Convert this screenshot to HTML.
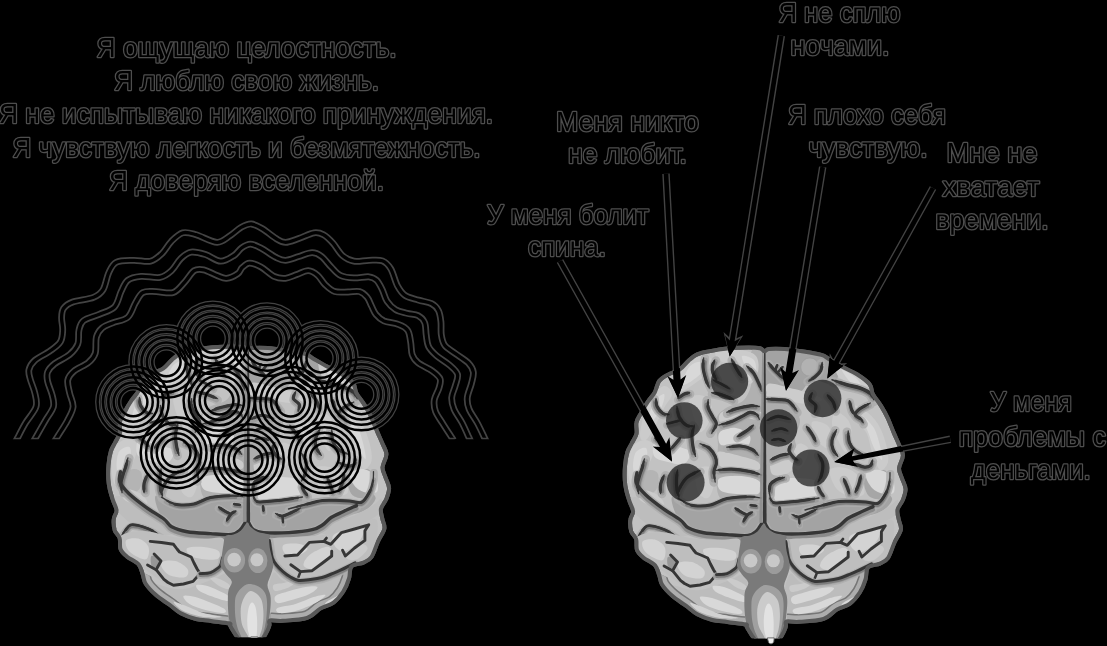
<!DOCTYPE html>
<html lang="ru">
<head>
<meta charset="utf-8">
<title>Мозг</title>
<style>
html,body{margin:0;padding:0;background:#000;}
body{width:1107px;height:646px;overflow:hidden;font-family:"Liberation Sans",sans-serif;}
svg{display:block;filter:grayscale(1);}
</style>
</head>
<body>
<svg width="1107" height="646" viewBox="0 0 1107 646">
<rect width="1107" height="646" fill="#000"/>
<defs>
<g id="brain">
<clipPath id="bclip"><path d="M764.8,351.3C766.3,351.4 765.6,349.5 768.9,349.1C772.2,348.8 779.3,348.8 784.6,349.1C789.8,349.5 794.4,350.2 800.6,351.1C806.7,352.1 816.6,353.6 821.3,354.9C826.0,356.2 825.1,356.9 828.7,358.9C832.4,361.0 838.4,364.8 843.1,367.3C847.8,369.9 852.5,371.5 856.9,374.3C861.3,377.1 866.9,380.9 869.6,384.2C872.2,387.5 871.0,390.4 872.9,394.1C874.8,397.7 878.6,402.0 881.0,405.9C883.5,409.9 885.4,413.3 887.6,417.8C889.7,422.3 892.0,428.7 893.9,433.1C895.8,437.6 897.4,440.8 898.9,444.5C900.4,448.2 902.9,451.5 902.9,455.4C902.9,459.4 899.2,464.5 899.0,468.3C898.9,472.1 900.8,474.7 901.9,478.2C903.0,481.6 905.4,485.4 905.6,489.1C905.7,492.7 904.2,496.5 902.9,499.9C901.5,503.4 898.1,506.5 897.4,509.8C896.8,513.1 898.3,516.4 898.8,519.7C899.4,523.0 901.6,525.8 900.9,529.6C900.2,533.4 896.6,537.8 894.5,542.5C892.3,547.2 890.5,554.3 888.1,557.8C885.7,561.3 883.4,562.0 880.0,563.6C876.7,565.2 870.4,564.8 868.0,567.4C865.6,570.1 866.9,575.3 865.5,579.5C864.2,583.7 862.4,588.4 859.8,592.5C857.2,596.5 853.8,600.8 850.0,603.6C846.2,606.5 841.5,606.8 837.1,609.4C832.8,611.9 829.9,616.8 823.6,618.9C817.3,621.0 805.3,621.4 799.1,621.8C792.9,622.3 788.8,620.8 786.6,621.5C784.4,622.2 786.4,624.3 786.0,626.0C785.6,627.7 784.8,629.8 784.0,631.5C783.2,633.2 782.1,634.9 781.2,636.5C780.3,638.1 779.2,638.8 778.6,641.0C778.0,643.2 781.2,648.5 777.5,650.0C773.8,651.5 760.2,651.5 756.5,650.0C752.8,648.5 756.0,643.5 755.2,641.0C754.4,638.5 752.8,636.9 751.6,635.0C750.4,633.1 749.1,631.0 748.2,629.5C747.3,628.0 746.9,626.9 746.4,626.0C745.9,625.1 748.6,625.0 745.4,624.3C742.2,623.6 732.9,622.7 727.4,621.9C721.9,621.2 717.4,621.2 712.4,620.0C707.4,618.7 701.7,616.7 697.3,614.3C692.9,611.9 690.0,608.7 685.9,605.7C681.8,602.7 676.4,599.6 672.5,596.1C668.5,592.6 664.4,588.3 662.2,584.8C660.0,581.4 660.4,578.6 659.2,575.3C658.0,572.1 657.7,568.4 655.1,565.4C652.5,562.5 646.6,560.2 643.6,557.7C640.6,555.2 638.3,553.4 637.1,550.3C635.8,547.2 637.1,542.2 636.1,539.0C635.1,535.9 632.2,534.5 631.2,531.3C630.3,528.1 629.9,523.0 630.3,519.7C630.6,516.4 633.2,514.5 633.1,511.5C633.0,508.5 630.8,505.5 629.7,501.9C628.5,498.3 627.0,493.7 626.2,490.0C625.4,486.4 625.0,484.2 624.8,480.1C624.6,476.1 624.6,470.6 625.0,466.0C625.4,461.3 626.2,456.1 627.4,452.2C628.5,448.4 630.4,446.1 631.9,443.0C633.5,440.0 635.7,437.3 636.5,433.8C637.2,430.4 635.7,425.8 636.5,422.4C637.2,418.9 639.1,416.6 641.0,413.2C642.9,409.7 645.6,405.1 647.9,401.7C650.1,398.2 652.8,395.9 654.7,392.5C656.6,389.0 656.9,384.0 659.2,381.0C661.5,378.0 664.9,376.3 668.3,374.5C671.7,372.6 676.2,372.0 679.6,369.7C683.0,367.4 685.6,363.2 688.7,360.6C691.7,358.0 694.2,355.7 697.8,354.1C701.3,352.5 704.8,352.1 710.0,351.1C715.3,350.2 722.8,349.0 729.3,348.3C735.8,347.7 743.8,347.4 748.9,347.4C754.0,347.4 757.4,347.7 760.0,348.3C762.7,349.0 763.3,351.2 764.8,351.3Z"/></clipPath>
<clipPath id="cutclip"><rect x="560" y="300" width="400" height="338.2"/></clipPath>
<g clip-path="url(#cutclip)">
<path d="M764.8,351.3C766.3,351.4 765.6,349.5 768.9,349.1C772.2,348.8 779.3,348.8 784.6,349.1C789.8,349.5 794.4,350.2 800.6,351.1C806.7,352.1 816.6,353.6 821.3,354.9C826.0,356.2 825.1,356.9 828.7,358.9C832.4,361.0 838.4,364.8 843.1,367.3C847.8,369.9 852.5,371.5 856.9,374.3C861.3,377.1 866.9,380.9 869.6,384.2C872.2,387.5 871.0,390.4 872.9,394.1C874.8,397.7 878.6,402.0 881.0,405.9C883.5,409.9 885.4,413.3 887.6,417.8C889.7,422.3 892.0,428.7 893.9,433.1C895.8,437.6 897.4,440.8 898.9,444.5C900.4,448.2 902.9,451.5 902.9,455.4C902.9,459.4 899.2,464.5 899.0,468.3C898.9,472.1 900.8,474.7 901.9,478.2C903.0,481.6 905.4,485.4 905.6,489.1C905.7,492.7 904.2,496.5 902.9,499.9C901.5,503.4 898.1,506.5 897.4,509.8C896.8,513.1 898.3,516.4 898.8,519.7C899.4,523.0 901.6,525.8 900.9,529.6C900.2,533.4 896.6,537.8 894.5,542.5C892.3,547.2 890.5,554.3 888.1,557.8C885.7,561.3 883.4,562.0 880.0,563.6C876.7,565.2 870.4,564.8 868.0,567.4C865.6,570.1 866.9,575.3 865.5,579.5C864.2,583.7 862.4,588.4 859.8,592.5C857.2,596.5 853.8,600.8 850.0,603.6C846.2,606.5 841.5,606.8 837.1,609.4C832.8,611.9 829.9,616.8 823.6,618.9C817.3,621.0 805.3,621.4 799.1,621.8C792.9,622.3 788.8,620.8 786.6,621.5C784.4,622.2 786.4,624.3 786.0,626.0C785.6,627.7 784.8,629.8 784.0,631.5C783.2,633.2 782.1,634.9 781.2,636.5C780.3,638.1 779.2,638.8 778.6,641.0C778.0,643.2 781.2,648.5 777.5,650.0C773.8,651.5 760.2,651.5 756.5,650.0C752.8,648.5 756.0,643.5 755.2,641.0C754.4,638.5 752.8,636.9 751.6,635.0C750.4,633.1 749.1,631.0 748.2,629.5C747.3,628.0 746.9,626.9 746.4,626.0C745.9,625.1 748.6,625.0 745.4,624.3C742.2,623.6 732.9,622.7 727.4,621.9C721.9,621.2 717.4,621.2 712.4,620.0C707.4,618.7 701.7,616.7 697.3,614.3C692.9,611.9 690.0,608.7 685.9,605.7C681.8,602.7 676.4,599.6 672.5,596.1C668.5,592.6 664.4,588.3 662.2,584.8C660.0,581.4 660.4,578.6 659.2,575.3C658.0,572.1 657.7,568.4 655.1,565.4C652.5,562.5 646.6,560.2 643.6,557.7C640.6,555.2 638.3,553.4 637.1,550.3C635.8,547.2 637.1,542.2 636.1,539.0C635.1,535.9 632.2,534.5 631.2,531.3C630.3,528.1 629.9,523.0 630.3,519.7C630.6,516.4 633.2,514.5 633.1,511.5C633.0,508.5 630.8,505.5 629.7,501.9C628.5,498.3 627.0,493.7 626.2,490.0C625.4,486.4 625.0,484.2 624.8,480.1C624.6,476.1 624.6,470.6 625.0,466.0C625.4,461.3 626.2,456.1 627.4,452.2C628.5,448.4 630.4,446.1 631.9,443.0C633.5,440.0 635.7,437.3 636.5,433.8C637.2,430.4 635.7,425.8 636.5,422.4C637.2,418.9 639.1,416.6 641.0,413.2C642.9,409.7 645.6,405.1 647.9,401.7C650.1,398.2 652.8,395.9 654.7,392.5C656.6,389.0 656.9,384.0 659.2,381.0C661.5,378.0 664.9,376.3 668.3,374.5C671.7,372.6 676.2,372.0 679.6,369.7C683.0,367.4 685.6,363.2 688.7,360.6C691.7,358.0 694.2,355.7 697.8,354.1C701.3,352.5 704.8,352.1 710.0,351.1C715.3,350.2 722.8,349.0 729.3,348.3C735.8,347.7 743.8,347.4 748.9,347.4C754.0,347.4 757.4,347.7 760.0,348.3C762.7,349.0 763.3,351.2 764.8,351.3Z" fill="#c2c2c2" stroke="#585858" stroke-width="4" stroke-linejoin="round"/>
<g clip-path="url(#bclip)">
<path d="M766.0,350.0C771.7,342.7 790.0,350.7 800.0,352.0C810.0,353.3 819.7,354.7 826.0,358.0C832.3,361.3 837.0,367.7 838.0,372.0C839.0,376.3 836.3,382.7 832.0,384.0C827.7,385.3 817.3,378.7 812.0,380.0C806.7,381.3 805.3,389.3 800.0,392.0C794.7,394.7 785.7,395.3 780.0,396.0C774.3,396.7 768.3,403.7 766.0,396.0C763.7,388.3 760.3,357.3 766.0,350.0Z" fill="#a3a3a3" />
<path d="M766.0,404.0C770.0,392.0 784.3,405.3 790.0,408.0C795.7,410.7 799.2,414.7 800.0,420.0C800.8,425.3 795.0,433.7 795.0,440.0C795.0,446.3 800.8,453.0 800.0,458.0C799.2,463.0 794.2,466.7 790.0,470.0C785.8,473.3 779.0,476.3 775.0,478.0C771.0,479.7 767.5,492.3 766.0,480.0C764.5,467.7 762.0,416.0 766.0,404.0Z" fill="#adadad" />
<path d="M762.0,352.0C759.7,328.7 749.7,355.3 748.0,360.0C746.3,364.7 752.7,373.3 752.0,380.0C751.3,386.7 748.3,395.3 744.0,400.0C739.7,404.7 730.7,404.7 726.0,408.0C721.3,411.3 717.3,413.8 716.0,420.0C714.7,426.2 718.0,436.7 718.0,445.0C718.0,453.3 715.7,461.2 716.0,470.0C716.3,478.8 716.0,493.0 720.0,498.0C724.0,503.0 733.0,499.7 740.0,500.0C747.0,500.3 758.3,524.7 762.0,500.0C765.7,475.3 764.3,375.3 762.0,352.0Z" fill="#b0b0b0" />
<path d="M672.0,497.0C673.7,495.2 682.2,502.0 686.0,503.5C689.8,505.0 691.0,505.7 695.0,506.0C699.0,506.3 704.7,506.7 710.0,505.5C715.3,504.3 720.5,500.4 727.0,499.0C733.5,497.6 743.2,497.1 749.0,497.0C754.8,496.9 759.8,494.3 762.0,498.5C764.2,502.7 763.2,516.4 762.0,522.0C760.8,527.6 760.3,530.0 755.0,532.0C749.7,534.0 738.3,534.0 730.0,534.0C721.7,534.0 712.0,533.3 705.0,532.0C698.0,530.7 692.8,529.0 688.0,526.0C683.2,523.0 678.7,518.8 676.0,514.0C673.3,509.2 670.3,498.8 672.0,497.0Z" fill="#a3a3a3" />
<path d="M767.0,500.0C772.3,496.2 790.2,503.0 800.0,503.0C809.8,503.0 817.7,500.8 826.0,500.0C834.3,499.2 841.7,497.5 850.0,498.0C858.3,498.5 870.0,503.7 876.0,503.0C882.0,502.3 883.3,494.5 886.0,494.0C888.7,493.5 893.0,497.0 892.0,500.0C891.0,503.0 887.0,508.7 880.0,512.0C873.0,515.3 857.3,517.0 850.0,520.0C842.7,523.0 843.5,527.7 836.0,530.0C828.5,532.3 814.3,533.5 805.0,534.0C795.7,534.5 786.2,534.3 780.0,533.0C773.8,531.7 770.2,531.5 768.0,526.0C765.8,520.5 761.7,503.8 767.0,500.0Z" fill="#a3a3a3" />
<path d="M865.0,479.0C866.8,476.0 872.5,473.3 876.0,472.0C879.5,470.7 883.9,469.0 886.0,471.0C888.1,473.0 889.2,479.5 888.5,484.0C887.8,488.5 884.9,495.8 882.0,498.0C879.1,500.2 873.8,498.8 871.0,497.5C868.2,496.2 866.5,493.1 865.5,490.0C864.5,486.9 863.2,482.0 865.0,479.0Z" fill="#a6a6a6" />
<path d="M641.0,476.0C642.2,472.7 647.2,470.3 650.0,470.0C652.8,469.7 656.8,471.0 658.0,474.0C659.2,477.0 658.3,484.7 657.0,488.0C655.7,491.3 652.4,493.7 650.0,494.0C647.6,494.3 644.0,493.0 642.5,490.0C641.0,487.0 639.8,479.3 641.0,476.0Z" fill="#b4b4b4" />
<path d="M628.0,500.0C629.0,497.7 634.7,496.0 640.0,498.0C645.3,500.0 653.3,507.3 660.0,512.0C666.7,516.7 675.0,522.3 680.0,526.0C685.0,529.7 690.7,532.3 690.0,534.0C689.3,535.7 682.7,537.3 676.0,536.0C669.3,534.7 657.0,530.0 650.0,526.0C643.0,522.0 637.7,516.3 634.0,512.0C630.3,507.7 627.0,502.3 628.0,500.0Z" fill="#bdbdbd" />
<path d="M898.0,500.0C897.0,498.7 894.3,503.3 890.0,506.0C885.7,508.7 878.7,513.0 872.0,516.0C865.3,519.0 855.7,521.0 850.0,524.0C844.3,527.0 837.0,532.3 838.0,534.0C839.0,535.7 849.0,535.7 856.0,534.0C863.0,532.3 873.3,527.3 880.0,524.0C886.7,520.7 893.0,518.0 896.0,514.0C899.0,510.0 899.0,501.3 898.0,500.0Z" fill="#bdbdbd" />
<circle cx="809.9" cy="367.1" r="9.2" fill="#b2b2b2" stroke="#9d9d9d" stroke-width="0.8"/>
<path d="M716.0,352.0C719.0,350.0 733.3,349.3 740.0,350.0C746.7,350.7 753.0,352.3 756.0,356.0C759.0,359.7 759.0,367.3 758.0,372.0C757.0,376.7 752.3,384.0 750.0,384.0C747.7,384.0 746.0,375.7 744.0,372.0C742.0,368.3 741.7,363.7 738.0,362.0C734.3,360.3 725.7,363.7 722.0,362.0C718.3,360.3 713.0,354.0 716.0,352.0Z" fill="#cbcbcb" />
<path d="M742.0,356.0C743.3,354.7 751.7,357.0 754.0,360.0C756.3,363.0 756.7,370.7 756.0,374.0C755.3,377.3 751.7,381.0 750.0,380.0C748.3,379.0 747.3,372.0 746.0,368.0C744.7,364.0 740.7,357.3 742.0,356.0Z" fill="#d8d8d8" />
<path d="M686.0,362.0C690.3,359.0 697.7,356.3 702.0,356.0C706.3,355.7 711.3,357.0 712.0,360.0C712.7,363.0 709.0,370.0 706.0,374.0C703.0,378.0 698.3,381.0 694.0,384.0C689.7,387.0 683.7,391.3 680.0,392.0C676.3,392.7 672.7,391.0 672.0,388.0C671.3,385.0 673.7,378.3 676.0,374.0C678.3,369.7 681.7,365.0 686.0,362.0Z" fill="#cbcbcb" />
<path d="M690.0,366.0C693.3,362.3 700.0,361.0 702.0,362.0C704.0,363.0 704.0,368.7 702.0,372.0C700.0,375.3 693.3,380.0 690.0,382.0C686.7,384.0 682.0,386.7 682.0,384.0C682.0,381.3 686.7,369.7 690.0,366.0Z" fill="#d8d8d8" />
<path d="M650.0,398.0C653.3,393.3 660.3,386.7 664.0,386.0C667.7,385.3 672.0,390.3 672.0,394.0C672.0,397.7 666.7,403.0 664.0,408.0C661.3,413.0 659.0,418.7 656.0,424.0C653.0,429.3 648.7,438.0 646.0,440.0C643.3,442.0 640.3,440.3 640.0,436.0C639.7,431.7 642.3,420.3 644.0,414.0C645.7,407.7 646.7,402.7 650.0,398.0Z" fill="#cbcbcb" />
<path d="M654.0,402.0C656.7,397.7 662.7,393.3 664.0,394.0C665.3,394.7 664.0,401.3 662.0,406.0C660.0,410.7 654.3,419.7 652.0,422.0C649.7,424.3 647.7,423.3 648.0,420.0C648.3,416.7 651.3,406.3 654.0,402.0Z" fill="#d8d8d8" />
<path d="M632.0,448.0C634.7,443.0 640.3,440.3 644.0,440.0C647.7,439.7 653.0,442.3 654.0,446.0C655.0,449.7 652.3,457.0 650.0,462.0C647.7,467.0 643.0,472.0 640.0,476.0C637.0,480.0 634.0,487.0 632.0,486.0C630.0,485.0 628.0,476.3 628.0,470.0C628.0,463.7 629.3,453.0 632.0,448.0Z" fill="#cbcbcb" />
<path d="M636.0,452.0C638.2,449.0 644.3,446.7 646.0,448.0C647.7,449.3 647.7,455.7 646.0,460.0C644.3,464.3 638.2,473.0 636.0,474.0C633.8,475.0 633.0,469.7 633.0,466.0C633.0,462.3 633.8,455.0 636.0,452.0Z" fill="#d8d8d8" />
<path d="M656.0,440.0C659.7,438.3 670.3,444.0 676.0,446.0C681.7,448.0 688.7,449.0 690.0,452.0C691.3,455.0 687.7,462.3 684.0,464.0C680.3,465.7 673.0,463.3 668.0,462.0C663.0,460.7 656.0,459.7 654.0,456.0C652.0,452.3 652.3,441.7 656.0,440.0Z" fill="#d8d8d8" />
<path d="M690.0,398.0C691.7,394.3 700.3,394.3 704.0,396.0C707.7,397.7 711.3,403.3 712.0,408.0C712.7,412.7 710.0,420.0 708.0,424.0C706.0,428.0 702.3,433.0 700.0,432.0C697.7,431.0 695.7,423.7 694.0,418.0C692.3,412.3 688.3,401.7 690.0,398.0Z" fill="#cbcbcb" />
<path d="M640.0,490.0C642.7,489.0 652.0,491.7 656.0,494.0C660.0,496.3 664.3,502.0 664.0,504.0C663.7,506.0 658.0,506.7 654.0,506.0C650.0,505.3 642.3,502.7 640.0,500.0C637.7,497.3 637.3,491.0 640.0,490.0Z" fill="#cbcbcb" />
<path d="M722.0,412.0C726.3,409.3 739.7,406.3 746.0,406.0C752.3,405.7 757.7,407.7 760.0,410.0C762.3,412.3 762.7,418.7 760.0,420.0C757.3,421.3 749.0,417.3 744.0,418.0C739.0,418.7 734.0,423.3 730.0,424.0C726.0,424.7 721.3,424.0 720.0,422.0C718.7,420.0 717.7,414.7 722.0,412.0Z" fill="#cbcbcb" />
<path d="M720.0,432.0C722.7,429.3 731.0,427.3 736.0,428.0C741.0,428.7 748.3,432.7 750.0,436.0C751.7,439.3 749.3,446.3 746.0,448.0C742.7,449.7 734.3,446.7 730.0,446.0C725.7,445.3 721.7,446.3 720.0,444.0C718.3,441.7 717.3,434.7 720.0,432.0Z" fill="#d8d8d8" />
<path d="M718.0,452.0C721.3,450.3 733.3,454.3 740.0,456.0C746.7,457.7 755.0,459.7 758.0,462.0C761.0,464.3 761.3,469.0 758.0,470.0C754.7,471.0 744.3,468.7 738.0,468.0C731.7,467.3 723.3,468.7 720.0,466.0C716.7,463.3 714.7,453.7 718.0,452.0Z" fill="#cbcbcb" />
<path d="M720.0,478.0C724.2,475.7 738.3,475.3 745.0,476.0C751.7,476.7 757.8,479.0 760.0,482.0C762.2,485.0 762.0,492.0 758.0,494.0C754.0,496.0 742.3,494.7 736.0,494.0C729.7,493.3 722.7,492.7 720.0,490.0C717.3,487.3 715.8,480.3 720.0,478.0Z" fill="#d8d8d8" />
<path d="M696.0,470.0C698.3,466.0 709.0,465.7 712.0,468.0C715.0,470.3 714.7,479.0 714.0,484.0C713.3,489.0 710.7,496.7 708.0,498.0C705.3,499.3 700.0,496.7 698.0,492.0C696.0,487.3 693.7,474.0 696.0,470.0Z" fill="#cbcbcb" />
<path d="M768.0,384.0C771.7,382.3 782.7,386.3 790.0,388.0C797.3,389.7 806.7,392.0 812.0,394.0C817.3,396.0 823.0,398.3 822.0,400.0C821.0,401.7 812.0,404.0 806.0,404.0C800.0,404.0 792.3,401.0 786.0,400.0C779.7,399.0 771.0,400.7 768.0,398.0C765.0,395.3 764.3,385.7 768.0,384.0Z" fill="#cccccc" />
<path d="M836.0,364.0C838.3,363.3 847.0,368.7 852.0,372.0C857.0,375.3 862.7,379.7 866.0,384.0C869.3,388.3 872.7,396.0 872.0,398.0C871.3,400.0 865.7,398.3 862.0,396.0C858.3,393.7 854.0,387.3 850.0,384.0C846.0,380.7 840.3,379.3 838.0,376.0C835.7,372.7 833.7,364.7 836.0,364.0Z" fill="#cbcbcb" />
<path d="M842.0,370.0C842.7,369.0 852.7,375.0 856.0,378.0C859.3,381.0 862.7,387.0 862.0,388.0C861.3,389.0 855.3,387.0 852.0,384.0C848.7,381.0 841.3,371.0 842.0,370.0Z" fill="#d8d8d8" />
<path d="M848.0,404.0C850.0,402.7 859.0,406.7 864.0,410.0C869.0,413.3 874.3,418.3 878.0,424.0C881.7,429.7 884.3,437.7 886.0,444.0C887.7,450.3 889.0,457.7 888.0,462.0C887.0,466.3 882.7,471.7 880.0,470.0C877.3,468.3 874.3,458.3 872.0,452.0C869.7,445.7 869.3,437.7 866.0,432.0C862.7,426.3 855.0,422.7 852.0,418.0C849.0,413.3 846.0,405.3 848.0,404.0Z" fill="#cbcbcb" />
<path d="M862.0,416.0C863.0,415.3 871.0,423.0 874.0,428.0C877.0,433.0 878.7,440.7 880.0,446.0C881.3,451.3 883.0,459.7 882.0,460.0C881.0,460.3 876.3,452.7 874.0,448.0C871.7,443.3 870.0,437.3 868.0,432.0C866.0,426.7 861.0,416.7 862.0,416.0Z" fill="#d8d8d8" />
<path d="M836.0,412.0C838.7,411.3 845.3,416.0 848.0,420.0C850.7,424.0 852.3,430.7 852.0,436.0C851.7,441.3 848.3,451.3 846.0,452.0C843.7,452.7 840.3,444.7 838.0,440.0C835.7,435.3 832.3,428.7 832.0,424.0C831.7,419.3 833.3,412.7 836.0,412.0Z" fill="#cbcbcb" />
<path d="M812.0,422.0C814.0,420.0 824.3,422.3 828.0,426.0C831.7,429.7 834.3,440.3 834.0,444.0C833.7,447.7 829.0,449.0 826.0,448.0C823.0,447.0 818.3,442.3 816.0,438.0C813.7,433.7 810.0,424.0 812.0,422.0Z" fill="#cbcbcb" />
<path d="M770.0,482.0C774.0,478.3 788.0,478.0 796.0,478.0C804.0,478.0 814.0,478.7 818.0,482.0C822.0,485.3 823.7,495.0 820.0,498.0C816.3,501.0 804.0,499.7 796.0,500.0C788.0,500.3 776.3,503.0 772.0,500.0C767.7,497.0 766.0,485.7 770.0,482.0Z" fill="#d8d8d8" />
<path d="M772.0,458.0C775.0,454.3 786.0,451.0 790.0,452.0C794.0,453.0 796.7,460.3 796.0,464.0C795.3,467.7 790.0,472.3 786.0,474.0C782.0,475.7 774.3,476.7 772.0,474.0C769.7,471.3 769.0,461.7 772.0,458.0Z" fill="#cbcbcb" />
<path d="M830.0,470.0C831.7,466.7 841.0,466.7 846.0,468.0C851.0,469.3 857.0,473.7 860.0,478.0C863.0,482.3 865.7,491.0 864.0,494.0C862.3,497.0 854.7,497.0 850.0,496.0C845.3,495.0 839.3,492.3 836.0,488.0C832.7,483.7 828.3,473.3 830.0,470.0Z" fill="#cbcbcb" />
<path d="M866.0,474.0C867.3,471.0 875.7,469.3 880.0,470.0C884.3,470.7 889.7,474.3 892.0,478.0C894.3,481.7 895.3,489.3 894.0,492.0C892.7,494.7 887.7,494.7 884.0,494.0C880.3,493.3 875.0,491.3 872.0,488.0C869.0,484.7 864.7,477.0 866.0,474.0Z" fill="#d8d8d8" />
<path d="M798.0,444.0C800.7,442.0 806.7,445.3 808.0,448.0C809.3,450.7 807.7,456.3 806.0,460.0C804.3,463.7 800.3,470.0 798.0,470.0C795.7,470.0 792.0,464.3 792.0,460.0C792.0,455.7 795.3,446.0 798.0,444.0Z" fill="#cbcbcb" />
<path d="M703.6,357.8C703.5,359.5 702.7,364.5 703.1,368.2C703.5,371.9 704.9,376.5 705.9,379.8C706.9,383.1 708.8,386.6 709.4,388.0" transform="translate(1.4,0.5)" fill="none" stroke-linecap="round" stroke-linejoin="round" stroke="#adadad" stroke-width="8.6" stroke-opacity="0.85"/>
<path d="M714.7,360.1C714.3,361.1 712.7,363.8 712.4,365.9C712.1,368.0 712.2,370.6 712.9,372.9C713.6,375.2 715.8,378.6 716.4,379.8" transform="translate(1.3,0.5)" fill="none" stroke-linecap="round" stroke-linejoin="round" stroke="#adadad" stroke-width="8.6" stroke-opacity="0.85"/>
<path d="M731.4,358.9C732.2,360.4 734.4,365.1 736.1,368.2C737.9,371.3 740.9,375.9 741.9,377.5" transform="translate(0.3,1.5)" fill="none" stroke-linecap="round" stroke-linejoin="round" stroke="#adadad" stroke-width="8.6" stroke-opacity="0.85"/>
<path d="M712.9,379.8C714.5,380.6 719.4,383.0 722.2,384.5C725.1,386.0 728.7,388.2 730.0,389.0" transform="translate(0.3,1.5)" fill="none" stroke-linecap="round" stroke-linejoin="round" stroke="#adadad" stroke-width="7.0" stroke-opacity="0.85"/>
<path d="M711.7,392.6C713.5,393.0 718.5,393.7 722.2,394.9C725.9,396.1 731.9,398.8 733.8,399.6" transform="translate(0.3,1.5)" fill="none" stroke-linecap="round" stroke-linejoin="round" stroke="#adadad" stroke-width="8.6" stroke-opacity="0.85"/>
<path d="M746.5,365.9C747.7,367.1 751.4,369.8 753.5,372.9C755.6,376.0 757.9,381.4 759.3,384.5C760.7,387.6 761.6,390.2 762.1,391.4" transform="translate(0.3,1.5)" fill="none" stroke-linecap="round" stroke-linejoin="round" stroke="#adadad" stroke-width="8.6" stroke-opacity="0.85"/>
<path d="M708.2,399.6C708.2,401.0 707.4,404.8 708.2,407.7C709.0,410.6 711.5,414.3 712.9,417.0C714.3,419.7 716.6,421.2 716.4,423.9C716.2,426.6 712.5,431.6 711.7,433.2" transform="translate(-1.4,0.6)" fill="none" stroke-linecap="round" stroke-linejoin="round" stroke="#adadad" stroke-width="8.6" stroke-opacity="0.85"/>
<path d="M726.8,412.3C728.3,411.7 732.2,409.9 736.1,408.8C740.0,407.7 746.1,406.2 750.0,405.8C753.9,405.4 757.8,406.4 759.3,406.5" transform="translate(0.3,1.5)" fill="none" stroke-linecap="round" stroke-linejoin="round" stroke="#adadad" stroke-width="8.6" stroke-opacity="0.85"/>
<path d="M718.7,425.1C720.8,424.5 727.3,423.2 731.4,421.6C735.5,420.1 740.0,417.4 743.1,415.8C746.2,414.2 747.7,412.5 750.0,412.3C752.3,412.1 755.5,413.5 757.0,414.7C758.5,415.9 758.9,418.5 759.3,419.3" transform="translate(0.3,1.5)" fill="none" stroke-linecap="round" stroke-linejoin="round" stroke="#adadad" stroke-width="8.6" stroke-opacity="0.85"/>
<path d="M737.2,436.7C738.8,435.7 743.8,432.8 746.5,430.9C749.2,429.0 752.3,426.1 753.5,425.1" transform="translate(0.3,1.5)" fill="none" stroke-linecap="round" stroke-linejoin="round" stroke="#adadad" stroke-width="8.6" stroke-opacity="0.85"/>
<path d="M726.8,447.2C729.1,447.0 736.5,445.6 740.7,446.0C745.0,446.4 749.4,447.9 752.3,449.5C755.2,451.1 757.2,454.3 758.2,455.3" transform="translate(0.3,1.5)" fill="none" stroke-linecap="round" stroke-linejoin="round" stroke="#adadad" stroke-width="8.6" stroke-opacity="0.85"/>
<path d="M700.1,443.7C701.6,444.5 706.9,446.2 709.4,448.3C711.9,450.4 714.0,453.9 715.2,456.4C716.4,458.9 716.6,460.9 716.4,463.4C716.2,465.9 714.2,468.4 714.0,471.5C713.8,474.6 715.0,480.2 715.2,482.0" transform="translate(-1.4,0.5)" fill="none" stroke-linecap="round" stroke-linejoin="round" stroke="#adadad" stroke-width="8.6" stroke-opacity="0.85"/>
<path d="M715.2,470.4C717.9,470.2 725.6,469.0 731.4,469.2C737.2,469.4 745.0,470.5 750.0,471.5C755.0,472.5 759.7,474.4 761.6,475.0" transform="translate(0.3,1.5)" fill="none" stroke-linecap="round" stroke-linejoin="round" stroke="#adadad" stroke-width="8.6" stroke-opacity="0.85"/>
<path d="M656.0,398.4C656.2,399.8 655.9,404.0 657.1,406.5C658.3,409.0 661.0,412.2 663.0,413.5C665.0,414.8 668.0,414.3 669.0,414.5" transform="translate(-1.3,0.8)" fill="none" stroke-linecap="round" stroke-linejoin="round" stroke="#adadad" stroke-width="8.6" stroke-opacity="0.85"/>
<path d="M678.0,398.4C679.0,397.7 681.8,395.2 683.8,394.2C685.8,393.2 688.7,392.9 689.7,392.6" transform="translate(0.3,1.5)" fill="none" stroke-linecap="round" stroke-linejoin="round" stroke="#adadad" stroke-width="8.6" stroke-opacity="0.85"/>
<path d="M676.9,406.5C677.3,408.2 677.7,413.9 679.2,417.0C680.8,420.1 683.7,423.6 686.2,425.1C688.7,426.7 692.9,426.1 694.3,426.3" transform="translate(0.3,1.5)" fill="none" stroke-linecap="round" stroke-linejoin="round" stroke="#adadad" stroke-width="8.6" stroke-opacity="0.85"/>
<path d="M666.4,423.9C668.0,423.5 673.3,422.2 675.7,421.6C678.1,421.0 680.1,420.3 681.0,420.0" transform="translate(0.3,1.5)" fill="none" stroke-linecap="round" stroke-linejoin="round" stroke="#adadad" stroke-width="7.0" stroke-opacity="0.85"/>
<path d="M694.3,425.1C693.9,426.9 692.2,431.9 692.0,435.6C691.8,439.3 692.5,443.7 693.1,447.2C693.7,450.7 695.1,454.9 695.5,456.4" transform="translate(-1.4,0.5)" fill="none" stroke-linecap="round" stroke-linejoin="round" stroke="#adadad" stroke-width="8.6" stroke-opacity="0.85"/>
<path d="M654.8,437.9C655.8,438.7 658.9,440.9 660.6,442.5C662.4,444.1 664.5,446.4 665.3,447.2" transform="translate(0.3,1.5)" fill="none" stroke-linecap="round" stroke-linejoin="round" stroke="#adadad" stroke-width="8.6" stroke-opacity="0.85"/>
<path d="M680.4,437.9C679.4,439.0 676.2,442.9 674.6,444.8C673.0,446.7 671.6,448.3 671.0,449.0" transform="translate(0.3,1.5)" fill="none" stroke-linecap="round" stroke-linejoin="round" stroke="#adadad" stroke-width="8.6" stroke-opacity="0.85"/>
<path d="M644.4,458.8C644.0,460.4 642.9,465.4 642.1,468.1C641.3,470.8 640.5,472.3 639.7,475.0C638.9,477.7 637.6,481.2 637.4,484.3C637.2,487.4 638.4,492.1 638.6,493.6" transform="translate(1.4,0.3)" fill="none" stroke-linecap="round" stroke-linejoin="round" stroke="#adadad" stroke-width="8.6" stroke-opacity="0.85"/>
<path d="M664.1,475.0C663.5,476.6 661.2,481.2 660.6,484.3C660.0,487.4 660.6,492.1 660.6,493.6" transform="translate(1.4,0.3)" fill="none" stroke-linecap="round" stroke-linejoin="round" stroke="#adadad" stroke-width="8.6" stroke-opacity="0.85"/>
<path d="M700.1,470.4C698.0,471.5 690.6,474.6 687.3,477.3C684.0,480.0 681.9,483.9 680.4,486.6C678.9,489.3 678.4,492.4 678.0,493.6" transform="translate(0.3,1.5)" fill="none" stroke-linecap="round" stroke-linejoin="round" stroke="#adadad" stroke-width="8.6" stroke-opacity="0.85"/>
<path d="M768.1,362.4C768.9,363.4 771.2,366.4 772.8,368.2C774.3,369.9 775.7,371.1 777.4,372.9C779.1,374.6 782.2,377.7 783.2,378.7" transform="translate(0.3,1.5)" fill="none" stroke-linecap="round" stroke-linejoin="round" stroke="#adadad" stroke-width="8.6" stroke-opacity="0.85"/>
<path d="M777.4,364.7C777.0,365.7 775.5,369.5 775.1,370.5" transform="translate(0.3,1.5)" fill="none" stroke-linecap="round" stroke-linejoin="round" stroke="#adadad" stroke-width="7.0" stroke-opacity="0.85"/>
<path d="M783.0,366.5C782.5,367.1 780.9,368.9 780.0,370.0C779.1,371.1 777.8,372.4 777.4,372.9" transform="translate(0.3,1.5)" fill="none" stroke-linecap="round" stroke-linejoin="round" stroke="#adadad" stroke-width="7.0" stroke-opacity="0.85"/>
<path d="M822.2,362.4C822.0,363.8 821.9,368.2 820.8,370.5C819.7,372.8 817.7,374.6 815.7,376.3C813.7,378.1 809.9,380.2 808.8,381.0" transform="translate(-1.3,0.8)" fill="none" stroke-linecap="round" stroke-linejoin="round" stroke="#adadad" stroke-width="8.6" stroke-opacity="0.85"/>
<path d="M832.0,379.8C834.3,380.6 841.3,383.1 845.9,384.5C850.5,385.9 855.9,386.6 859.8,388.0C863.7,389.4 866.8,390.7 869.1,392.6C871.4,394.5 873.0,398.4 873.8,399.6" transform="translate(0.3,1.5)" fill="none" stroke-linecap="round" stroke-linejoin="round" stroke="#adadad" stroke-width="9.7" stroke-opacity="0.85"/>
<path d="M870.3,403.0C868.5,404.0 862.3,406.9 859.8,408.8C857.3,410.8 855.0,412.9 855.2,414.7C855.4,416.4 859.6,417.9 861.0,419.3C862.4,420.7 862.9,422.2 863.3,422.8" transform="translate(0.3,1.5)" fill="none" stroke-linecap="round" stroke-linejoin="round" stroke="#adadad" stroke-width="8.6" stroke-opacity="0.85"/>
<path d="M849.4,400.7C849.8,402.2 850.7,407.7 851.7,410.0C852.7,412.3 854.6,413.9 855.2,414.7" transform="translate(0.3,1.5)" fill="none" stroke-linecap="round" stroke-linejoin="round" stroke="#adadad" stroke-width="8.6" stroke-opacity="0.85"/>
<path d="M812.2,392.6C811.8,393.8 809.3,397.5 809.9,399.6C810.5,401.7 814.9,403.3 815.7,405.4C816.5,407.5 814.8,411.1 814.6,412.3" transform="translate(0.3,1.5)" fill="none" stroke-linecap="round" stroke-linejoin="round" stroke="#adadad" stroke-width="8.6" stroke-opacity="0.85"/>
<path d="M827.3,394.9C828.3,396.1 831.7,399.4 833.1,401.9C834.5,404.4 835.1,408.6 835.5,410.0" transform="translate(0.3,1.5)" fill="none" stroke-linecap="round" stroke-linejoin="round" stroke="#adadad" stroke-width="8.6" stroke-opacity="0.85"/>
<path d="M764.6,398.9C766.9,399.0 774.7,399.3 778.6,399.6C782.5,399.9 785.4,399.6 787.9,400.7C790.4,401.8 792.2,404.8 793.7,406.5C795.2,408.2 796.5,410.4 797.1,411.2" transform="translate(0.3,1.5)" fill="none" stroke-linecap="round" stroke-linejoin="round" stroke="#adadad" stroke-width="8.6" stroke-opacity="0.85"/>
<path d="M806.4,426.3C807.4,427.6 810.7,431.9 812.2,434.4C813.8,436.9 815.1,440.2 815.7,441.4" transform="translate(0.3,1.5)" fill="none" stroke-linecap="round" stroke-linejoin="round" stroke="#adadad" stroke-width="8.6" stroke-opacity="0.85"/>
<path d="M836.6,429.7C835.8,431.4 832.6,436.9 832.0,440.2C831.4,443.5 832.1,446.8 833.1,449.5C834.1,452.2 837.0,455.2 837.8,456.4" transform="translate(-1.3,0.6)" fill="none" stroke-linecap="round" stroke-linejoin="round" stroke="#adadad" stroke-width="8.6" stroke-opacity="0.85"/>
<path d="M848.2,430.9C848.4,432.8 848.2,439.2 849.4,442.5C850.6,445.8 852.7,448.5 855.2,450.6C857.7,452.7 863.0,454.5 864.5,455.3" transform="translate(-1.3,0.8)" fill="none" stroke-linecap="round" stroke-linejoin="round" stroke="#adadad" stroke-width="8.6" stroke-opacity="0.85"/>
<path d="M791.3,443.7C790.9,444.9 788.6,448.3 789.0,450.6C789.4,452.9 792.2,456.0 793.7,457.6C795.2,459.2 797.3,459.6 798.0,460.0" transform="translate(0.3,1.5)" fill="none" stroke-linecap="round" stroke-linejoin="round" stroke="#adadad" stroke-width="8.6" stroke-opacity="0.85"/>
<path d="M770.4,459.9C772.1,459.1 777.8,456.3 780.9,455.3C784.0,454.3 787.6,454.3 789.0,454.1" transform="translate(0.3,1.5)" fill="none" stroke-linecap="round" stroke-linejoin="round" stroke="#adadad" stroke-width="8.6" stroke-opacity="0.85"/>
<path d="M767.0,420.5C768.8,419.8 774.1,416.5 778.0,416.3C781.9,416.1 788.2,418.8 790.2,419.3" transform="translate(0.3,1.5)" fill="none" stroke-linecap="round" stroke-linejoin="round" stroke="#adadad" stroke-width="8.6" stroke-opacity="0.85"/>
<path d="M771.5,431.0C773.1,430.6 778.2,428.6 781.0,428.6C783.8,428.6 786.8,430.6 788.0,431.0" transform="translate(0.3,1.5)" fill="none" stroke-linecap="round" stroke-linejoin="round" stroke="#adadad" stroke-width="7.6" stroke-opacity="0.85"/>
<path d="M771.5,440.2C772.7,440.0 776.3,438.8 778.6,439.0C780.9,439.2 784.4,441.0 785.5,441.4" transform="translate(0.3,1.5)" fill="none" stroke-linecap="round" stroke-linejoin="round" stroke="#adadad" stroke-width="7.0" stroke-opacity="0.85"/>
<path d="M818.0,454.1C818.8,455.7 822.1,459.9 822.7,463.4C823.3,466.9 822.3,471.9 821.5,475.0C820.7,478.1 818.6,480.8 818.0,482.0" transform="translate(0.3,1.5)" fill="none" stroke-linecap="round" stroke-linejoin="round" stroke="#adadad" stroke-width="8.6" stroke-opacity="0.85"/>
<path d="M855.2,463.4C856.6,464.0 860.8,466.5 863.3,466.9C865.8,467.3 868.8,466.9 870.3,465.7C871.8,464.5 872.2,460.9 872.6,459.9" transform="translate(0.3,1.5)" fill="none" stroke-linecap="round" stroke-linejoin="round" stroke="#adadad" stroke-width="8.6" stroke-opacity="0.85"/>
<path d="M843.6,478.5C844.2,479.9 846.1,484.1 847.1,486.6C848.1,489.1 849.0,492.4 849.4,493.6" transform="translate(0.3,1.5)" fill="none" stroke-linecap="round" stroke-linejoin="round" stroke="#adadad" stroke-width="8.6" stroke-opacity="0.85"/>
<path d="M861.0,475.0C860.6,476.6 859.7,481.4 858.7,484.3C857.7,487.2 855.8,491.0 855.2,492.4" transform="translate(0.3,1.5)" fill="none" stroke-linecap="round" stroke-linejoin="round" stroke="#adadad" stroke-width="8.6" stroke-opacity="0.85"/>
<path d="M784.4,477.3C783.0,477.7 778.6,478.5 776.3,479.7C774.0,480.9 771.6,482.0 770.4,484.3C769.2,486.6 769.5,492.1 769.3,493.6" transform="translate(1.3,1.0)" fill="none" stroke-linecap="round" stroke-linejoin="round" stroke="#adadad" stroke-width="8.6" stroke-opacity="0.85"/>
<path d="M818.0,486.6C818.4,487.5 819.5,490.4 820.5,492.0C821.5,493.6 823.4,495.8 824.0,496.5" transform="translate(0.3,1.5)" fill="none" stroke-linecap="round" stroke-linejoin="round" stroke="#adadad" stroke-width="8.6" stroke-opacity="0.85"/>
<path d="M678.0,498.1C679.4,499.0 683.7,501.9 686.5,503.2C689.3,504.5 691.0,505.5 695.0,505.8C699.0,506.1 705.1,506.2 710.4,505.0C715.7,503.8 720.6,499.9 727.0,498.5C733.4,497.1 743.3,496.7 749.0,496.6C754.7,496.5 759.0,497.8 761.0,498.0" transform="translate(0.3,1.5)" fill="none" stroke-linecap="round" stroke-linejoin="round" stroke="#adadad" stroke-width="8.1" stroke-opacity="0.85"/>
<path d="M677.5,470.0C677.3,471.7 676.6,476.7 676.5,480.0C676.4,483.3 676.6,487.2 677.0,490.0C677.4,492.8 678.7,495.8 679.0,497.0" transform="translate(-1.3,0.5)" fill="none" stroke-linecap="round" stroke-linejoin="round" stroke="#adadad" stroke-width="8.6" stroke-opacity="0.85"/>
<path d="M769.6,494.0C769.8,495.0 769.9,498.5 771.0,500.0C772.1,501.5 772.0,502.8 776.0,503.0C780.0,503.2 787.8,502.3 795.0,501.5C802.2,500.7 815.0,498.6 819.0,498.0" transform="translate(0.3,1.5)" fill="none" stroke-linecap="round" stroke-linejoin="round" stroke="#adadad" stroke-width="8.1" stroke-opacity="0.85"/>
<path d="M735.0,508.0C736.2,508.8 739.9,511.3 742.0,512.5C744.1,513.7 746.6,514.6 747.5,515.0" transform="translate(0.3,1.5)" fill="none" stroke-linecap="round" stroke-linejoin="round" stroke="#adadad" stroke-width="8.1" stroke-opacity="0.85"/>
<path d="M752.5,512.0C751.7,512.5 749.1,513.3 747.5,515.0C745.9,516.7 743.8,520.8 743.0,522.0" transform="translate(0.3,1.5)" fill="none" stroke-linecap="round" stroke-linejoin="round" stroke="#adadad" stroke-width="8.1" stroke-opacity="0.85"/>
<path d="M750.0,505.0C751.2,505.2 755.8,505.8 757.0,506.0" transform="translate(0.3,1.5)" fill="none" stroke-linecap="round" stroke-linejoin="round" stroke="#adadad" stroke-width="7.0" stroke-opacity="0.85"/>
<path d="M792.0,514.5C793.2,514.9 796.3,517.2 799.0,517.0C801.7,516.8 805.0,514.8 808.0,513.5C811.0,512.2 815.5,509.8 817.0,509.0" transform="translate(0.3,1.5)" fill="none" stroke-linecap="round" stroke-linejoin="round" stroke="#adadad" stroke-width="8.1" stroke-opacity="0.85"/>
<path d="M799.0,517.0C799.1,518.2 799.4,522.8 799.5,524.0" transform="translate(0.3,1.5)" fill="none" stroke-linecap="round" stroke-linejoin="round" stroke="#adadad" stroke-width="6.5" stroke-opacity="0.85"/>
<path d="M779.5,507.0C779.6,507.8 779.9,511.2 780.0,512.0" transform="translate(0.3,1.5)" fill="none" stroke-linecap="round" stroke-linejoin="round" stroke="#adadad" stroke-width="7.0" stroke-opacity="0.85"/>
<path d="M637.0,472.6C636.9,474.3 634.9,479.1 636.3,482.8C637.7,486.5 641.2,490.4 645.6,494.7C650.0,498.9 656.9,504.1 662.7,508.3C668.5,512.5 676.1,516.8 680.4,520.0C684.6,523.2 684.3,525.7 688.2,527.8C692.1,529.9 697.3,531.6 703.8,532.7C710.3,533.8 719.6,534.1 727.0,534.6C734.4,535.1 743.1,536.1 748.0,535.5C752.9,534.9 754.2,532.9 756.5,531.0C758.8,529.1 760.7,525.2 761.5,524.0" transform="translate(0.2,2.2)" fill="none" stroke-linecap="round" stroke-linejoin="round" stroke="#adadad" stroke-width="9.2" stroke-opacity="0.85"/>
<path d="M637.5,537.5C638.2,536.4 640.4,532.9 642.0,531.0C643.6,529.1 644.8,526.8 647.0,526.0C649.2,525.2 652.0,525.9 655.0,526.5C658.0,527.1 662.1,528.6 664.8,529.7C667.5,530.8 669.0,531.9 671.0,533.0C673.0,534.1 675.6,536.0 676.5,536.6" transform="translate(0.3,1.5)" fill="none" stroke-linecap="round" stroke-linejoin="round" stroke="#adadad" stroke-width="7.6" stroke-opacity="0.85"/>
<path d="M890.0,472.6C889.9,474.2 890.2,478.6 889.5,482.0C888.8,485.4 887.9,489.5 886.0,493.0C884.1,496.5 881.5,501.7 878.2,503.2C874.9,504.7 869.7,502.3 866.0,502.0C862.3,501.7 860.5,501.6 856.0,501.5C851.5,501.4 845.0,500.8 839.0,501.5C833.0,502.2 825.7,504.6 820.0,506.0C814.3,507.4 807.5,509.3 805.0,510.0" transform="translate(0.3,1.5)" fill="none" stroke-linecap="round" stroke-linejoin="round" stroke="#adadad" stroke-width="8.1" stroke-opacity="0.85"/>
<path d="M873.0,506.6C870.8,507.6 864.2,510.5 860.0,512.5C855.8,514.5 851.1,516.2 847.6,518.5C844.1,520.8 842.1,524.0 839.0,526.0C835.9,528.0 834.3,529.4 828.7,530.7C823.1,532.0 813.4,533.1 805.3,533.6C797.2,534.1 785.9,534.1 780.0,533.6C774.1,533.1 772.5,532.3 770.0,530.7C767.5,529.1 766.1,525.1 765.3,524.0" transform="translate(-0.2,2.2)" fill="none" stroke-linecap="round" stroke-linejoin="round" stroke="#adadad" stroke-width="9.2" stroke-opacity="0.85"/>
<path d="M703.6,357.8C703.5,359.5 702.7,364.5 703.1,368.2C703.5,371.9 704.9,376.5 705.9,379.8C706.9,383.1 708.8,386.6 709.4,388.0" transform="translate(1.6,0.5)" fill="none" stroke-linecap="round" stroke-linejoin="round" stroke="#989898" stroke-width="5.3" stroke-opacity="0.8" pathLength="100" stroke-dasharray="88 100" stroke-dashoffset="-6"/>
<path d="M714.7,360.1C714.3,361.1 712.7,363.8 712.4,365.9C712.1,368.0 712.2,370.6 712.9,372.9C713.6,375.2 715.8,378.6 716.4,379.8" transform="translate(1.4,0.5)" fill="none" stroke-linecap="round" stroke-linejoin="round" stroke="#989898" stroke-width="5.3" stroke-opacity="0.8" pathLength="100" stroke-dasharray="88 100" stroke-dashoffset="-6"/>
<path d="M731.4,358.9C732.2,360.4 734.4,365.1 736.1,368.2C737.9,371.3 740.9,375.9 741.9,377.5" transform="translate(0.4,1.7)" fill="none" stroke-linecap="round" stroke-linejoin="round" stroke="#989898" stroke-width="5.3" stroke-opacity="0.8" pathLength="100" stroke-dasharray="88 100" stroke-dashoffset="-6"/>
<path d="M712.9,379.8C714.5,380.6 719.4,383.0 722.2,384.5C725.1,386.0 728.7,388.2 730.0,389.0" transform="translate(0.4,1.7)" fill="none" stroke-linecap="round" stroke-linejoin="round" stroke="#989898" stroke-width="4.3" stroke-opacity="0.8" pathLength="100" stroke-dasharray="88 100" stroke-dashoffset="-6"/>
<path d="M711.7,392.6C713.5,393.0 718.5,393.7 722.2,394.9C725.9,396.1 731.9,398.8 733.8,399.6" transform="translate(0.4,1.7)" fill="none" stroke-linecap="round" stroke-linejoin="round" stroke="#989898" stroke-width="5.3" stroke-opacity="0.8" pathLength="100" stroke-dasharray="88 100" stroke-dashoffset="-6"/>
<path d="M746.5,365.9C747.7,367.1 751.4,369.8 753.5,372.9C755.6,376.0 757.9,381.4 759.3,384.5C760.7,387.6 761.6,390.2 762.1,391.4" transform="translate(0.4,1.7)" fill="none" stroke-linecap="round" stroke-linejoin="round" stroke="#989898" stroke-width="5.3" stroke-opacity="0.8" pathLength="100" stroke-dasharray="88 100" stroke-dashoffset="-6"/>
<path d="M708.2,399.6C708.2,401.0 707.4,404.8 708.2,407.7C709.0,410.6 711.5,414.3 712.9,417.0C714.3,419.7 716.6,421.2 716.4,423.9C716.2,426.6 712.5,431.6 711.7,433.2" transform="translate(-1.6,0.7)" fill="none" stroke-linecap="round" stroke-linejoin="round" stroke="#989898" stroke-width="5.3" stroke-opacity="0.8" pathLength="100" stroke-dasharray="88 100" stroke-dashoffset="-6"/>
<path d="M726.8,412.3C728.3,411.7 732.2,409.9 736.1,408.8C740.0,407.7 746.1,406.2 750.0,405.8C753.9,405.4 757.8,406.4 759.3,406.5" transform="translate(0.4,1.7)" fill="none" stroke-linecap="round" stroke-linejoin="round" stroke="#989898" stroke-width="5.3" stroke-opacity="0.8" pathLength="100" stroke-dasharray="88 100" stroke-dashoffset="-6"/>
<path d="M718.7,425.1C720.8,424.5 727.3,423.2 731.4,421.6C735.5,420.1 740.0,417.4 743.1,415.8C746.2,414.2 747.7,412.5 750.0,412.3C752.3,412.1 755.5,413.5 757.0,414.7C758.5,415.9 758.9,418.5 759.3,419.3" transform="translate(0.4,1.7)" fill="none" stroke-linecap="round" stroke-linejoin="round" stroke="#989898" stroke-width="5.3" stroke-opacity="0.8" pathLength="100" stroke-dasharray="88 100" stroke-dashoffset="-6"/>
<path d="M737.2,436.7C738.8,435.7 743.8,432.8 746.5,430.9C749.2,429.0 752.3,426.1 753.5,425.1" transform="translate(0.4,1.7)" fill="none" stroke-linecap="round" stroke-linejoin="round" stroke="#989898" stroke-width="5.3" stroke-opacity="0.8" pathLength="100" stroke-dasharray="88 100" stroke-dashoffset="-6"/>
<path d="M726.8,447.2C729.1,447.0 736.5,445.6 740.7,446.0C745.0,446.4 749.4,447.9 752.3,449.5C755.2,451.1 757.2,454.3 758.2,455.3" transform="translate(0.4,1.7)" fill="none" stroke-linecap="round" stroke-linejoin="round" stroke="#989898" stroke-width="5.3" stroke-opacity="0.8" pathLength="100" stroke-dasharray="88 100" stroke-dashoffset="-6"/>
<path d="M700.1,443.7C701.6,444.5 706.9,446.2 709.4,448.3C711.9,450.4 714.0,453.9 715.2,456.4C716.4,458.9 716.6,460.9 716.4,463.4C716.2,465.9 714.2,468.4 714.0,471.5C713.8,474.6 715.0,480.2 715.2,482.0" transform="translate(-1.6,0.5)" fill="none" stroke-linecap="round" stroke-linejoin="round" stroke="#989898" stroke-width="5.3" stroke-opacity="0.8" pathLength="100" stroke-dasharray="88 100" stroke-dashoffset="-6"/>
<path d="M715.2,470.4C717.9,470.2 725.6,469.0 731.4,469.2C737.2,469.4 745.0,470.5 750.0,471.5C755.0,472.5 759.7,474.4 761.6,475.0" transform="translate(0.4,1.7)" fill="none" stroke-linecap="round" stroke-linejoin="round" stroke="#989898" stroke-width="5.3" stroke-opacity="0.8" pathLength="100" stroke-dasharray="88 100" stroke-dashoffset="-6"/>
<path d="M656.0,398.4C656.2,399.8 655.9,404.0 657.1,406.5C658.3,409.0 661.0,412.2 663.0,413.5C665.0,414.8 668.0,414.3 669.0,414.5" transform="translate(-1.4,0.9)" fill="none" stroke-linecap="round" stroke-linejoin="round" stroke="#989898" stroke-width="5.3" stroke-opacity="0.8" pathLength="100" stroke-dasharray="88 100" stroke-dashoffset="-6"/>
<path d="M678.0,398.4C679.0,397.7 681.8,395.2 683.8,394.2C685.8,393.2 688.7,392.9 689.7,392.6" transform="translate(0.4,1.7)" fill="none" stroke-linecap="round" stroke-linejoin="round" stroke="#989898" stroke-width="5.3" stroke-opacity="0.8" pathLength="100" stroke-dasharray="88 100" stroke-dashoffset="-6"/>
<path d="M676.9,406.5C677.3,408.2 677.7,413.9 679.2,417.0C680.8,420.1 683.7,423.6 686.2,425.1C688.7,426.7 692.9,426.1 694.3,426.3" transform="translate(0.4,1.7)" fill="none" stroke-linecap="round" stroke-linejoin="round" stroke="#989898" stroke-width="5.3" stroke-opacity="0.8" pathLength="100" stroke-dasharray="88 100" stroke-dashoffset="-6"/>
<path d="M666.4,423.9C668.0,423.5 673.3,422.2 675.7,421.6C678.1,421.0 680.1,420.3 681.0,420.0" transform="translate(0.4,1.7)" fill="none" stroke-linecap="round" stroke-linejoin="round" stroke="#989898" stroke-width="4.3" stroke-opacity="0.8" pathLength="100" stroke-dasharray="88 100" stroke-dashoffset="-6"/>
<path d="M694.3,425.1C693.9,426.9 692.2,431.9 692.0,435.6C691.8,439.3 692.5,443.7 693.1,447.2C693.7,450.7 695.1,454.9 695.5,456.4" transform="translate(-1.6,0.5)" fill="none" stroke-linecap="round" stroke-linejoin="round" stroke="#989898" stroke-width="5.3" stroke-opacity="0.8" pathLength="100" stroke-dasharray="88 100" stroke-dashoffset="-6"/>
<path d="M654.8,437.9C655.8,438.7 658.9,440.9 660.6,442.5C662.4,444.1 664.5,446.4 665.3,447.2" transform="translate(0.4,1.7)" fill="none" stroke-linecap="round" stroke-linejoin="round" stroke="#989898" stroke-width="5.3" stroke-opacity="0.8" pathLength="100" stroke-dasharray="88 100" stroke-dashoffset="-6"/>
<path d="M680.4,437.9C679.4,439.0 676.2,442.9 674.6,444.8C673.0,446.7 671.6,448.3 671.0,449.0" transform="translate(0.4,1.7)" fill="none" stroke-linecap="round" stroke-linejoin="round" stroke="#989898" stroke-width="5.3" stroke-opacity="0.8" pathLength="100" stroke-dasharray="88 100" stroke-dashoffset="-6"/>
<path d="M644.4,458.8C644.0,460.4 642.9,465.4 642.1,468.1C641.3,470.8 640.5,472.3 639.7,475.0C638.9,477.7 637.6,481.2 637.4,484.3C637.2,487.4 638.4,492.1 638.6,493.6" transform="translate(1.6,0.4)" fill="none" stroke-linecap="round" stroke-linejoin="round" stroke="#989898" stroke-width="5.3" stroke-opacity="0.8" pathLength="100" stroke-dasharray="88 100" stroke-dashoffset="-6"/>
<path d="M664.1,475.0C663.5,476.6 661.2,481.2 660.6,484.3C660.0,487.4 660.6,492.1 660.6,493.6" transform="translate(1.6,0.4)" fill="none" stroke-linecap="round" stroke-linejoin="round" stroke="#989898" stroke-width="5.3" stroke-opacity="0.8" pathLength="100" stroke-dasharray="88 100" stroke-dashoffset="-6"/>
<path d="M700.1,470.4C698.0,471.5 690.6,474.6 687.3,477.3C684.0,480.0 681.9,483.9 680.4,486.6C678.9,489.3 678.4,492.4 678.0,493.6" transform="translate(0.4,1.7)" fill="none" stroke-linecap="round" stroke-linejoin="round" stroke="#989898" stroke-width="5.3" stroke-opacity="0.8" pathLength="100" stroke-dasharray="88 100" stroke-dashoffset="-6"/>
<path d="M768.1,362.4C768.9,363.4 771.2,366.4 772.8,368.2C774.3,369.9 775.7,371.1 777.4,372.9C779.1,374.6 782.2,377.7 783.2,378.7" transform="translate(0.4,1.7)" fill="none" stroke-linecap="round" stroke-linejoin="round" stroke="#989898" stroke-width="5.3" stroke-opacity="0.8" pathLength="100" stroke-dasharray="88 100" stroke-dashoffset="-6"/>
<path d="M777.4,364.7C777.0,365.7 775.5,369.5 775.1,370.5" transform="translate(0.4,1.7)" fill="none" stroke-linecap="round" stroke-linejoin="round" stroke="#989898" stroke-width="4.3" stroke-opacity="0.8" pathLength="100" stroke-dasharray="88 100" stroke-dashoffset="-6"/>
<path d="M783.0,366.5C782.5,367.1 780.9,368.9 780.0,370.0C779.1,371.1 777.8,372.4 777.4,372.9" transform="translate(0.4,1.7)" fill="none" stroke-linecap="round" stroke-linejoin="round" stroke="#989898" stroke-width="4.3" stroke-opacity="0.8" pathLength="100" stroke-dasharray="88 100" stroke-dashoffset="-6"/>
<path d="M822.2,362.4C822.0,363.8 821.9,368.2 820.8,370.5C819.7,372.8 817.7,374.6 815.7,376.3C813.7,378.1 809.9,380.2 808.8,381.0" transform="translate(-1.4,0.9)" fill="none" stroke-linecap="round" stroke-linejoin="round" stroke="#989898" stroke-width="5.3" stroke-opacity="0.8" pathLength="100" stroke-dasharray="88 100" stroke-dashoffset="-6"/>
<path d="M832.0,379.8C834.3,380.6 841.3,383.1 845.9,384.5C850.5,385.9 855.9,386.6 859.8,388.0C863.7,389.4 866.8,390.7 869.1,392.6C871.4,394.5 873.0,398.4 873.8,399.6" transform="translate(0.4,1.7)" fill="none" stroke-linecap="round" stroke-linejoin="round" stroke="#989898" stroke-width="5.9" stroke-opacity="0.8" pathLength="100" stroke-dasharray="88 100" stroke-dashoffset="-6"/>
<path d="M870.3,403.0C868.5,404.0 862.3,406.9 859.8,408.8C857.3,410.8 855.0,412.9 855.2,414.7C855.4,416.4 859.6,417.9 861.0,419.3C862.4,420.7 862.9,422.2 863.3,422.8" transform="translate(0.4,1.7)" fill="none" stroke-linecap="round" stroke-linejoin="round" stroke="#989898" stroke-width="5.3" stroke-opacity="0.8" pathLength="100" stroke-dasharray="88 100" stroke-dashoffset="-6"/>
<path d="M849.4,400.7C849.8,402.2 850.7,407.7 851.7,410.0C852.7,412.3 854.6,413.9 855.2,414.7" transform="translate(0.4,1.7)" fill="none" stroke-linecap="round" stroke-linejoin="round" stroke="#989898" stroke-width="5.3" stroke-opacity="0.8" pathLength="100" stroke-dasharray="88 100" stroke-dashoffset="-6"/>
<path d="M812.2,392.6C811.8,393.8 809.3,397.5 809.9,399.6C810.5,401.7 814.9,403.3 815.7,405.4C816.5,407.5 814.8,411.1 814.6,412.3" transform="translate(0.4,1.7)" fill="none" stroke-linecap="round" stroke-linejoin="round" stroke="#989898" stroke-width="5.3" stroke-opacity="0.8" pathLength="100" stroke-dasharray="88 100" stroke-dashoffset="-6"/>
<path d="M827.3,394.9C828.3,396.1 831.7,399.4 833.1,401.9C834.5,404.4 835.1,408.6 835.5,410.0" transform="translate(0.4,1.7)" fill="none" stroke-linecap="round" stroke-linejoin="round" stroke="#989898" stroke-width="5.3" stroke-opacity="0.8" pathLength="100" stroke-dasharray="88 100" stroke-dashoffset="-6"/>
<path d="M764.6,398.9C766.9,399.0 774.7,399.3 778.6,399.6C782.5,399.9 785.4,399.6 787.9,400.7C790.4,401.8 792.2,404.8 793.7,406.5C795.2,408.2 796.5,410.4 797.1,411.2" transform="translate(0.4,1.7)" fill="none" stroke-linecap="round" stroke-linejoin="round" stroke="#989898" stroke-width="5.3" stroke-opacity="0.8" pathLength="100" stroke-dasharray="88 100" stroke-dashoffset="-6"/>
<path d="M806.4,426.3C807.4,427.6 810.7,431.9 812.2,434.4C813.8,436.9 815.1,440.2 815.7,441.4" transform="translate(0.4,1.7)" fill="none" stroke-linecap="round" stroke-linejoin="round" stroke="#989898" stroke-width="5.3" stroke-opacity="0.8" pathLength="100" stroke-dasharray="88 100" stroke-dashoffset="-6"/>
<path d="M836.6,429.7C835.8,431.4 832.6,436.9 832.0,440.2C831.4,443.5 832.1,446.8 833.1,449.5C834.1,452.2 837.0,455.2 837.8,456.4" transform="translate(-1.4,0.7)" fill="none" stroke-linecap="round" stroke-linejoin="round" stroke="#989898" stroke-width="5.3" stroke-opacity="0.8" pathLength="100" stroke-dasharray="88 100" stroke-dashoffset="-6"/>
<path d="M848.2,430.9C848.4,432.8 848.2,439.2 849.4,442.5C850.6,445.8 852.7,448.5 855.2,450.6C857.7,452.7 863.0,454.5 864.5,455.3" transform="translate(-1.4,0.9)" fill="none" stroke-linecap="round" stroke-linejoin="round" stroke="#989898" stroke-width="5.3" stroke-opacity="0.8" pathLength="100" stroke-dasharray="88 100" stroke-dashoffset="-6"/>
<path d="M791.3,443.7C790.9,444.9 788.6,448.3 789.0,450.6C789.4,452.9 792.2,456.0 793.7,457.6C795.2,459.2 797.3,459.6 798.0,460.0" transform="translate(0.4,1.7)" fill="none" stroke-linecap="round" stroke-linejoin="round" stroke="#989898" stroke-width="5.3" stroke-opacity="0.8" pathLength="100" stroke-dasharray="88 100" stroke-dashoffset="-6"/>
<path d="M770.4,459.9C772.1,459.1 777.8,456.3 780.9,455.3C784.0,454.3 787.6,454.3 789.0,454.1" transform="translate(0.4,1.7)" fill="none" stroke-linecap="round" stroke-linejoin="round" stroke="#989898" stroke-width="5.3" stroke-opacity="0.8" pathLength="100" stroke-dasharray="88 100" stroke-dashoffset="-6"/>
<path d="M767.0,420.5C768.8,419.8 774.1,416.5 778.0,416.3C781.9,416.1 788.2,418.8 790.2,419.3" transform="translate(0.4,1.7)" fill="none" stroke-linecap="round" stroke-linejoin="round" stroke="#989898" stroke-width="5.3" stroke-opacity="0.8" pathLength="100" stroke-dasharray="88 100" stroke-dashoffset="-6"/>
<path d="M771.5,431.0C773.1,430.6 778.2,428.6 781.0,428.6C783.8,428.6 786.8,430.6 788.0,431.0" transform="translate(0.4,1.7)" fill="none" stroke-linecap="round" stroke-linejoin="round" stroke="#989898" stroke-width="4.6" stroke-opacity="0.8" pathLength="100" stroke-dasharray="88 100" stroke-dashoffset="-6"/>
<path d="M771.5,440.2C772.7,440.0 776.3,438.8 778.6,439.0C780.9,439.2 784.4,441.0 785.5,441.4" transform="translate(0.4,1.7)" fill="none" stroke-linecap="round" stroke-linejoin="round" stroke="#989898" stroke-width="4.3" stroke-opacity="0.8" pathLength="100" stroke-dasharray="88 100" stroke-dashoffset="-6"/>
<path d="M818.0,454.1C818.8,455.7 822.1,459.9 822.7,463.4C823.3,466.9 822.3,471.9 821.5,475.0C820.7,478.1 818.6,480.8 818.0,482.0" transform="translate(0.4,1.7)" fill="none" stroke-linecap="round" stroke-linejoin="round" stroke="#989898" stroke-width="5.3" stroke-opacity="0.8" pathLength="100" stroke-dasharray="88 100" stroke-dashoffset="-6"/>
<path d="M855.2,463.4C856.6,464.0 860.8,466.5 863.3,466.9C865.8,467.3 868.8,466.9 870.3,465.7C871.8,464.5 872.2,460.9 872.6,459.9" transform="translate(0.4,1.7)" fill="none" stroke-linecap="round" stroke-linejoin="round" stroke="#989898" stroke-width="5.3" stroke-opacity="0.8" pathLength="100" stroke-dasharray="88 100" stroke-dashoffset="-6"/>
<path d="M843.6,478.5C844.2,479.9 846.1,484.1 847.1,486.6C848.1,489.1 849.0,492.4 849.4,493.6" transform="translate(0.4,1.7)" fill="none" stroke-linecap="round" stroke-linejoin="round" stroke="#989898" stroke-width="5.3" stroke-opacity="0.8" pathLength="100" stroke-dasharray="88 100" stroke-dashoffset="-6"/>
<path d="M861.0,475.0C860.6,476.6 859.7,481.4 858.7,484.3C857.7,487.2 855.8,491.0 855.2,492.4" transform="translate(0.4,1.7)" fill="none" stroke-linecap="round" stroke-linejoin="round" stroke="#989898" stroke-width="5.3" stroke-opacity="0.8" pathLength="100" stroke-dasharray="88 100" stroke-dashoffset="-6"/>
<path d="M784.4,477.3C783.0,477.7 778.6,478.5 776.3,479.7C774.0,480.9 771.6,482.0 770.4,484.3C769.2,486.6 769.5,492.1 769.3,493.6" transform="translate(1.4,1.1)" fill="none" stroke-linecap="round" stroke-linejoin="round" stroke="#989898" stroke-width="5.3" stroke-opacity="0.8" pathLength="100" stroke-dasharray="88 100" stroke-dashoffset="-6"/>
<path d="M818.0,486.6C818.4,487.5 819.5,490.4 820.5,492.0C821.5,493.6 823.4,495.8 824.0,496.5" transform="translate(0.4,1.7)" fill="none" stroke-linecap="round" stroke-linejoin="round" stroke="#989898" stroke-width="5.3" stroke-opacity="0.8" pathLength="100" stroke-dasharray="88 100" stroke-dashoffset="-6"/>
<path d="M678.0,498.1C679.4,499.0 683.7,501.9 686.5,503.2C689.3,504.5 691.0,505.5 695.0,505.8C699.0,506.1 705.1,506.2 710.4,505.0C715.7,503.8 720.6,499.9 727.0,498.5C733.4,497.1 743.3,496.7 749.0,496.6C754.7,496.5 759.0,497.8 761.0,498.0" transform="translate(0.4,1.7)" fill="none" stroke-linecap="round" stroke-linejoin="round" stroke="#989898" stroke-width="4.9" stroke-opacity="0.8" pathLength="100" stroke-dasharray="88 100" stroke-dashoffset="-6"/>
<path d="M677.5,470.0C677.3,471.7 676.6,476.7 676.5,480.0C676.4,483.3 676.6,487.2 677.0,490.0C677.4,492.8 678.7,495.8 679.0,497.0" transform="translate(-1.4,0.5)" fill="none" stroke-linecap="round" stroke-linejoin="round" stroke="#989898" stroke-width="5.3" stroke-opacity="0.8" pathLength="100" stroke-dasharray="88 100" stroke-dashoffset="-6"/>
<path d="M769.6,494.0C769.8,495.0 769.9,498.5 771.0,500.0C772.1,501.5 772.0,502.8 776.0,503.0C780.0,503.2 787.8,502.3 795.0,501.5C802.2,500.7 815.0,498.6 819.0,498.0" transform="translate(0.4,1.7)" fill="none" stroke-linecap="round" stroke-linejoin="round" stroke="#989898" stroke-width="4.9" stroke-opacity="0.8" pathLength="100" stroke-dasharray="88 100" stroke-dashoffset="-6"/>
<path d="M735.0,508.0C736.2,508.8 739.9,511.3 742.0,512.5C744.1,513.7 746.6,514.6 747.5,515.0" transform="translate(0.4,1.7)" fill="none" stroke-linecap="round" stroke-linejoin="round" stroke="#989898" stroke-width="4.9" stroke-opacity="0.8" pathLength="100" stroke-dasharray="88 100" stroke-dashoffset="-6"/>
<path d="M752.5,512.0C751.7,512.5 749.1,513.3 747.5,515.0C745.9,516.7 743.8,520.8 743.0,522.0" transform="translate(0.4,1.7)" fill="none" stroke-linecap="round" stroke-linejoin="round" stroke="#989898" stroke-width="4.9" stroke-opacity="0.8" pathLength="100" stroke-dasharray="88 100" stroke-dashoffset="-6"/>
<path d="M750.0,505.0C751.2,505.2 755.8,505.8 757.0,506.0" transform="translate(0.4,1.7)" fill="none" stroke-linecap="round" stroke-linejoin="round" stroke="#989898" stroke-width="4.3" stroke-opacity="0.8" pathLength="100" stroke-dasharray="88 100" stroke-dashoffset="-6"/>
<path d="M792.0,514.5C793.2,514.9 796.3,517.2 799.0,517.0C801.7,516.8 805.0,514.8 808.0,513.5C811.0,512.2 815.5,509.8 817.0,509.0" transform="translate(0.4,1.7)" fill="none" stroke-linecap="round" stroke-linejoin="round" stroke="#989898" stroke-width="4.9" stroke-opacity="0.8" pathLength="100" stroke-dasharray="88 100" stroke-dashoffset="-6"/>
<path d="M799.0,517.0C799.1,518.2 799.4,522.8 799.5,524.0" transform="translate(0.4,1.7)" fill="none" stroke-linecap="round" stroke-linejoin="round" stroke="#989898" stroke-width="4.0" stroke-opacity="0.8" pathLength="100" stroke-dasharray="88 100" stroke-dashoffset="-6"/>
<path d="M779.5,507.0C779.6,507.8 779.9,511.2 780.0,512.0" transform="translate(0.4,1.7)" fill="none" stroke-linecap="round" stroke-linejoin="round" stroke="#989898" stroke-width="4.3" stroke-opacity="0.8" pathLength="100" stroke-dasharray="88 100" stroke-dashoffset="-6"/>
<path d="M637.0,472.6C636.9,474.3 634.9,479.1 636.3,482.8C637.7,486.5 641.2,490.4 645.6,494.7C650.0,498.9 656.9,504.1 662.7,508.3C668.5,512.5 676.1,516.8 680.4,520.0C684.6,523.2 684.3,525.7 688.2,527.8C692.1,529.9 697.3,531.6 703.8,532.7C710.3,533.8 719.6,534.1 727.0,534.6C734.4,535.1 743.1,536.1 748.0,535.5C752.9,534.9 754.2,532.9 756.5,531.0C758.8,529.1 760.7,525.2 761.5,524.0" transform="translate(0.2,2.5)" fill="none" stroke-linecap="round" stroke-linejoin="round" stroke="#989898" stroke-width="5.6" stroke-opacity="0.8" pathLength="100" stroke-dasharray="88 100" stroke-dashoffset="-6"/>
<path d="M637.5,537.5C638.2,536.4 640.4,532.9 642.0,531.0C643.6,529.1 644.8,526.8 647.0,526.0C649.2,525.2 652.0,525.9 655.0,526.5C658.0,527.1 662.1,528.6 664.8,529.7C667.5,530.8 669.0,531.9 671.0,533.0C673.0,534.1 675.6,536.0 676.5,536.6" transform="translate(0.4,1.7)" fill="none" stroke-linecap="round" stroke-linejoin="round" stroke="#989898" stroke-width="4.6" stroke-opacity="0.8" pathLength="100" stroke-dasharray="88 100" stroke-dashoffset="-6"/>
<path d="M890.0,472.6C889.9,474.2 890.2,478.6 889.5,482.0C888.8,485.4 887.9,489.5 886.0,493.0C884.1,496.5 881.5,501.7 878.2,503.2C874.9,504.7 869.7,502.3 866.0,502.0C862.3,501.7 860.5,501.6 856.0,501.5C851.5,501.4 845.0,500.8 839.0,501.5C833.0,502.2 825.7,504.6 820.0,506.0C814.3,507.4 807.5,509.3 805.0,510.0" transform="translate(0.4,1.7)" fill="none" stroke-linecap="round" stroke-linejoin="round" stroke="#989898" stroke-width="4.9" stroke-opacity="0.8" pathLength="100" stroke-dasharray="88 100" stroke-dashoffset="-6"/>
<path d="M873.0,506.6C870.8,507.6 864.2,510.5 860.0,512.5C855.8,514.5 851.1,516.2 847.6,518.5C844.1,520.8 842.1,524.0 839.0,526.0C835.9,528.0 834.3,529.4 828.7,530.7C823.1,532.0 813.4,533.1 805.3,533.6C797.2,534.1 785.9,534.1 780.0,533.6C774.1,533.1 772.5,532.3 770.0,530.7C767.5,529.1 766.1,525.1 765.3,524.0" transform="translate(-0.2,2.5)" fill="none" stroke-linecap="round" stroke-linejoin="round" stroke="#989898" stroke-width="5.6" stroke-opacity="0.8" pathLength="100" stroke-dasharray="88 100" stroke-dashoffset="-6"/>
<path d="M703.6,357.8C703.5,359.5 702.7,364.5 703.1,368.2C703.5,371.9 704.9,376.5 705.9,379.8C706.9,383.1 708.8,386.6 709.4,388.0" transform="translate(1.8,0.6)" fill="none" stroke-linecap="round" stroke-linejoin="round" stroke="#7d7d7d" stroke-width="3.2" pathLength="100" stroke-dasharray="78 100" stroke-dashoffset="-11"/>
<path d="M714.7,360.1C714.3,361.1 712.7,363.8 712.4,365.9C712.1,368.0 712.2,370.6 712.9,372.9C713.6,375.2 715.8,378.6 716.4,379.8" transform="translate(1.6,0.6)" fill="none" stroke-linecap="round" stroke-linejoin="round" stroke="#7d7d7d" stroke-width="3.2" pathLength="100" stroke-dasharray="78 100" stroke-dashoffset="-11"/>
<path d="M746.5,365.9C747.7,367.1 751.4,369.8 753.5,372.9C755.6,376.0 757.9,381.4 759.3,384.5C760.7,387.6 761.6,390.2 762.1,391.4" transform="translate(0.4,1.9)" fill="none" stroke-linecap="round" stroke-linejoin="round" stroke="#7d7d7d" stroke-width="3.2" pathLength="100" stroke-dasharray="78 100" stroke-dashoffset="-11"/>
<path d="M708.2,399.6C708.2,401.0 707.4,404.8 708.2,407.7C709.0,410.6 711.5,414.3 712.9,417.0C714.3,419.7 716.6,421.2 716.4,423.9C716.2,426.6 712.5,431.6 711.7,433.2" transform="translate(-1.8,0.8)" fill="none" stroke-linecap="round" stroke-linejoin="round" stroke="#7d7d7d" stroke-width="3.2" pathLength="100" stroke-dasharray="78 100" stroke-dashoffset="-11"/>
<path d="M726.8,412.3C728.3,411.7 732.2,409.9 736.1,408.8C740.0,407.7 746.1,406.2 750.0,405.8C753.9,405.4 757.8,406.4 759.3,406.5" transform="translate(0.4,1.9)" fill="none" stroke-linecap="round" stroke-linejoin="round" stroke="#7d7d7d" stroke-width="3.2" pathLength="100" stroke-dasharray="78 100" stroke-dashoffset="-11"/>
<path d="M718.7,425.1C720.8,424.5 727.3,423.2 731.4,421.6C735.5,420.1 740.0,417.4 743.1,415.8C746.2,414.2 747.7,412.5 750.0,412.3C752.3,412.1 755.5,413.5 757.0,414.7C758.5,415.9 758.9,418.5 759.3,419.3" transform="translate(0.4,1.9)" fill="none" stroke-linecap="round" stroke-linejoin="round" stroke="#7d7d7d" stroke-width="3.2" pathLength="100" stroke-dasharray="78 100" stroke-dashoffset="-11"/>
<path d="M737.2,436.7C738.8,435.7 743.8,432.8 746.5,430.9C749.2,429.0 752.3,426.1 753.5,425.1" transform="translate(0.4,1.9)" fill="none" stroke-linecap="round" stroke-linejoin="round" stroke="#7d7d7d" stroke-width="3.2" pathLength="100" stroke-dasharray="78 100" stroke-dashoffset="-11"/>
<path d="M726.8,447.2C729.1,447.0 736.5,445.6 740.7,446.0C745.0,446.4 749.4,447.9 752.3,449.5C755.2,451.1 757.2,454.3 758.2,455.3" transform="translate(0.4,1.9)" fill="none" stroke-linecap="round" stroke-linejoin="round" stroke="#7d7d7d" stroke-width="3.2" pathLength="100" stroke-dasharray="78 100" stroke-dashoffset="-11"/>
<path d="M700.1,443.7C701.6,444.5 706.9,446.2 709.4,448.3C711.9,450.4 714.0,453.9 715.2,456.4C716.4,458.9 716.6,460.9 716.4,463.4C716.2,465.9 714.2,468.4 714.0,471.5C713.8,474.6 715.0,480.2 715.2,482.0" transform="translate(-1.8,0.6)" fill="none" stroke-linecap="round" stroke-linejoin="round" stroke="#7d7d7d" stroke-width="3.2" pathLength="100" stroke-dasharray="78 100" stroke-dashoffset="-11"/>
<path d="M715.2,470.4C717.9,470.2 725.6,469.0 731.4,469.2C737.2,469.4 745.0,470.5 750.0,471.5C755.0,472.5 759.7,474.4 761.6,475.0" transform="translate(0.4,1.9)" fill="none" stroke-linecap="round" stroke-linejoin="round" stroke="#7d7d7d" stroke-width="3.2" pathLength="100" stroke-dasharray="78 100" stroke-dashoffset="-11"/>
<path d="M656.0,398.4C656.2,399.8 655.9,404.0 657.1,406.5C658.3,409.0 661.0,412.2 663.0,413.5C665.0,414.8 668.0,414.3 669.0,414.5" transform="translate(-1.6,1.0)" fill="none" stroke-linecap="round" stroke-linejoin="round" stroke="#7d7d7d" stroke-width="3.2" pathLength="100" stroke-dasharray="78 100" stroke-dashoffset="-11"/>
<path d="M678.0,398.4C679.0,397.7 681.8,395.2 683.8,394.2C685.8,393.2 688.7,392.9 689.7,392.6" transform="translate(0.4,1.9)" fill="none" stroke-linecap="round" stroke-linejoin="round" stroke="#7d7d7d" stroke-width="3.2" pathLength="100" stroke-dasharray="78 100" stroke-dashoffset="-11"/>
<path d="M694.3,425.1C693.9,426.9 692.2,431.9 692.0,435.6C691.8,439.3 692.5,443.7 693.1,447.2C693.7,450.7 695.1,454.9 695.5,456.4" transform="translate(-1.8,0.6)" fill="none" stroke-linecap="round" stroke-linejoin="round" stroke="#7d7d7d" stroke-width="3.2" pathLength="100" stroke-dasharray="78 100" stroke-dashoffset="-11"/>
<path d="M654.8,437.9C655.8,438.7 658.9,440.9 660.6,442.5C662.4,444.1 664.5,446.4 665.3,447.2" transform="translate(0.4,1.9)" fill="none" stroke-linecap="round" stroke-linejoin="round" stroke="#7d7d7d" stroke-width="3.2" pathLength="100" stroke-dasharray="78 100" stroke-dashoffset="-11"/>
<path d="M680.4,437.9C679.4,439.0 676.2,442.9 674.6,444.8C673.0,446.7 671.6,448.3 671.0,449.0" transform="translate(0.4,1.9)" fill="none" stroke-linecap="round" stroke-linejoin="round" stroke="#7d7d7d" stroke-width="3.2" pathLength="100" stroke-dasharray="78 100" stroke-dashoffset="-11"/>
<path d="M644.4,458.8C644.0,460.4 642.9,465.4 642.1,468.1C641.3,470.8 640.5,472.3 639.7,475.0C638.9,477.7 637.6,481.2 637.4,484.3C637.2,487.4 638.4,492.1 638.6,493.6" transform="translate(1.8,0.4)" fill="none" stroke-linecap="round" stroke-linejoin="round" stroke="#7d7d7d" stroke-width="3.2" pathLength="100" stroke-dasharray="78 100" stroke-dashoffset="-11"/>
<path d="M664.1,475.0C663.5,476.6 661.2,481.2 660.6,484.3C660.0,487.4 660.6,492.1 660.6,493.6" transform="translate(1.8,0.4)" fill="none" stroke-linecap="round" stroke-linejoin="round" stroke="#7d7d7d" stroke-width="3.2" pathLength="100" stroke-dasharray="78 100" stroke-dashoffset="-11"/>
<path d="M768.1,362.4C768.9,363.4 771.2,366.4 772.8,368.2C774.3,369.9 775.7,371.1 777.4,372.9C779.1,374.6 782.2,377.7 783.2,378.7" transform="translate(0.4,1.9)" fill="none" stroke-linecap="round" stroke-linejoin="round" stroke="#7d7d7d" stroke-width="3.2" pathLength="100" stroke-dasharray="78 100" stroke-dashoffset="-11"/>
<path d="M822.2,362.4C822.0,363.8 821.9,368.2 820.8,370.5C819.7,372.8 817.7,374.6 815.7,376.3C813.7,378.1 809.9,380.2 808.8,381.0" transform="translate(-1.6,1.0)" fill="none" stroke-linecap="round" stroke-linejoin="round" stroke="#7d7d7d" stroke-width="3.2" pathLength="100" stroke-dasharray="78 100" stroke-dashoffset="-11"/>
<path d="M832.0,379.8C834.3,380.6 841.3,383.1 845.9,384.5C850.5,385.9 855.9,386.6 859.8,388.0C863.7,389.4 866.8,390.7 869.1,392.6C871.4,394.5 873.0,398.4 873.8,399.6" transform="translate(0.4,1.9)" fill="none" stroke-linecap="round" stroke-linejoin="round" stroke="#7d7d7d" stroke-width="3.6" pathLength="100" stroke-dasharray="78 100" stroke-dashoffset="-11"/>
<path d="M870.3,403.0C868.5,404.0 862.3,406.9 859.8,408.8C857.3,410.8 855.0,412.9 855.2,414.7C855.4,416.4 859.6,417.9 861.0,419.3C862.4,420.7 862.9,422.2 863.3,422.8" transform="translate(0.4,1.9)" fill="none" stroke-linecap="round" stroke-linejoin="round" stroke="#7d7d7d" stroke-width="3.2" pathLength="100" stroke-dasharray="78 100" stroke-dashoffset="-11"/>
<path d="M764.6,398.9C766.9,399.0 774.7,399.3 778.6,399.6C782.5,399.9 785.4,399.6 787.9,400.7C790.4,401.8 792.2,404.8 793.7,406.5C795.2,408.2 796.5,410.4 797.1,411.2" transform="translate(0.4,1.9)" fill="none" stroke-linecap="round" stroke-linejoin="round" stroke="#7d7d7d" stroke-width="3.2" pathLength="100" stroke-dasharray="78 100" stroke-dashoffset="-11"/>
<path d="M806.4,426.3C807.4,427.6 810.7,431.9 812.2,434.4C813.8,436.9 815.1,440.2 815.7,441.4" transform="translate(0.4,1.9)" fill="none" stroke-linecap="round" stroke-linejoin="round" stroke="#7d7d7d" stroke-width="3.2" pathLength="100" stroke-dasharray="78 100" stroke-dashoffset="-11"/>
<path d="M836.6,429.7C835.8,431.4 832.6,436.9 832.0,440.2C831.4,443.5 832.1,446.8 833.1,449.5C834.1,452.2 837.0,455.2 837.8,456.4" transform="translate(-1.6,0.8)" fill="none" stroke-linecap="round" stroke-linejoin="round" stroke="#7d7d7d" stroke-width="3.2" pathLength="100" stroke-dasharray="78 100" stroke-dashoffset="-11"/>
<path d="M848.2,430.9C848.4,432.8 848.2,439.2 849.4,442.5C850.6,445.8 852.7,448.5 855.2,450.6C857.7,452.7 863.0,454.5 864.5,455.3" transform="translate(-1.6,1.0)" fill="none" stroke-linecap="round" stroke-linejoin="round" stroke="#7d7d7d" stroke-width="3.2" pathLength="100" stroke-dasharray="78 100" stroke-dashoffset="-11"/>
<path d="M791.3,443.7C790.9,444.9 788.6,448.3 789.0,450.6C789.4,452.9 792.2,456.0 793.7,457.6C795.2,459.2 797.3,459.6 798.0,460.0" transform="translate(0.4,1.9)" fill="none" stroke-linecap="round" stroke-linejoin="round" stroke="#7d7d7d" stroke-width="3.2" pathLength="100" stroke-dasharray="78 100" stroke-dashoffset="-11"/>
<path d="M770.4,459.9C772.1,459.1 777.8,456.3 780.9,455.3C784.0,454.3 787.6,454.3 789.0,454.1" transform="translate(0.4,1.9)" fill="none" stroke-linecap="round" stroke-linejoin="round" stroke="#7d7d7d" stroke-width="3.2" pathLength="100" stroke-dasharray="78 100" stroke-dashoffset="-11"/>
<path d="M855.2,463.4C856.6,464.0 860.8,466.5 863.3,466.9C865.8,467.3 868.8,466.9 870.3,465.7C871.8,464.5 872.2,460.9 872.6,459.9" transform="translate(0.4,1.9)" fill="none" stroke-linecap="round" stroke-linejoin="round" stroke="#7d7d7d" stroke-width="3.2" pathLength="100" stroke-dasharray="78 100" stroke-dashoffset="-11"/>
<path d="M843.6,478.5C844.2,479.9 846.1,484.1 847.1,486.6C848.1,489.1 849.0,492.4 849.4,493.6" transform="translate(0.4,1.9)" fill="none" stroke-linecap="round" stroke-linejoin="round" stroke="#7d7d7d" stroke-width="3.2" pathLength="100" stroke-dasharray="78 100" stroke-dashoffset="-11"/>
<path d="M861.0,475.0C860.6,476.6 859.7,481.4 858.7,484.3C857.7,487.2 855.8,491.0 855.2,492.4" transform="translate(0.4,1.9)" fill="none" stroke-linecap="round" stroke-linejoin="round" stroke="#7d7d7d" stroke-width="3.2" pathLength="100" stroke-dasharray="78 100" stroke-dashoffset="-11"/>
<path d="M784.4,477.3C783.0,477.7 778.6,478.5 776.3,479.7C774.0,480.9 771.6,482.0 770.4,484.3C769.2,486.6 769.5,492.1 769.3,493.6" transform="translate(1.6,1.2)" fill="none" stroke-linecap="round" stroke-linejoin="round" stroke="#7d7d7d" stroke-width="3.2" pathLength="100" stroke-dasharray="78 100" stroke-dashoffset="-11"/>
<path d="M818.0,486.6C818.4,487.5 819.5,490.4 820.5,492.0C821.5,493.6 823.4,495.8 824.0,496.5" transform="translate(0.4,1.9)" fill="none" stroke-linecap="round" stroke-linejoin="round" stroke="#7d7d7d" stroke-width="3.2" pathLength="100" stroke-dasharray="78 100" stroke-dashoffset="-11"/>
<path d="M678.0,498.1C679.4,499.0 683.7,501.9 686.5,503.2C689.3,504.5 691.0,505.5 695.0,505.8C699.0,506.1 705.1,506.2 710.4,505.0C715.7,503.8 720.6,499.9 727.0,498.5C733.4,497.1 743.3,496.7 749.0,496.6C754.7,496.5 759.0,497.8 761.0,498.0" transform="translate(0.4,1.9)" fill="none" stroke-linecap="round" stroke-linejoin="round" stroke="#7d7d7d" stroke-width="3.0" pathLength="100" stroke-dasharray="78 100" stroke-dashoffset="-11"/>
<path d="M677.5,470.0C677.3,471.7 676.6,476.7 676.5,480.0C676.4,483.3 676.6,487.2 677.0,490.0C677.4,492.8 678.7,495.8 679.0,497.0" transform="translate(-1.6,0.6)" fill="none" stroke-linecap="round" stroke-linejoin="round" stroke="#7d7d7d" stroke-width="3.2" pathLength="100" stroke-dasharray="78 100" stroke-dashoffset="-11"/>
<path d="M769.6,494.0C769.8,495.0 769.9,498.5 771.0,500.0C772.1,501.5 772.0,502.8 776.0,503.0C780.0,503.2 787.8,502.3 795.0,501.5C802.2,500.7 815.0,498.6 819.0,498.0" transform="translate(0.4,1.9)" fill="none" stroke-linecap="round" stroke-linejoin="round" stroke="#7d7d7d" stroke-width="3.0" pathLength="100" stroke-dasharray="78 100" stroke-dashoffset="-11"/>
<path d="M735.0,508.0C736.2,508.8 739.9,511.3 742.0,512.5C744.1,513.7 746.6,514.6 747.5,515.0" transform="translate(0.4,1.9)" fill="none" stroke-linecap="round" stroke-linejoin="round" stroke="#7d7d7d" stroke-width="3.0" pathLength="100" stroke-dasharray="78 100" stroke-dashoffset="-11"/>
<path d="M752.5,512.0C751.7,512.5 749.1,513.3 747.5,515.0C745.9,516.7 743.8,520.8 743.0,522.0" transform="translate(0.4,1.9)" fill="none" stroke-linecap="round" stroke-linejoin="round" stroke="#7d7d7d" stroke-width="3.0" pathLength="100" stroke-dasharray="78 100" stroke-dashoffset="-11"/>
<path d="M750.0,505.0C751.2,505.2 755.8,505.8 757.0,506.0" transform="translate(0.4,1.9)" fill="none" stroke-linecap="round" stroke-linejoin="round" stroke="#7d7d7d" stroke-width="2.6" pathLength="100" stroke-dasharray="78 100" stroke-dashoffset="-11"/>
<path d="M792.0,514.5C793.2,514.9 796.3,517.2 799.0,517.0C801.7,516.8 805.0,514.8 808.0,513.5C811.0,512.2 815.5,509.8 817.0,509.0" transform="translate(0.4,1.9)" fill="none" stroke-linecap="round" stroke-linejoin="round" stroke="#7d7d7d" stroke-width="3.0" pathLength="100" stroke-dasharray="78 100" stroke-dashoffset="-11"/>
<path d="M779.5,507.0C779.6,507.8 779.9,511.2 780.0,512.0" transform="translate(0.4,1.9)" fill="none" stroke-linecap="round" stroke-linejoin="round" stroke="#7d7d7d" stroke-width="2.6" pathLength="100" stroke-dasharray="78 100" stroke-dashoffset="-11"/>
<path d="M637.0,472.6C636.9,474.3 634.9,479.1 636.3,482.8C637.7,486.5 641.2,490.4 645.6,494.7C650.0,498.9 656.9,504.1 662.7,508.3C668.5,512.5 676.1,516.8 680.4,520.0C684.6,523.2 684.3,525.7 688.2,527.8C692.1,529.9 697.3,531.6 703.8,532.7C710.3,533.8 719.6,534.1 727.0,534.6C734.4,535.1 743.1,536.1 748.0,535.5C752.9,534.9 754.2,532.9 756.5,531.0C758.8,529.1 760.7,525.2 761.5,524.0" transform="translate(0.2,2.8)" fill="none" stroke-linecap="round" stroke-linejoin="round" stroke="#8a8a8a" stroke-width="4.4"/>
<path d="M637.5,537.5C638.2,536.4 640.4,532.9 642.0,531.0C643.6,529.1 644.8,526.8 647.0,526.0C649.2,525.2 652.0,525.9 655.0,526.5C658.0,527.1 662.1,528.6 664.8,529.7C667.5,530.8 669.0,531.9 671.0,533.0C673.0,534.1 675.6,536.0 676.5,536.6" transform="translate(0.4,1.9)" fill="none" stroke-linecap="round" stroke-linejoin="round" stroke="#7d7d7d" stroke-width="2.8" pathLength="100" stroke-dasharray="78 100" stroke-dashoffset="-11"/>
<path d="M890.0,472.6C889.9,474.2 890.2,478.6 889.5,482.0C888.8,485.4 887.9,489.5 886.0,493.0C884.1,496.5 881.5,501.7 878.2,503.2C874.9,504.7 869.7,502.3 866.0,502.0C862.3,501.7 860.5,501.6 856.0,501.5C851.5,501.4 845.0,500.8 839.0,501.5C833.0,502.2 825.7,504.6 820.0,506.0C814.3,507.4 807.5,509.3 805.0,510.0" transform="translate(0.4,1.9)" fill="none" stroke-linecap="round" stroke-linejoin="round" stroke="#7d7d7d" stroke-width="3.0" pathLength="100" stroke-dasharray="78 100" stroke-dashoffset="-11"/>
<path d="M873.0,506.6C870.8,507.6 864.2,510.5 860.0,512.5C855.8,514.5 851.1,516.2 847.6,518.5C844.1,520.8 842.1,524.0 839.0,526.0C835.9,528.0 834.3,529.4 828.7,530.7C823.1,532.0 813.4,533.1 805.3,533.6C797.2,534.1 785.9,534.1 780.0,533.6C774.1,533.1 772.5,532.3 770.0,530.7C767.5,529.1 766.1,525.1 765.3,524.0" transform="translate(-0.2,2.8)" fill="none" stroke-linecap="round" stroke-linejoin="round" stroke="#8a8a8a" stroke-width="4.4"/>
<path d="M703.6,357.8C703.5,359.5 702.7,364.5 703.1,368.2C703.5,371.9 704.9,376.5 705.9,379.8C706.9,383.1 708.8,386.6 709.4,388.0" fill="none" stroke-linecap="round" stroke-linejoin="round" stroke="#363636" stroke-width="1.3"/>
<path d="M703.6,357.8C703.5,359.5 702.7,364.5 703.1,368.2C703.5,371.9 704.9,376.5 705.9,379.8C706.9,383.1 708.8,386.6 709.4,388.0" fill="none" stroke-linecap="round" stroke-linejoin="round" stroke="#363636" stroke-width="2.3" pathLength="100" stroke-dasharray="84 100" stroke-dashoffset="-8"/>
<path d="M703.6,357.8C703.5,359.5 702.7,364.5 703.1,368.2C703.5,371.9 704.9,376.5 705.9,379.8C706.9,383.1 708.8,386.6 709.4,388.0" fill="none" stroke-linecap="round" stroke-linejoin="round" stroke="#363636" stroke-width="3.2" pathLength="100" stroke-dasharray="64 100" stroke-dashoffset="-18"/>
<path d="M714.7,360.1C714.3,361.1 712.7,363.8 712.4,365.9C712.1,368.0 712.2,370.6 712.9,372.9C713.6,375.2 715.8,378.6 716.4,379.8" fill="none" stroke-linecap="round" stroke-linejoin="round" stroke="#363636" stroke-width="1.3"/>
<path d="M714.7,360.1C714.3,361.1 712.7,363.8 712.4,365.9C712.1,368.0 712.2,370.6 712.9,372.9C713.6,375.2 715.8,378.6 716.4,379.8" fill="none" stroke-linecap="round" stroke-linejoin="round" stroke="#363636" stroke-width="2.3" pathLength="100" stroke-dasharray="84 100" stroke-dashoffset="-8"/>
<path d="M714.7,360.1C714.3,361.1 712.7,363.8 712.4,365.9C712.1,368.0 712.2,370.6 712.9,372.9C713.6,375.2 715.8,378.6 716.4,379.8" fill="none" stroke-linecap="round" stroke-linejoin="round" stroke="#363636" stroke-width="3.2" pathLength="100" stroke-dasharray="64 100" stroke-dashoffset="-18"/>
<path d="M731.4,358.9C732.2,360.4 734.4,365.1 736.1,368.2C737.9,371.3 740.9,375.9 741.9,377.5" fill="none" stroke-linecap="round" stroke-linejoin="round" stroke="#363636" stroke-width="1.3"/>
<path d="M731.4,358.9C732.2,360.4 734.4,365.1 736.1,368.2C737.9,371.3 740.9,375.9 741.9,377.5" fill="none" stroke-linecap="round" stroke-linejoin="round" stroke="#363636" stroke-width="2.3" pathLength="100" stroke-dasharray="84 100" stroke-dashoffset="-8"/>
<path d="M731.4,358.9C732.2,360.4 734.4,365.1 736.1,368.2C737.9,371.3 740.9,375.9 741.9,377.5" fill="none" stroke-linecap="round" stroke-linejoin="round" stroke="#363636" stroke-width="3.2" pathLength="100" stroke-dasharray="64 100" stroke-dashoffset="-18"/>
<path d="M712.9,379.8C714.5,380.6 719.4,383.0 722.2,384.5C725.1,386.0 728.7,388.2 730.0,389.0" fill="none" stroke-linecap="round" stroke-linejoin="round" stroke="#363636" stroke-width="1.1"/>
<path d="M712.9,379.8C714.5,380.6 719.4,383.0 722.2,384.5C725.1,386.0 728.7,388.2 730.0,389.0" fill="none" stroke-linecap="round" stroke-linejoin="round" stroke="#363636" stroke-width="1.9" pathLength="100" stroke-dasharray="84 100" stroke-dashoffset="-8"/>
<path d="M712.9,379.8C714.5,380.6 719.4,383.0 722.2,384.5C725.1,386.0 728.7,388.2 730.0,389.0" fill="none" stroke-linecap="round" stroke-linejoin="round" stroke="#363636" stroke-width="2.6" pathLength="100" stroke-dasharray="64 100" stroke-dashoffset="-18"/>
<path d="M711.7,392.6C713.5,393.0 718.5,393.7 722.2,394.9C725.9,396.1 731.9,398.8 733.8,399.6" fill="none" stroke-linecap="round" stroke-linejoin="round" stroke="#363636" stroke-width="1.3"/>
<path d="M711.7,392.6C713.5,393.0 718.5,393.7 722.2,394.9C725.9,396.1 731.9,398.8 733.8,399.6" fill="none" stroke-linecap="round" stroke-linejoin="round" stroke="#363636" stroke-width="2.3" pathLength="100" stroke-dasharray="84 100" stroke-dashoffset="-8"/>
<path d="M711.7,392.6C713.5,393.0 718.5,393.7 722.2,394.9C725.9,396.1 731.9,398.8 733.8,399.6" fill="none" stroke-linecap="round" stroke-linejoin="round" stroke="#363636" stroke-width="3.2" pathLength="100" stroke-dasharray="64 100" stroke-dashoffset="-18"/>
<path d="M746.5,365.9C747.7,367.1 751.4,369.8 753.5,372.9C755.6,376.0 757.9,381.4 759.3,384.5C760.7,387.6 761.6,390.2 762.1,391.4" fill="none" stroke-linecap="round" stroke-linejoin="round" stroke="#363636" stroke-width="1.3"/>
<path d="M746.5,365.9C747.7,367.1 751.4,369.8 753.5,372.9C755.6,376.0 757.9,381.4 759.3,384.5C760.7,387.6 761.6,390.2 762.1,391.4" fill="none" stroke-linecap="round" stroke-linejoin="round" stroke="#363636" stroke-width="2.3" pathLength="100" stroke-dasharray="84 100" stroke-dashoffset="-8"/>
<path d="M746.5,365.9C747.7,367.1 751.4,369.8 753.5,372.9C755.6,376.0 757.9,381.4 759.3,384.5C760.7,387.6 761.6,390.2 762.1,391.4" fill="none" stroke-linecap="round" stroke-linejoin="round" stroke="#363636" stroke-width="3.2" pathLength="100" stroke-dasharray="64 100" stroke-dashoffset="-18"/>
<path d="M708.2,399.6C708.2,401.0 707.4,404.8 708.2,407.7C709.0,410.6 711.5,414.3 712.9,417.0C714.3,419.7 716.6,421.2 716.4,423.9C716.2,426.6 712.5,431.6 711.7,433.2" fill="none" stroke-linecap="round" stroke-linejoin="round" stroke="#363636" stroke-width="1.3"/>
<path d="M708.2,399.6C708.2,401.0 707.4,404.8 708.2,407.7C709.0,410.6 711.5,414.3 712.9,417.0C714.3,419.7 716.6,421.2 716.4,423.9C716.2,426.6 712.5,431.6 711.7,433.2" fill="none" stroke-linecap="round" stroke-linejoin="round" stroke="#363636" stroke-width="2.3" pathLength="100" stroke-dasharray="84 100" stroke-dashoffset="-8"/>
<path d="M708.2,399.6C708.2,401.0 707.4,404.8 708.2,407.7C709.0,410.6 711.5,414.3 712.9,417.0C714.3,419.7 716.6,421.2 716.4,423.9C716.2,426.6 712.5,431.6 711.7,433.2" fill="none" stroke-linecap="round" stroke-linejoin="round" stroke="#363636" stroke-width="3.2" pathLength="100" stroke-dasharray="64 100" stroke-dashoffset="-18"/>
<path d="M726.8,412.3C728.3,411.7 732.2,409.9 736.1,408.8C740.0,407.7 746.1,406.2 750.0,405.8C753.9,405.4 757.8,406.4 759.3,406.5" fill="none" stroke-linecap="round" stroke-linejoin="round" stroke="#363636" stroke-width="1.3"/>
<path d="M726.8,412.3C728.3,411.7 732.2,409.9 736.1,408.8C740.0,407.7 746.1,406.2 750.0,405.8C753.9,405.4 757.8,406.4 759.3,406.5" fill="none" stroke-linecap="round" stroke-linejoin="round" stroke="#363636" stroke-width="2.3" pathLength="100" stroke-dasharray="84 100" stroke-dashoffset="-8"/>
<path d="M726.8,412.3C728.3,411.7 732.2,409.9 736.1,408.8C740.0,407.7 746.1,406.2 750.0,405.8C753.9,405.4 757.8,406.4 759.3,406.5" fill="none" stroke-linecap="round" stroke-linejoin="round" stroke="#363636" stroke-width="3.2" pathLength="100" stroke-dasharray="64 100" stroke-dashoffset="-18"/>
<path d="M718.7,425.1C720.8,424.5 727.3,423.2 731.4,421.6C735.5,420.1 740.0,417.4 743.1,415.8C746.2,414.2 747.7,412.5 750.0,412.3C752.3,412.1 755.5,413.5 757.0,414.7C758.5,415.9 758.9,418.5 759.3,419.3" fill="none" stroke-linecap="round" stroke-linejoin="round" stroke="#363636" stroke-width="1.3"/>
<path d="M718.7,425.1C720.8,424.5 727.3,423.2 731.4,421.6C735.5,420.1 740.0,417.4 743.1,415.8C746.2,414.2 747.7,412.5 750.0,412.3C752.3,412.1 755.5,413.5 757.0,414.7C758.5,415.9 758.9,418.5 759.3,419.3" fill="none" stroke-linecap="round" stroke-linejoin="round" stroke="#363636" stroke-width="2.3" pathLength="100" stroke-dasharray="84 100" stroke-dashoffset="-8"/>
<path d="M718.7,425.1C720.8,424.5 727.3,423.2 731.4,421.6C735.5,420.1 740.0,417.4 743.1,415.8C746.2,414.2 747.7,412.5 750.0,412.3C752.3,412.1 755.5,413.5 757.0,414.7C758.5,415.9 758.9,418.5 759.3,419.3" fill="none" stroke-linecap="round" stroke-linejoin="round" stroke="#363636" stroke-width="3.2" pathLength="100" stroke-dasharray="64 100" stroke-dashoffset="-18"/>
<path d="M737.2,436.7C738.8,435.7 743.8,432.8 746.5,430.9C749.2,429.0 752.3,426.1 753.5,425.1" fill="none" stroke-linecap="round" stroke-linejoin="round" stroke="#363636" stroke-width="1.3"/>
<path d="M737.2,436.7C738.8,435.7 743.8,432.8 746.5,430.9C749.2,429.0 752.3,426.1 753.5,425.1" fill="none" stroke-linecap="round" stroke-linejoin="round" stroke="#363636" stroke-width="2.3" pathLength="100" stroke-dasharray="84 100" stroke-dashoffset="-8"/>
<path d="M737.2,436.7C738.8,435.7 743.8,432.8 746.5,430.9C749.2,429.0 752.3,426.1 753.5,425.1" fill="none" stroke-linecap="round" stroke-linejoin="round" stroke="#363636" stroke-width="3.2" pathLength="100" stroke-dasharray="64 100" stroke-dashoffset="-18"/>
<path d="M726.8,447.2C729.1,447.0 736.5,445.6 740.7,446.0C745.0,446.4 749.4,447.9 752.3,449.5C755.2,451.1 757.2,454.3 758.2,455.3" fill="none" stroke-linecap="round" stroke-linejoin="round" stroke="#363636" stroke-width="1.3"/>
<path d="M726.8,447.2C729.1,447.0 736.5,445.6 740.7,446.0C745.0,446.4 749.4,447.9 752.3,449.5C755.2,451.1 757.2,454.3 758.2,455.3" fill="none" stroke-linecap="round" stroke-linejoin="round" stroke="#363636" stroke-width="2.3" pathLength="100" stroke-dasharray="84 100" stroke-dashoffset="-8"/>
<path d="M726.8,447.2C729.1,447.0 736.5,445.6 740.7,446.0C745.0,446.4 749.4,447.9 752.3,449.5C755.2,451.1 757.2,454.3 758.2,455.3" fill="none" stroke-linecap="round" stroke-linejoin="round" stroke="#363636" stroke-width="3.2" pathLength="100" stroke-dasharray="64 100" stroke-dashoffset="-18"/>
<path d="M700.1,443.7C701.6,444.5 706.9,446.2 709.4,448.3C711.9,450.4 714.0,453.9 715.2,456.4C716.4,458.9 716.6,460.9 716.4,463.4C716.2,465.9 714.2,468.4 714.0,471.5C713.8,474.6 715.0,480.2 715.2,482.0" fill="none" stroke-linecap="round" stroke-linejoin="round" stroke="#363636" stroke-width="1.3"/>
<path d="M700.1,443.7C701.6,444.5 706.9,446.2 709.4,448.3C711.9,450.4 714.0,453.9 715.2,456.4C716.4,458.9 716.6,460.9 716.4,463.4C716.2,465.9 714.2,468.4 714.0,471.5C713.8,474.6 715.0,480.2 715.2,482.0" fill="none" stroke-linecap="round" stroke-linejoin="round" stroke="#363636" stroke-width="2.3" pathLength="100" stroke-dasharray="84 100" stroke-dashoffset="-8"/>
<path d="M700.1,443.7C701.6,444.5 706.9,446.2 709.4,448.3C711.9,450.4 714.0,453.9 715.2,456.4C716.4,458.9 716.6,460.9 716.4,463.4C716.2,465.9 714.2,468.4 714.0,471.5C713.8,474.6 715.0,480.2 715.2,482.0" fill="none" stroke-linecap="round" stroke-linejoin="round" stroke="#363636" stroke-width="3.2" pathLength="100" stroke-dasharray="64 100" stroke-dashoffset="-18"/>
<path d="M715.2,470.4C717.9,470.2 725.6,469.0 731.4,469.2C737.2,469.4 745.0,470.5 750.0,471.5C755.0,472.5 759.7,474.4 761.6,475.0" fill="none" stroke-linecap="round" stroke-linejoin="round" stroke="#363636" stroke-width="1.3"/>
<path d="M715.2,470.4C717.9,470.2 725.6,469.0 731.4,469.2C737.2,469.4 745.0,470.5 750.0,471.5C755.0,472.5 759.7,474.4 761.6,475.0" fill="none" stroke-linecap="round" stroke-linejoin="round" stroke="#363636" stroke-width="2.3" pathLength="100" stroke-dasharray="84 100" stroke-dashoffset="-8"/>
<path d="M715.2,470.4C717.9,470.2 725.6,469.0 731.4,469.2C737.2,469.4 745.0,470.5 750.0,471.5C755.0,472.5 759.7,474.4 761.6,475.0" fill="none" stroke-linecap="round" stroke-linejoin="round" stroke="#363636" stroke-width="3.2" pathLength="100" stroke-dasharray="64 100" stroke-dashoffset="-18"/>
<path d="M656.0,398.4C656.2,399.8 655.9,404.0 657.1,406.5C658.3,409.0 661.0,412.2 663.0,413.5C665.0,414.8 668.0,414.3 669.0,414.5" fill="none" stroke-linecap="round" stroke-linejoin="round" stroke="#363636" stroke-width="1.3"/>
<path d="M656.0,398.4C656.2,399.8 655.9,404.0 657.1,406.5C658.3,409.0 661.0,412.2 663.0,413.5C665.0,414.8 668.0,414.3 669.0,414.5" fill="none" stroke-linecap="round" stroke-linejoin="round" stroke="#363636" stroke-width="2.3" pathLength="100" stroke-dasharray="84 100" stroke-dashoffset="-8"/>
<path d="M656.0,398.4C656.2,399.8 655.9,404.0 657.1,406.5C658.3,409.0 661.0,412.2 663.0,413.5C665.0,414.8 668.0,414.3 669.0,414.5" fill="none" stroke-linecap="round" stroke-linejoin="round" stroke="#363636" stroke-width="3.2" pathLength="100" stroke-dasharray="64 100" stroke-dashoffset="-18"/>
<path d="M678.0,398.4C679.0,397.7 681.8,395.2 683.8,394.2C685.8,393.2 688.7,392.9 689.7,392.6" fill="none" stroke-linecap="round" stroke-linejoin="round" stroke="#363636" stroke-width="1.3"/>
<path d="M678.0,398.4C679.0,397.7 681.8,395.2 683.8,394.2C685.8,393.2 688.7,392.9 689.7,392.6" fill="none" stroke-linecap="round" stroke-linejoin="round" stroke="#363636" stroke-width="2.3" pathLength="100" stroke-dasharray="84 100" stroke-dashoffset="-8"/>
<path d="M678.0,398.4C679.0,397.7 681.8,395.2 683.8,394.2C685.8,393.2 688.7,392.9 689.7,392.6" fill="none" stroke-linecap="round" stroke-linejoin="round" stroke="#363636" stroke-width="3.2" pathLength="100" stroke-dasharray="64 100" stroke-dashoffset="-18"/>
<path d="M676.9,406.5C677.3,408.2 677.7,413.9 679.2,417.0C680.8,420.1 683.7,423.6 686.2,425.1C688.7,426.7 692.9,426.1 694.3,426.3" fill="none" stroke-linecap="round" stroke-linejoin="round" stroke="#363636" stroke-width="1.3"/>
<path d="M676.9,406.5C677.3,408.2 677.7,413.9 679.2,417.0C680.8,420.1 683.7,423.6 686.2,425.1C688.7,426.7 692.9,426.1 694.3,426.3" fill="none" stroke-linecap="round" stroke-linejoin="round" stroke="#363636" stroke-width="2.3" pathLength="100" stroke-dasharray="84 100" stroke-dashoffset="-8"/>
<path d="M676.9,406.5C677.3,408.2 677.7,413.9 679.2,417.0C680.8,420.1 683.7,423.6 686.2,425.1C688.7,426.7 692.9,426.1 694.3,426.3" fill="none" stroke-linecap="round" stroke-linejoin="round" stroke="#363636" stroke-width="3.2" pathLength="100" stroke-dasharray="64 100" stroke-dashoffset="-18"/>
<path d="M666.4,423.9C668.0,423.5 673.3,422.2 675.7,421.6C678.1,421.0 680.1,420.3 681.0,420.0" fill="none" stroke-linecap="round" stroke-linejoin="round" stroke="#363636" stroke-width="1.1"/>
<path d="M666.4,423.9C668.0,423.5 673.3,422.2 675.7,421.6C678.1,421.0 680.1,420.3 681.0,420.0" fill="none" stroke-linecap="round" stroke-linejoin="round" stroke="#363636" stroke-width="1.9" pathLength="100" stroke-dasharray="84 100" stroke-dashoffset="-8"/>
<path d="M666.4,423.9C668.0,423.5 673.3,422.2 675.7,421.6C678.1,421.0 680.1,420.3 681.0,420.0" fill="none" stroke-linecap="round" stroke-linejoin="round" stroke="#363636" stroke-width="2.6" pathLength="100" stroke-dasharray="64 100" stroke-dashoffset="-18"/>
<path d="M694.3,425.1C693.9,426.9 692.2,431.9 692.0,435.6C691.8,439.3 692.5,443.7 693.1,447.2C693.7,450.7 695.1,454.9 695.5,456.4" fill="none" stroke-linecap="round" stroke-linejoin="round" stroke="#363636" stroke-width="1.3"/>
<path d="M694.3,425.1C693.9,426.9 692.2,431.9 692.0,435.6C691.8,439.3 692.5,443.7 693.1,447.2C693.7,450.7 695.1,454.9 695.5,456.4" fill="none" stroke-linecap="round" stroke-linejoin="round" stroke="#363636" stroke-width="2.3" pathLength="100" stroke-dasharray="84 100" stroke-dashoffset="-8"/>
<path d="M694.3,425.1C693.9,426.9 692.2,431.9 692.0,435.6C691.8,439.3 692.5,443.7 693.1,447.2C693.7,450.7 695.1,454.9 695.5,456.4" fill="none" stroke-linecap="round" stroke-linejoin="round" stroke="#363636" stroke-width="3.2" pathLength="100" stroke-dasharray="64 100" stroke-dashoffset="-18"/>
<path d="M654.8,437.9C655.8,438.7 658.9,440.9 660.6,442.5C662.4,444.1 664.5,446.4 665.3,447.2" fill="none" stroke-linecap="round" stroke-linejoin="round" stroke="#363636" stroke-width="1.3"/>
<path d="M654.8,437.9C655.8,438.7 658.9,440.9 660.6,442.5C662.4,444.1 664.5,446.4 665.3,447.2" fill="none" stroke-linecap="round" stroke-linejoin="round" stroke="#363636" stroke-width="2.3" pathLength="100" stroke-dasharray="84 100" stroke-dashoffset="-8"/>
<path d="M654.8,437.9C655.8,438.7 658.9,440.9 660.6,442.5C662.4,444.1 664.5,446.4 665.3,447.2" fill="none" stroke-linecap="round" stroke-linejoin="round" stroke="#363636" stroke-width="3.2" pathLength="100" stroke-dasharray="64 100" stroke-dashoffset="-18"/>
<path d="M680.4,437.9C679.4,439.0 676.2,442.9 674.6,444.8C673.0,446.7 671.6,448.3 671.0,449.0" fill="none" stroke-linecap="round" stroke-linejoin="round" stroke="#363636" stroke-width="1.3"/>
<path d="M680.4,437.9C679.4,439.0 676.2,442.9 674.6,444.8C673.0,446.7 671.6,448.3 671.0,449.0" fill="none" stroke-linecap="round" stroke-linejoin="round" stroke="#363636" stroke-width="2.3" pathLength="100" stroke-dasharray="84 100" stroke-dashoffset="-8"/>
<path d="M680.4,437.9C679.4,439.0 676.2,442.9 674.6,444.8C673.0,446.7 671.6,448.3 671.0,449.0" fill="none" stroke-linecap="round" stroke-linejoin="round" stroke="#363636" stroke-width="3.2" pathLength="100" stroke-dasharray="64 100" stroke-dashoffset="-18"/>
<path d="M644.4,458.8C644.0,460.4 642.9,465.4 642.1,468.1C641.3,470.8 640.5,472.3 639.7,475.0C638.9,477.7 637.6,481.2 637.4,484.3C637.2,487.4 638.4,492.1 638.6,493.6" fill="none" stroke-linecap="round" stroke-linejoin="round" stroke="#363636" stroke-width="1.3"/>
<path d="M644.4,458.8C644.0,460.4 642.9,465.4 642.1,468.1C641.3,470.8 640.5,472.3 639.7,475.0C638.9,477.7 637.6,481.2 637.4,484.3C637.2,487.4 638.4,492.1 638.6,493.6" fill="none" stroke-linecap="round" stroke-linejoin="round" stroke="#363636" stroke-width="2.3" pathLength="100" stroke-dasharray="84 100" stroke-dashoffset="-8"/>
<path d="M644.4,458.8C644.0,460.4 642.9,465.4 642.1,468.1C641.3,470.8 640.5,472.3 639.7,475.0C638.9,477.7 637.6,481.2 637.4,484.3C637.2,487.4 638.4,492.1 638.6,493.6" fill="none" stroke-linecap="round" stroke-linejoin="round" stroke="#363636" stroke-width="3.2" pathLength="100" stroke-dasharray="64 100" stroke-dashoffset="-18"/>
<path d="M664.1,475.0C663.5,476.6 661.2,481.2 660.6,484.3C660.0,487.4 660.6,492.1 660.6,493.6" fill="none" stroke-linecap="round" stroke-linejoin="round" stroke="#363636" stroke-width="1.3"/>
<path d="M664.1,475.0C663.5,476.6 661.2,481.2 660.6,484.3C660.0,487.4 660.6,492.1 660.6,493.6" fill="none" stroke-linecap="round" stroke-linejoin="round" stroke="#363636" stroke-width="2.3" pathLength="100" stroke-dasharray="84 100" stroke-dashoffset="-8"/>
<path d="M664.1,475.0C663.5,476.6 661.2,481.2 660.6,484.3C660.0,487.4 660.6,492.1 660.6,493.6" fill="none" stroke-linecap="round" stroke-linejoin="round" stroke="#363636" stroke-width="3.2" pathLength="100" stroke-dasharray="64 100" stroke-dashoffset="-18"/>
<path d="M700.1,470.4C698.0,471.5 690.6,474.6 687.3,477.3C684.0,480.0 681.9,483.9 680.4,486.6C678.9,489.3 678.4,492.4 678.0,493.6" fill="none" stroke-linecap="round" stroke-linejoin="round" stroke="#363636" stroke-width="1.3"/>
<path d="M700.1,470.4C698.0,471.5 690.6,474.6 687.3,477.3C684.0,480.0 681.9,483.9 680.4,486.6C678.9,489.3 678.4,492.4 678.0,493.6" fill="none" stroke-linecap="round" stroke-linejoin="round" stroke="#363636" stroke-width="2.3" pathLength="100" stroke-dasharray="84 100" stroke-dashoffset="-8"/>
<path d="M700.1,470.4C698.0,471.5 690.6,474.6 687.3,477.3C684.0,480.0 681.9,483.9 680.4,486.6C678.9,489.3 678.4,492.4 678.0,493.6" fill="none" stroke-linecap="round" stroke-linejoin="round" stroke="#363636" stroke-width="3.2" pathLength="100" stroke-dasharray="64 100" stroke-dashoffset="-18"/>
<path d="M768.1,362.4C768.9,363.4 771.2,366.4 772.8,368.2C774.3,369.9 775.7,371.1 777.4,372.9C779.1,374.6 782.2,377.7 783.2,378.7" fill="none" stroke-linecap="round" stroke-linejoin="round" stroke="#363636" stroke-width="1.3"/>
<path d="M768.1,362.4C768.9,363.4 771.2,366.4 772.8,368.2C774.3,369.9 775.7,371.1 777.4,372.9C779.1,374.6 782.2,377.7 783.2,378.7" fill="none" stroke-linecap="round" stroke-linejoin="round" stroke="#363636" stroke-width="2.3" pathLength="100" stroke-dasharray="84 100" stroke-dashoffset="-8"/>
<path d="M768.1,362.4C768.9,363.4 771.2,366.4 772.8,368.2C774.3,369.9 775.7,371.1 777.4,372.9C779.1,374.6 782.2,377.7 783.2,378.7" fill="none" stroke-linecap="round" stroke-linejoin="round" stroke="#363636" stroke-width="3.2" pathLength="100" stroke-dasharray="64 100" stroke-dashoffset="-18"/>
<path d="M777.4,364.7C777.0,365.7 775.5,369.5 775.1,370.5" fill="none" stroke-linecap="round" stroke-linejoin="round" stroke="#363636" stroke-width="1.1"/>
<path d="M777.4,364.7C777.0,365.7 775.5,369.5 775.1,370.5" fill="none" stroke-linecap="round" stroke-linejoin="round" stroke="#363636" stroke-width="1.9" pathLength="100" stroke-dasharray="84 100" stroke-dashoffset="-8"/>
<path d="M777.4,364.7C777.0,365.7 775.5,369.5 775.1,370.5" fill="none" stroke-linecap="round" stroke-linejoin="round" stroke="#363636" stroke-width="2.6" pathLength="100" stroke-dasharray="64 100" stroke-dashoffset="-18"/>
<path d="M783.0,366.5C782.5,367.1 780.9,368.9 780.0,370.0C779.1,371.1 777.8,372.4 777.4,372.9" fill="none" stroke-linecap="round" stroke-linejoin="round" stroke="#363636" stroke-width="1.1"/>
<path d="M783.0,366.5C782.5,367.1 780.9,368.9 780.0,370.0C779.1,371.1 777.8,372.4 777.4,372.9" fill="none" stroke-linecap="round" stroke-linejoin="round" stroke="#363636" stroke-width="1.9" pathLength="100" stroke-dasharray="84 100" stroke-dashoffset="-8"/>
<path d="M783.0,366.5C782.5,367.1 780.9,368.9 780.0,370.0C779.1,371.1 777.8,372.4 777.4,372.9" fill="none" stroke-linecap="round" stroke-linejoin="round" stroke="#363636" stroke-width="2.6" pathLength="100" stroke-dasharray="64 100" stroke-dashoffset="-18"/>
<path d="M822.2,362.4C822.0,363.8 821.9,368.2 820.8,370.5C819.7,372.8 817.7,374.6 815.7,376.3C813.7,378.1 809.9,380.2 808.8,381.0" fill="none" stroke-linecap="round" stroke-linejoin="round" stroke="#363636" stroke-width="1.3"/>
<path d="M822.2,362.4C822.0,363.8 821.9,368.2 820.8,370.5C819.7,372.8 817.7,374.6 815.7,376.3C813.7,378.1 809.9,380.2 808.8,381.0" fill="none" stroke-linecap="round" stroke-linejoin="round" stroke="#363636" stroke-width="2.3" pathLength="100" stroke-dasharray="84 100" stroke-dashoffset="-8"/>
<path d="M822.2,362.4C822.0,363.8 821.9,368.2 820.8,370.5C819.7,372.8 817.7,374.6 815.7,376.3C813.7,378.1 809.9,380.2 808.8,381.0" fill="none" stroke-linecap="round" stroke-linejoin="round" stroke="#363636" stroke-width="3.2" pathLength="100" stroke-dasharray="64 100" stroke-dashoffset="-18"/>
<path d="M832.0,379.8C834.3,380.6 841.3,383.1 845.9,384.5C850.5,385.9 855.9,386.6 859.8,388.0C863.7,389.4 866.8,390.7 869.1,392.6C871.4,394.5 873.0,398.4 873.8,399.6" fill="none" stroke-linecap="round" stroke-linejoin="round" stroke="#363636" stroke-width="1.5"/>
<path d="M832.0,379.8C834.3,380.6 841.3,383.1 845.9,384.5C850.5,385.9 855.9,386.6 859.8,388.0C863.7,389.4 866.8,390.7 869.1,392.6C871.4,394.5 873.0,398.4 873.8,399.6" fill="none" stroke-linecap="round" stroke-linejoin="round" stroke="#363636" stroke-width="2.6" pathLength="100" stroke-dasharray="84 100" stroke-dashoffset="-8"/>
<path d="M832.0,379.8C834.3,380.6 841.3,383.1 845.9,384.5C850.5,385.9 855.9,386.6 859.8,388.0C863.7,389.4 866.8,390.7 869.1,392.6C871.4,394.5 873.0,398.4 873.8,399.6" fill="none" stroke-linecap="round" stroke-linejoin="round" stroke="#363636" stroke-width="3.6" pathLength="100" stroke-dasharray="64 100" stroke-dashoffset="-18"/>
<path d="M870.3,403.0C868.5,404.0 862.3,406.9 859.8,408.8C857.3,410.8 855.0,412.9 855.2,414.7C855.4,416.4 859.6,417.9 861.0,419.3C862.4,420.7 862.9,422.2 863.3,422.8" fill="none" stroke-linecap="round" stroke-linejoin="round" stroke="#363636" stroke-width="1.3"/>
<path d="M870.3,403.0C868.5,404.0 862.3,406.9 859.8,408.8C857.3,410.8 855.0,412.9 855.2,414.7C855.4,416.4 859.6,417.9 861.0,419.3C862.4,420.7 862.9,422.2 863.3,422.8" fill="none" stroke-linecap="round" stroke-linejoin="round" stroke="#363636" stroke-width="2.3" pathLength="100" stroke-dasharray="84 100" stroke-dashoffset="-8"/>
<path d="M870.3,403.0C868.5,404.0 862.3,406.9 859.8,408.8C857.3,410.8 855.0,412.9 855.2,414.7C855.4,416.4 859.6,417.9 861.0,419.3C862.4,420.7 862.9,422.2 863.3,422.8" fill="none" stroke-linecap="round" stroke-linejoin="round" stroke="#363636" stroke-width="3.2" pathLength="100" stroke-dasharray="64 100" stroke-dashoffset="-18"/>
<path d="M849.4,400.7C849.8,402.2 850.7,407.7 851.7,410.0C852.7,412.3 854.6,413.9 855.2,414.7" fill="none" stroke-linecap="round" stroke-linejoin="round" stroke="#363636" stroke-width="1.3"/>
<path d="M849.4,400.7C849.8,402.2 850.7,407.7 851.7,410.0C852.7,412.3 854.6,413.9 855.2,414.7" fill="none" stroke-linecap="round" stroke-linejoin="round" stroke="#363636" stroke-width="2.3" pathLength="100" stroke-dasharray="84 100" stroke-dashoffset="-8"/>
<path d="M849.4,400.7C849.8,402.2 850.7,407.7 851.7,410.0C852.7,412.3 854.6,413.9 855.2,414.7" fill="none" stroke-linecap="round" stroke-linejoin="round" stroke="#363636" stroke-width="3.2" pathLength="100" stroke-dasharray="64 100" stroke-dashoffset="-18"/>
<path d="M812.2,392.6C811.8,393.8 809.3,397.5 809.9,399.6C810.5,401.7 814.9,403.3 815.7,405.4C816.5,407.5 814.8,411.1 814.6,412.3" fill="none" stroke-linecap="round" stroke-linejoin="round" stroke="#363636" stroke-width="1.3"/>
<path d="M812.2,392.6C811.8,393.8 809.3,397.5 809.9,399.6C810.5,401.7 814.9,403.3 815.7,405.4C816.5,407.5 814.8,411.1 814.6,412.3" fill="none" stroke-linecap="round" stroke-linejoin="round" stroke="#363636" stroke-width="2.3" pathLength="100" stroke-dasharray="84 100" stroke-dashoffset="-8"/>
<path d="M812.2,392.6C811.8,393.8 809.3,397.5 809.9,399.6C810.5,401.7 814.9,403.3 815.7,405.4C816.5,407.5 814.8,411.1 814.6,412.3" fill="none" stroke-linecap="round" stroke-linejoin="round" stroke="#363636" stroke-width="3.2" pathLength="100" stroke-dasharray="64 100" stroke-dashoffset="-18"/>
<path d="M827.3,394.9C828.3,396.1 831.7,399.4 833.1,401.9C834.5,404.4 835.1,408.6 835.5,410.0" fill="none" stroke-linecap="round" stroke-linejoin="round" stroke="#363636" stroke-width="1.3"/>
<path d="M827.3,394.9C828.3,396.1 831.7,399.4 833.1,401.9C834.5,404.4 835.1,408.6 835.5,410.0" fill="none" stroke-linecap="round" stroke-linejoin="round" stroke="#363636" stroke-width="2.3" pathLength="100" stroke-dasharray="84 100" stroke-dashoffset="-8"/>
<path d="M827.3,394.9C828.3,396.1 831.7,399.4 833.1,401.9C834.5,404.4 835.1,408.6 835.5,410.0" fill="none" stroke-linecap="round" stroke-linejoin="round" stroke="#363636" stroke-width="3.2" pathLength="100" stroke-dasharray="64 100" stroke-dashoffset="-18"/>
<path d="M764.6,398.9C766.9,399.0 774.7,399.3 778.6,399.6C782.5,399.9 785.4,399.6 787.9,400.7C790.4,401.8 792.2,404.8 793.7,406.5C795.2,408.2 796.5,410.4 797.1,411.2" fill="none" stroke-linecap="round" stroke-linejoin="round" stroke="#363636" stroke-width="1.3"/>
<path d="M764.6,398.9C766.9,399.0 774.7,399.3 778.6,399.6C782.5,399.9 785.4,399.6 787.9,400.7C790.4,401.8 792.2,404.8 793.7,406.5C795.2,408.2 796.5,410.4 797.1,411.2" fill="none" stroke-linecap="round" stroke-linejoin="round" stroke="#363636" stroke-width="2.3" pathLength="100" stroke-dasharray="84 100" stroke-dashoffset="-8"/>
<path d="M764.6,398.9C766.9,399.0 774.7,399.3 778.6,399.6C782.5,399.9 785.4,399.6 787.9,400.7C790.4,401.8 792.2,404.8 793.7,406.5C795.2,408.2 796.5,410.4 797.1,411.2" fill="none" stroke-linecap="round" stroke-linejoin="round" stroke="#363636" stroke-width="3.2" pathLength="100" stroke-dasharray="64 100" stroke-dashoffset="-18"/>
<path d="M806.4,426.3C807.4,427.6 810.7,431.9 812.2,434.4C813.8,436.9 815.1,440.2 815.7,441.4" fill="none" stroke-linecap="round" stroke-linejoin="round" stroke="#363636" stroke-width="1.3"/>
<path d="M806.4,426.3C807.4,427.6 810.7,431.9 812.2,434.4C813.8,436.9 815.1,440.2 815.7,441.4" fill="none" stroke-linecap="round" stroke-linejoin="round" stroke="#363636" stroke-width="2.3" pathLength="100" stroke-dasharray="84 100" stroke-dashoffset="-8"/>
<path d="M806.4,426.3C807.4,427.6 810.7,431.9 812.2,434.4C813.8,436.9 815.1,440.2 815.7,441.4" fill="none" stroke-linecap="round" stroke-linejoin="round" stroke="#363636" stroke-width="3.2" pathLength="100" stroke-dasharray="64 100" stroke-dashoffset="-18"/>
<path d="M836.6,429.7C835.8,431.4 832.6,436.9 832.0,440.2C831.4,443.5 832.1,446.8 833.1,449.5C834.1,452.2 837.0,455.2 837.8,456.4" fill="none" stroke-linecap="round" stroke-linejoin="round" stroke="#363636" stroke-width="1.3"/>
<path d="M836.6,429.7C835.8,431.4 832.6,436.9 832.0,440.2C831.4,443.5 832.1,446.8 833.1,449.5C834.1,452.2 837.0,455.2 837.8,456.4" fill="none" stroke-linecap="round" stroke-linejoin="round" stroke="#363636" stroke-width="2.3" pathLength="100" stroke-dasharray="84 100" stroke-dashoffset="-8"/>
<path d="M836.6,429.7C835.8,431.4 832.6,436.9 832.0,440.2C831.4,443.5 832.1,446.8 833.1,449.5C834.1,452.2 837.0,455.2 837.8,456.4" fill="none" stroke-linecap="round" stroke-linejoin="round" stroke="#363636" stroke-width="3.2" pathLength="100" stroke-dasharray="64 100" stroke-dashoffset="-18"/>
<path d="M848.2,430.9C848.4,432.8 848.2,439.2 849.4,442.5C850.6,445.8 852.7,448.5 855.2,450.6C857.7,452.7 863.0,454.5 864.5,455.3" fill="none" stroke-linecap="round" stroke-linejoin="round" stroke="#363636" stroke-width="1.3"/>
<path d="M848.2,430.9C848.4,432.8 848.2,439.2 849.4,442.5C850.6,445.8 852.7,448.5 855.2,450.6C857.7,452.7 863.0,454.5 864.5,455.3" fill="none" stroke-linecap="round" stroke-linejoin="round" stroke="#363636" stroke-width="2.3" pathLength="100" stroke-dasharray="84 100" stroke-dashoffset="-8"/>
<path d="M848.2,430.9C848.4,432.8 848.2,439.2 849.4,442.5C850.6,445.8 852.7,448.5 855.2,450.6C857.7,452.7 863.0,454.5 864.5,455.3" fill="none" stroke-linecap="round" stroke-linejoin="round" stroke="#363636" stroke-width="3.2" pathLength="100" stroke-dasharray="64 100" stroke-dashoffset="-18"/>
<path d="M791.3,443.7C790.9,444.9 788.6,448.3 789.0,450.6C789.4,452.9 792.2,456.0 793.7,457.6C795.2,459.2 797.3,459.6 798.0,460.0" fill="none" stroke-linecap="round" stroke-linejoin="round" stroke="#363636" stroke-width="1.3"/>
<path d="M791.3,443.7C790.9,444.9 788.6,448.3 789.0,450.6C789.4,452.9 792.2,456.0 793.7,457.6C795.2,459.2 797.3,459.6 798.0,460.0" fill="none" stroke-linecap="round" stroke-linejoin="round" stroke="#363636" stroke-width="2.3" pathLength="100" stroke-dasharray="84 100" stroke-dashoffset="-8"/>
<path d="M791.3,443.7C790.9,444.9 788.6,448.3 789.0,450.6C789.4,452.9 792.2,456.0 793.7,457.6C795.2,459.2 797.3,459.6 798.0,460.0" fill="none" stroke-linecap="round" stroke-linejoin="round" stroke="#363636" stroke-width="3.2" pathLength="100" stroke-dasharray="64 100" stroke-dashoffset="-18"/>
<path d="M770.4,459.9C772.1,459.1 777.8,456.3 780.9,455.3C784.0,454.3 787.6,454.3 789.0,454.1" fill="none" stroke-linecap="round" stroke-linejoin="round" stroke="#363636" stroke-width="1.3"/>
<path d="M770.4,459.9C772.1,459.1 777.8,456.3 780.9,455.3C784.0,454.3 787.6,454.3 789.0,454.1" fill="none" stroke-linecap="round" stroke-linejoin="round" stroke="#363636" stroke-width="2.3" pathLength="100" stroke-dasharray="84 100" stroke-dashoffset="-8"/>
<path d="M770.4,459.9C772.1,459.1 777.8,456.3 780.9,455.3C784.0,454.3 787.6,454.3 789.0,454.1" fill="none" stroke-linecap="round" stroke-linejoin="round" stroke="#363636" stroke-width="3.2" pathLength="100" stroke-dasharray="64 100" stroke-dashoffset="-18"/>
<path d="M767.0,420.5C768.8,419.8 774.1,416.5 778.0,416.3C781.9,416.1 788.2,418.8 790.2,419.3" fill="none" stroke-linecap="round" stroke-linejoin="round" stroke="#363636" stroke-width="1.3"/>
<path d="M767.0,420.5C768.8,419.8 774.1,416.5 778.0,416.3C781.9,416.1 788.2,418.8 790.2,419.3" fill="none" stroke-linecap="round" stroke-linejoin="round" stroke="#363636" stroke-width="2.3" pathLength="100" stroke-dasharray="84 100" stroke-dashoffset="-8"/>
<path d="M767.0,420.5C768.8,419.8 774.1,416.5 778.0,416.3C781.9,416.1 788.2,418.8 790.2,419.3" fill="none" stroke-linecap="round" stroke-linejoin="round" stroke="#363636" stroke-width="3.2" pathLength="100" stroke-dasharray="64 100" stroke-dashoffset="-18"/>
<path d="M771.5,431.0C773.1,430.6 778.2,428.6 781.0,428.6C783.8,428.6 786.8,430.6 788.0,431.0" fill="none" stroke-linecap="round" stroke-linejoin="round" stroke="#363636" stroke-width="1.2"/>
<path d="M771.5,431.0C773.1,430.6 778.2,428.6 781.0,428.6C783.8,428.6 786.8,430.6 788.0,431.0" fill="none" stroke-linecap="round" stroke-linejoin="round" stroke="#363636" stroke-width="2.0" pathLength="100" stroke-dasharray="84 100" stroke-dashoffset="-8"/>
<path d="M771.5,431.0C773.1,430.6 778.2,428.6 781.0,428.6C783.8,428.6 786.8,430.6 788.0,431.0" fill="none" stroke-linecap="round" stroke-linejoin="round" stroke="#363636" stroke-width="2.8" pathLength="100" stroke-dasharray="64 100" stroke-dashoffset="-18"/>
<path d="M771.5,440.2C772.7,440.0 776.3,438.8 778.6,439.0C780.9,439.2 784.4,441.0 785.5,441.4" fill="none" stroke-linecap="round" stroke-linejoin="round" stroke="#363636" stroke-width="1.1"/>
<path d="M771.5,440.2C772.7,440.0 776.3,438.8 778.6,439.0C780.9,439.2 784.4,441.0 785.5,441.4" fill="none" stroke-linecap="round" stroke-linejoin="round" stroke="#363636" stroke-width="1.9" pathLength="100" stroke-dasharray="84 100" stroke-dashoffset="-8"/>
<path d="M771.5,440.2C772.7,440.0 776.3,438.8 778.6,439.0C780.9,439.2 784.4,441.0 785.5,441.4" fill="none" stroke-linecap="round" stroke-linejoin="round" stroke="#363636" stroke-width="2.6" pathLength="100" stroke-dasharray="64 100" stroke-dashoffset="-18"/>
<path d="M818.0,454.1C818.8,455.7 822.1,459.9 822.7,463.4C823.3,466.9 822.3,471.9 821.5,475.0C820.7,478.1 818.6,480.8 818.0,482.0" fill="none" stroke-linecap="round" stroke-linejoin="round" stroke="#363636" stroke-width="1.3"/>
<path d="M818.0,454.1C818.8,455.7 822.1,459.9 822.7,463.4C823.3,466.9 822.3,471.9 821.5,475.0C820.7,478.1 818.6,480.8 818.0,482.0" fill="none" stroke-linecap="round" stroke-linejoin="round" stroke="#363636" stroke-width="2.3" pathLength="100" stroke-dasharray="84 100" stroke-dashoffset="-8"/>
<path d="M818.0,454.1C818.8,455.7 822.1,459.9 822.7,463.4C823.3,466.9 822.3,471.9 821.5,475.0C820.7,478.1 818.6,480.8 818.0,482.0" fill="none" stroke-linecap="round" stroke-linejoin="round" stroke="#363636" stroke-width="3.2" pathLength="100" stroke-dasharray="64 100" stroke-dashoffset="-18"/>
<path d="M855.2,463.4C856.6,464.0 860.8,466.5 863.3,466.9C865.8,467.3 868.8,466.9 870.3,465.7C871.8,464.5 872.2,460.9 872.6,459.9" fill="none" stroke-linecap="round" stroke-linejoin="round" stroke="#363636" stroke-width="1.3"/>
<path d="M855.2,463.4C856.6,464.0 860.8,466.5 863.3,466.9C865.8,467.3 868.8,466.9 870.3,465.7C871.8,464.5 872.2,460.9 872.6,459.9" fill="none" stroke-linecap="round" stroke-linejoin="round" stroke="#363636" stroke-width="2.3" pathLength="100" stroke-dasharray="84 100" stroke-dashoffset="-8"/>
<path d="M855.2,463.4C856.6,464.0 860.8,466.5 863.3,466.9C865.8,467.3 868.8,466.9 870.3,465.7C871.8,464.5 872.2,460.9 872.6,459.9" fill="none" stroke-linecap="round" stroke-linejoin="round" stroke="#363636" stroke-width="3.2" pathLength="100" stroke-dasharray="64 100" stroke-dashoffset="-18"/>
<path d="M843.6,478.5C844.2,479.9 846.1,484.1 847.1,486.6C848.1,489.1 849.0,492.4 849.4,493.6" fill="none" stroke-linecap="round" stroke-linejoin="round" stroke="#363636" stroke-width="1.3"/>
<path d="M843.6,478.5C844.2,479.9 846.1,484.1 847.1,486.6C848.1,489.1 849.0,492.4 849.4,493.6" fill="none" stroke-linecap="round" stroke-linejoin="round" stroke="#363636" stroke-width="2.3" pathLength="100" stroke-dasharray="84 100" stroke-dashoffset="-8"/>
<path d="M843.6,478.5C844.2,479.9 846.1,484.1 847.1,486.6C848.1,489.1 849.0,492.4 849.4,493.6" fill="none" stroke-linecap="round" stroke-linejoin="round" stroke="#363636" stroke-width="3.2" pathLength="100" stroke-dasharray="64 100" stroke-dashoffset="-18"/>
<path d="M861.0,475.0C860.6,476.6 859.7,481.4 858.7,484.3C857.7,487.2 855.8,491.0 855.2,492.4" fill="none" stroke-linecap="round" stroke-linejoin="round" stroke="#363636" stroke-width="1.3"/>
<path d="M861.0,475.0C860.6,476.6 859.7,481.4 858.7,484.3C857.7,487.2 855.8,491.0 855.2,492.4" fill="none" stroke-linecap="round" stroke-linejoin="round" stroke="#363636" stroke-width="2.3" pathLength="100" stroke-dasharray="84 100" stroke-dashoffset="-8"/>
<path d="M861.0,475.0C860.6,476.6 859.7,481.4 858.7,484.3C857.7,487.2 855.8,491.0 855.2,492.4" fill="none" stroke-linecap="round" stroke-linejoin="round" stroke="#363636" stroke-width="3.2" pathLength="100" stroke-dasharray="64 100" stroke-dashoffset="-18"/>
<path d="M784.4,477.3C783.0,477.7 778.6,478.5 776.3,479.7C774.0,480.9 771.6,482.0 770.4,484.3C769.2,486.6 769.5,492.1 769.3,493.6" fill="none" stroke-linecap="round" stroke-linejoin="round" stroke="#363636" stroke-width="1.3"/>
<path d="M784.4,477.3C783.0,477.7 778.6,478.5 776.3,479.7C774.0,480.9 771.6,482.0 770.4,484.3C769.2,486.6 769.5,492.1 769.3,493.6" fill="none" stroke-linecap="round" stroke-linejoin="round" stroke="#363636" stroke-width="2.3" pathLength="100" stroke-dasharray="84 100" stroke-dashoffset="-8"/>
<path d="M784.4,477.3C783.0,477.7 778.6,478.5 776.3,479.7C774.0,480.9 771.6,482.0 770.4,484.3C769.2,486.6 769.5,492.1 769.3,493.6" fill="none" stroke-linecap="round" stroke-linejoin="round" stroke="#363636" stroke-width="3.2" pathLength="100" stroke-dasharray="64 100" stroke-dashoffset="-18"/>
<path d="M818.0,486.6C818.4,487.5 819.5,490.4 820.5,492.0C821.5,493.6 823.4,495.8 824.0,496.5" fill="none" stroke-linecap="round" stroke-linejoin="round" stroke="#363636" stroke-width="1.3"/>
<path d="M818.0,486.6C818.4,487.5 819.5,490.4 820.5,492.0C821.5,493.6 823.4,495.8 824.0,496.5" fill="none" stroke-linecap="round" stroke-linejoin="round" stroke="#363636" stroke-width="2.3" pathLength="100" stroke-dasharray="84 100" stroke-dashoffset="-8"/>
<path d="M818.0,486.6C818.4,487.5 819.5,490.4 820.5,492.0C821.5,493.6 823.4,495.8 824.0,496.5" fill="none" stroke-linecap="round" stroke-linejoin="round" stroke="#363636" stroke-width="3.2" pathLength="100" stroke-dasharray="64 100" stroke-dashoffset="-18"/>
<path d="M678.0,498.1C679.4,499.0 683.7,501.9 686.5,503.2C689.3,504.5 691.0,505.5 695.0,505.8C699.0,506.1 705.1,506.2 710.4,505.0C715.7,503.8 720.6,499.9 727.0,498.5C733.4,497.1 743.3,496.7 749.0,496.6C754.7,496.5 759.0,497.8 761.0,498.0" fill="none" stroke-linecap="round" stroke-linejoin="round" stroke="#363636" stroke-width="1.3"/>
<path d="M678.0,498.1C679.4,499.0 683.7,501.9 686.5,503.2C689.3,504.5 691.0,505.5 695.0,505.8C699.0,506.1 705.1,506.2 710.4,505.0C715.7,503.8 720.6,499.9 727.0,498.5C733.4,497.1 743.3,496.7 749.0,496.6C754.7,496.5 759.0,497.8 761.0,498.0" fill="none" stroke-linecap="round" stroke-linejoin="round" stroke="#363636" stroke-width="2.2" pathLength="100" stroke-dasharray="84 100" stroke-dashoffset="-8"/>
<path d="M678.0,498.1C679.4,499.0 683.7,501.9 686.5,503.2C689.3,504.5 691.0,505.5 695.0,505.8C699.0,506.1 705.1,506.2 710.4,505.0C715.7,503.8 720.6,499.9 727.0,498.5C733.4,497.1 743.3,496.7 749.0,496.6C754.7,496.5 759.0,497.8 761.0,498.0" fill="none" stroke-linecap="round" stroke-linejoin="round" stroke="#363636" stroke-width="3.0" pathLength="100" stroke-dasharray="64 100" stroke-dashoffset="-18"/>
<path d="M677.5,470.0C677.3,471.7 676.6,476.7 676.5,480.0C676.4,483.3 676.6,487.2 677.0,490.0C677.4,492.8 678.7,495.8 679.0,497.0" fill="none" stroke-linecap="round" stroke-linejoin="round" stroke="#363636" stroke-width="1.3"/>
<path d="M677.5,470.0C677.3,471.7 676.6,476.7 676.5,480.0C676.4,483.3 676.6,487.2 677.0,490.0C677.4,492.8 678.7,495.8 679.0,497.0" fill="none" stroke-linecap="round" stroke-linejoin="round" stroke="#363636" stroke-width="2.3" pathLength="100" stroke-dasharray="84 100" stroke-dashoffset="-8"/>
<path d="M677.5,470.0C677.3,471.7 676.6,476.7 676.5,480.0C676.4,483.3 676.6,487.2 677.0,490.0C677.4,492.8 678.7,495.8 679.0,497.0" fill="none" stroke-linecap="round" stroke-linejoin="round" stroke="#363636" stroke-width="3.2" pathLength="100" stroke-dasharray="64 100" stroke-dashoffset="-18"/>
<path d="M769.6,494.0C769.8,495.0 769.9,498.5 771.0,500.0C772.1,501.5 772.0,502.8 776.0,503.0C780.0,503.2 787.8,502.3 795.0,501.5C802.2,500.7 815.0,498.6 819.0,498.0" fill="none" stroke-linecap="round" stroke-linejoin="round" stroke="#363636" stroke-width="1.3"/>
<path d="M769.6,494.0C769.8,495.0 769.9,498.5 771.0,500.0C772.1,501.5 772.0,502.8 776.0,503.0C780.0,503.2 787.8,502.3 795.0,501.5C802.2,500.7 815.0,498.6 819.0,498.0" fill="none" stroke-linecap="round" stroke-linejoin="round" stroke="#363636" stroke-width="2.2" pathLength="100" stroke-dasharray="84 100" stroke-dashoffset="-8"/>
<path d="M769.6,494.0C769.8,495.0 769.9,498.5 771.0,500.0C772.1,501.5 772.0,502.8 776.0,503.0C780.0,503.2 787.8,502.3 795.0,501.5C802.2,500.7 815.0,498.6 819.0,498.0" fill="none" stroke-linecap="round" stroke-linejoin="round" stroke="#363636" stroke-width="3.0" pathLength="100" stroke-dasharray="64 100" stroke-dashoffset="-18"/>
<path d="M735.0,508.0C736.2,508.8 739.9,511.3 742.0,512.5C744.1,513.7 746.6,514.6 747.5,515.0" fill="none" stroke-linecap="round" stroke-linejoin="round" stroke="#363636" stroke-width="1.3"/>
<path d="M735.0,508.0C736.2,508.8 739.9,511.3 742.0,512.5C744.1,513.7 746.6,514.6 747.5,515.0" fill="none" stroke-linecap="round" stroke-linejoin="round" stroke="#363636" stroke-width="2.2" pathLength="100" stroke-dasharray="84 100" stroke-dashoffset="-8"/>
<path d="M735.0,508.0C736.2,508.8 739.9,511.3 742.0,512.5C744.1,513.7 746.6,514.6 747.5,515.0" fill="none" stroke-linecap="round" stroke-linejoin="round" stroke="#363636" stroke-width="3.0" pathLength="100" stroke-dasharray="64 100" stroke-dashoffset="-18"/>
<path d="M752.5,512.0C751.7,512.5 749.1,513.3 747.5,515.0C745.9,516.7 743.8,520.8 743.0,522.0" fill="none" stroke-linecap="round" stroke-linejoin="round" stroke="#363636" stroke-width="1.3"/>
<path d="M752.5,512.0C751.7,512.5 749.1,513.3 747.5,515.0C745.9,516.7 743.8,520.8 743.0,522.0" fill="none" stroke-linecap="round" stroke-linejoin="round" stroke="#363636" stroke-width="2.2" pathLength="100" stroke-dasharray="84 100" stroke-dashoffset="-8"/>
<path d="M752.5,512.0C751.7,512.5 749.1,513.3 747.5,515.0C745.9,516.7 743.8,520.8 743.0,522.0" fill="none" stroke-linecap="round" stroke-linejoin="round" stroke="#363636" stroke-width="3.0" pathLength="100" stroke-dasharray="64 100" stroke-dashoffset="-18"/>
<path d="M750.0,505.0C751.2,505.2 755.8,505.8 757.0,506.0" fill="none" stroke-linecap="round" stroke-linejoin="round" stroke="#363636" stroke-width="1.1"/>
<path d="M750.0,505.0C751.2,505.2 755.8,505.8 757.0,506.0" fill="none" stroke-linecap="round" stroke-linejoin="round" stroke="#363636" stroke-width="1.9" pathLength="100" stroke-dasharray="84 100" stroke-dashoffset="-8"/>
<path d="M750.0,505.0C751.2,505.2 755.8,505.8 757.0,506.0" fill="none" stroke-linecap="round" stroke-linejoin="round" stroke="#363636" stroke-width="2.6" pathLength="100" stroke-dasharray="64 100" stroke-dashoffset="-18"/>
<path d="M792.0,514.5C793.2,514.9 796.3,517.2 799.0,517.0C801.7,516.8 805.0,514.8 808.0,513.5C811.0,512.2 815.5,509.8 817.0,509.0" fill="none" stroke-linecap="round" stroke-linejoin="round" stroke="#363636" stroke-width="1.3"/>
<path d="M792.0,514.5C793.2,514.9 796.3,517.2 799.0,517.0C801.7,516.8 805.0,514.8 808.0,513.5C811.0,512.2 815.5,509.8 817.0,509.0" fill="none" stroke-linecap="round" stroke-linejoin="round" stroke="#363636" stroke-width="2.2" pathLength="100" stroke-dasharray="84 100" stroke-dashoffset="-8"/>
<path d="M792.0,514.5C793.2,514.9 796.3,517.2 799.0,517.0C801.7,516.8 805.0,514.8 808.0,513.5C811.0,512.2 815.5,509.8 817.0,509.0" fill="none" stroke-linecap="round" stroke-linejoin="round" stroke="#363636" stroke-width="3.0" pathLength="100" stroke-dasharray="64 100" stroke-dashoffset="-18"/>
<path d="M799.0,517.0C799.1,518.2 799.4,522.8 799.5,524.0" fill="none" stroke-linecap="round" stroke-linejoin="round" stroke="#363636" stroke-width="1.0"/>
<path d="M799.0,517.0C799.1,518.2 799.4,522.8 799.5,524.0" fill="none" stroke-linecap="round" stroke-linejoin="round" stroke="#363636" stroke-width="1.7" pathLength="100" stroke-dasharray="84 100" stroke-dashoffset="-8"/>
<path d="M799.0,517.0C799.1,518.2 799.4,522.8 799.5,524.0" fill="none" stroke-linecap="round" stroke-linejoin="round" stroke="#363636" stroke-width="2.4" pathLength="100" stroke-dasharray="64 100" stroke-dashoffset="-18"/>
<path d="M779.5,507.0C779.6,507.8 779.9,511.2 780.0,512.0" fill="none" stroke-linecap="round" stroke-linejoin="round" stroke="#363636" stroke-width="1.1"/>
<path d="M779.5,507.0C779.6,507.8 779.9,511.2 780.0,512.0" fill="none" stroke-linecap="round" stroke-linejoin="round" stroke="#363636" stroke-width="1.9" pathLength="100" stroke-dasharray="84 100" stroke-dashoffset="-8"/>
<path d="M779.5,507.0C779.6,507.8 779.9,511.2 780.0,512.0" fill="none" stroke-linecap="round" stroke-linejoin="round" stroke="#363636" stroke-width="2.6" pathLength="100" stroke-dasharray="64 100" stroke-dashoffset="-18"/>
<path d="M637.0,472.6C636.9,474.3 634.9,479.1 636.3,482.8C637.7,486.5 641.2,490.4 645.6,494.7C650.0,498.9 656.9,504.1 662.7,508.3C668.5,512.5 676.1,516.8 680.4,520.0C684.6,523.2 684.3,525.7 688.2,527.8C692.1,529.9 697.3,531.6 703.8,532.7C710.3,533.8 719.6,534.1 727.0,534.6C734.4,535.1 743.1,536.1 748.0,535.5C752.9,534.9 754.2,532.9 756.5,531.0C758.8,529.1 760.7,525.2 761.5,524.0" fill="none" stroke-linecap="round" stroke-linejoin="round" stroke="#363636" stroke-width="3.4"/>
<path d="M637.5,537.5C638.2,536.4 640.4,532.9 642.0,531.0C643.6,529.1 644.8,526.8 647.0,526.0C649.2,525.2 652.0,525.9 655.0,526.5C658.0,527.1 662.1,528.6 664.8,529.7C667.5,530.8 669.0,531.9 671.0,533.0C673.0,534.1 675.6,536.0 676.5,536.6" fill="none" stroke-linecap="round" stroke-linejoin="round" stroke="#363636" stroke-width="1.2"/>
<path d="M637.5,537.5C638.2,536.4 640.4,532.9 642.0,531.0C643.6,529.1 644.8,526.8 647.0,526.0C649.2,525.2 652.0,525.9 655.0,526.5C658.0,527.1 662.1,528.6 664.8,529.7C667.5,530.8 669.0,531.9 671.0,533.0C673.0,534.1 675.6,536.0 676.5,536.6" fill="none" stroke-linecap="round" stroke-linejoin="round" stroke="#363636" stroke-width="2.0" pathLength="100" stroke-dasharray="84 100" stroke-dashoffset="-8"/>
<path d="M637.5,537.5C638.2,536.4 640.4,532.9 642.0,531.0C643.6,529.1 644.8,526.8 647.0,526.0C649.2,525.2 652.0,525.9 655.0,526.5C658.0,527.1 662.1,528.6 664.8,529.7C667.5,530.8 669.0,531.9 671.0,533.0C673.0,534.1 675.6,536.0 676.5,536.6" fill="none" stroke-linecap="round" stroke-linejoin="round" stroke="#363636" stroke-width="2.8" pathLength="100" stroke-dasharray="64 100" stroke-dashoffset="-18"/>
<path d="M890.0,472.6C889.9,474.2 890.2,478.6 889.5,482.0C888.8,485.4 887.9,489.5 886.0,493.0C884.1,496.5 881.5,501.7 878.2,503.2C874.9,504.7 869.7,502.3 866.0,502.0C862.3,501.7 860.5,501.6 856.0,501.5C851.5,501.4 845.0,500.8 839.0,501.5C833.0,502.2 825.7,504.6 820.0,506.0C814.3,507.4 807.5,509.3 805.0,510.0" fill="none" stroke-linecap="round" stroke-linejoin="round" stroke="#363636" stroke-width="1.3"/>
<path d="M890.0,472.6C889.9,474.2 890.2,478.6 889.5,482.0C888.8,485.4 887.9,489.5 886.0,493.0C884.1,496.5 881.5,501.7 878.2,503.2C874.9,504.7 869.7,502.3 866.0,502.0C862.3,501.7 860.5,501.6 856.0,501.5C851.5,501.4 845.0,500.8 839.0,501.5C833.0,502.2 825.7,504.6 820.0,506.0C814.3,507.4 807.5,509.3 805.0,510.0" fill="none" stroke-linecap="round" stroke-linejoin="round" stroke="#363636" stroke-width="2.2" pathLength="100" stroke-dasharray="84 100" stroke-dashoffset="-8"/>
<path d="M890.0,472.6C889.9,474.2 890.2,478.6 889.5,482.0C888.8,485.4 887.9,489.5 886.0,493.0C884.1,496.5 881.5,501.7 878.2,503.2C874.9,504.7 869.7,502.3 866.0,502.0C862.3,501.7 860.5,501.6 856.0,501.5C851.5,501.4 845.0,500.8 839.0,501.5C833.0,502.2 825.7,504.6 820.0,506.0C814.3,507.4 807.5,509.3 805.0,510.0" fill="none" stroke-linecap="round" stroke-linejoin="round" stroke="#363636" stroke-width="3.0" pathLength="100" stroke-dasharray="64 100" stroke-dashoffset="-18"/>
<path d="M873.0,506.6C870.8,507.6 864.2,510.5 860.0,512.5C855.8,514.5 851.1,516.2 847.6,518.5C844.1,520.8 842.1,524.0 839.0,526.0C835.9,528.0 834.3,529.4 828.7,530.7C823.1,532.0 813.4,533.1 805.3,533.6C797.2,534.1 785.9,534.1 780.0,533.6C774.1,533.1 772.5,532.3 770.0,530.7C767.5,529.1 766.1,525.1 765.3,524.0" fill="none" stroke-linecap="round" stroke-linejoin="round" stroke="#363636" stroke-width="3.4"/>
<polygon points="762.2,349 763.6,349 762.6,523 759.4,523" fill="#8a8a8a" fill-opacity="0.8"/>
<polygon points="764.0,348 765.5,348 766.6,523.5 762.9,523.5" fill="#363636"/>
<path d="M636.0,538.0C639.0,534.0 651.0,532.0 660.0,532.0C669.0,532.0 680.0,536.7 690.0,538.0C700.0,539.3 711.7,539.7 720.0,540.0C728.3,540.3 736.8,536.7 740.0,540.0C743.2,543.3 740.0,555.0 739.0,560.0C738.0,565.0 737.8,567.5 734.0,570.0C730.2,572.5 720.7,572.7 716.0,575.0C711.3,577.3 710.7,581.8 706.0,584.0C701.3,586.2 693.7,589.0 688.0,588.0C682.3,587.0 677.3,581.7 672.0,578.0C666.7,574.3 661.0,569.7 656.0,566.0C651.0,562.3 645.3,560.7 642.0,556.0C638.7,551.3 633.0,542.0 636.0,538.0Z" fill="#bebebe" />
<path d="M786.0,541.0C789.5,537.5 801.0,538.8 810.0,538.0C819.0,537.2 830.0,537.7 840.0,536.0C850.0,534.3 861.3,530.7 870.0,528.0C878.7,525.3 888.2,518.0 892.0,520.0C895.8,522.0 894.0,533.7 893.0,540.0C892.0,546.3 890.2,553.7 886.0,558.0C881.8,562.3 875.7,562.7 868.0,566.0C860.3,569.3 848.8,575.3 840.0,578.0C831.2,580.7 821.8,582.8 815.0,582.0C808.2,581.2 803.3,576.8 799.0,573.0C794.7,569.2 791.2,564.3 789.0,559.0C786.8,553.7 782.5,544.5 786.0,541.0Z" fill="#bebebe" />
<path d="M643.0,541.0C645.0,539.3 652.3,538.8 656.0,540.0C659.7,541.2 663.8,544.7 665.0,548.0C666.2,551.3 665.2,558.5 663.0,560.0C660.8,561.5 655.2,558.7 652.0,557.0C648.8,555.3 645.5,552.7 644.0,550.0C642.5,547.3 641.0,542.7 643.0,541.0Z" fill="#d3d3d3" />
<path d="M704.0,549.0C706.3,547.7 714.8,547.5 720.0,548.0C725.2,548.5 732.7,550.0 735.0,552.0C737.3,554.0 736.8,558.7 734.0,560.0C731.2,561.3 722.7,560.7 718.0,560.0C713.3,559.3 708.3,557.8 706.0,556.0C703.7,554.2 701.7,550.3 704.0,549.0Z" fill="#d3d3d3" />
<path d="M678.0,563.0C680.0,561.5 687.7,560.8 692.0,562.0C696.3,563.2 702.3,567.3 704.0,570.0C705.7,572.7 704.7,576.8 702.0,578.0C699.3,579.2 691.7,578.2 688.0,577.0C684.3,575.8 681.7,573.3 680.0,571.0C678.3,568.7 676.0,564.5 678.0,563.0Z" fill="#d3d3d3" />
<path d="M668.0,557.0C669.3,556.0 675.0,558.2 676.0,560.0C677.0,561.8 675.3,567.0 674.0,568.0C672.7,569.0 669.0,567.8 668.0,566.0C667.0,564.2 666.7,558.0 668.0,557.0Z" fill="#969696" />
<path d="M800.0,546.0C802.3,544.3 812.0,544.3 816.0,545.0C820.0,545.7 824.2,548.2 824.0,550.0C823.8,551.8 818.7,555.2 815.0,556.0C811.3,556.8 804.5,556.7 802.0,555.0C799.5,553.3 797.7,547.7 800.0,546.0Z" fill="#d3d3d3" />
<path d="M826.0,556.0C829.7,553.0 838.3,548.7 842.0,548.0C845.7,547.3 848.3,549.3 848.0,552.0C847.7,554.7 843.3,561.0 840.0,564.0C836.7,567.0 831.3,569.7 828.0,570.0C824.7,570.3 820.3,568.3 820.0,566.0C819.7,563.7 822.3,559.0 826.0,556.0Z" fill="#d3d3d3" />
<path d="M850.0,536.0C852.7,533.0 863.0,531.0 868.0,530.0C873.0,529.0 878.7,528.0 880.0,530.0C881.3,532.0 879.0,538.3 876.0,542.0C873.0,545.7 866.0,551.0 862.0,552.0C858.0,553.0 854.0,550.7 852.0,548.0C850.0,545.3 847.3,539.0 850.0,536.0Z" fill="#d3d3d3" />
<path d="M864.0,552.0C866.3,549.5 874.7,545.3 878.0,545.0C881.3,544.7 884.7,547.5 884.0,550.0C883.3,552.5 877.3,558.3 874.0,560.0C870.7,561.7 865.7,561.3 864.0,560.0C862.3,558.7 861.7,554.5 864.0,552.0Z" fill="#cacaca" />
<path d="M660.0,580.0C660.7,578.3 669.3,584.3 676.0,586.0C682.7,587.7 691.0,591.0 700.0,590.0C709.0,589.0 722.5,582.7 730.0,580.0C737.5,577.3 742.0,572.3 745.0,574.0C748.0,575.7 747.7,582.0 748.0,590.0C748.3,598.0 751.7,616.8 747.0,622.0C742.3,627.2 728.5,622.3 720.0,621.0C711.5,619.7 704.0,618.2 696.0,614.0C688.0,609.8 678.0,601.7 672.0,596.0C666.0,590.3 659.3,581.7 660.0,580.0Z" fill="#bcbcbc" />
<path d="M790.0,574.0C792.7,571.7 795.0,580.0 800.0,582.0C805.0,584.0 811.7,586.3 820.0,586.0C828.3,585.7 842.0,582.3 850.0,580.0C858.0,577.7 866.0,569.7 868.0,572.0C870.0,574.3 867.0,587.7 862.0,594.0C857.0,600.3 846.7,605.3 838.0,610.0C829.3,614.7 818.7,620.3 810.0,622.0C801.3,623.7 790.3,624.3 786.0,620.0C781.7,615.7 783.3,603.7 784.0,596.0C784.7,588.3 787.3,576.3 790.0,574.0Z" fill="#bcbcbc" />
<clipPath id="lowclip"><polygon points="600,574 660,574 700,592 745,600 745,660 600,660"/><polygon points="930,566 870,566 830,590 787,600 787,660 930,660"/></clipPath>
<g clip-path="url(#lowclip)">
<path d="M764.8,351.3C766.3,351.4 765.6,349.5 768.9,349.1C772.2,348.8 779.3,348.8 784.6,349.1C789.8,349.5 794.4,350.2 800.6,351.1C806.7,352.1 816.6,353.6 821.3,354.9C826.0,356.2 825.1,356.9 828.7,358.9C832.4,361.0 838.4,364.8 843.1,367.3C847.8,369.9 852.5,371.5 856.9,374.3C861.3,377.1 866.9,380.9 869.6,384.2C872.2,387.5 871.0,390.4 872.9,394.1C874.8,397.7 878.6,402.0 881.0,405.9C883.5,409.9 885.4,413.3 887.6,417.8C889.7,422.3 892.0,428.7 893.9,433.1C895.8,437.6 897.4,440.8 898.9,444.5C900.4,448.2 902.9,451.5 902.9,455.4C902.9,459.4 899.2,464.5 899.0,468.3C898.9,472.1 900.8,474.7 901.9,478.2C903.0,481.6 905.4,485.4 905.6,489.1C905.7,492.7 904.2,496.5 902.9,499.9C901.5,503.4 898.1,506.5 897.4,509.8C896.8,513.1 898.3,516.4 898.8,519.7C899.4,523.0 901.6,525.8 900.9,529.6C900.2,533.4 896.6,537.8 894.5,542.5C892.3,547.2 890.5,554.3 888.1,557.8C885.7,561.3 883.4,562.0 880.0,563.6C876.7,565.2 870.4,564.8 868.0,567.4C865.6,570.1 866.9,575.3 865.5,579.5C864.2,583.7 862.4,588.4 859.8,592.5C857.2,596.5 853.8,600.8 850.0,603.6C846.2,606.5 841.5,606.8 837.1,609.4C832.8,611.9 829.9,616.8 823.6,618.9C817.3,621.0 805.3,621.4 799.1,621.8C792.9,622.3 788.8,620.8 786.6,621.5C784.4,622.2 786.4,624.3 786.0,626.0C785.6,627.7 784.8,629.8 784.0,631.5C783.2,633.2 782.1,634.9 781.2,636.5C780.3,638.1 779.2,638.8 778.6,641.0C778.0,643.2 781.2,648.5 777.5,650.0C773.8,651.5 760.2,651.5 756.5,650.0C752.8,648.5 756.0,643.5 755.2,641.0C754.4,638.5 752.8,636.9 751.6,635.0C750.4,633.1 749.1,631.0 748.2,629.5C747.3,628.0 746.9,626.9 746.4,626.0C745.9,625.1 748.6,625.0 745.4,624.3C742.2,623.6 732.9,622.7 727.4,621.9C721.9,621.2 717.4,621.2 712.4,620.0C707.4,618.7 701.7,616.7 697.3,614.3C692.9,611.9 690.0,608.7 685.9,605.7C681.8,602.7 676.4,599.6 672.5,596.1C668.5,592.6 664.4,588.3 662.2,584.8C660.0,581.4 660.4,578.6 659.2,575.3C658.0,572.1 657.7,568.4 655.1,565.4C652.5,562.5 646.6,560.2 643.6,557.7C640.6,555.2 638.3,553.4 637.1,550.3C635.8,547.2 637.1,542.2 636.1,539.0C635.1,535.9 632.2,534.5 631.2,531.3C630.3,528.1 629.9,523.0 630.3,519.7C630.6,516.4 633.2,514.5 633.1,511.5C633.0,508.5 630.8,505.5 629.7,501.9C628.5,498.3 627.0,493.7 626.2,490.0C625.4,486.4 625.0,484.2 624.8,480.1C624.6,476.1 624.6,470.6 625.0,466.0C625.4,461.3 626.2,456.1 627.4,452.2C628.5,448.4 630.4,446.1 631.9,443.0C633.5,440.0 635.7,437.3 636.5,433.8C637.2,430.4 635.7,425.8 636.5,422.4C637.2,418.9 639.1,416.6 641.0,413.2C642.9,409.7 645.6,405.1 647.9,401.7C650.1,398.2 652.8,395.9 654.7,392.5C656.6,389.0 656.9,384.0 659.2,381.0C661.5,378.0 664.9,376.3 668.3,374.5C671.7,372.6 676.2,372.0 679.6,369.7C683.0,367.4 685.6,363.2 688.7,360.6C691.7,358.0 694.2,355.7 697.8,354.1C701.3,352.5 704.8,352.1 710.0,351.1C715.3,350.2 722.8,349.0 729.3,348.3C735.8,347.7 743.8,347.4 748.9,347.4C754.0,347.4 757.4,347.7 760.0,348.3C762.7,349.0 763.3,351.2 764.8,351.3Z" fill="none" stroke="#767676" stroke-width="15.6"/>
<path d="M764.8,351.3C766.3,351.4 765.6,349.5 768.9,349.1C772.2,348.8 779.3,348.8 784.6,349.1C789.8,349.5 794.4,350.2 800.6,351.1C806.7,352.1 816.6,353.6 821.3,354.9C826.0,356.2 825.1,356.9 828.7,358.9C832.4,361.0 838.4,364.8 843.1,367.3C847.8,369.9 852.5,371.5 856.9,374.3C861.3,377.1 866.9,380.9 869.6,384.2C872.2,387.5 871.0,390.4 872.9,394.1C874.8,397.7 878.6,402.0 881.0,405.9C883.5,409.9 885.4,413.3 887.6,417.8C889.7,422.3 892.0,428.7 893.9,433.1C895.8,437.6 897.4,440.8 898.9,444.5C900.4,448.2 902.9,451.5 902.9,455.4C902.9,459.4 899.2,464.5 899.0,468.3C898.9,472.1 900.8,474.7 901.9,478.2C903.0,481.6 905.4,485.4 905.6,489.1C905.7,492.7 904.2,496.5 902.9,499.9C901.5,503.4 898.1,506.5 897.4,509.8C896.8,513.1 898.3,516.4 898.8,519.7C899.4,523.0 901.6,525.8 900.9,529.6C900.2,533.4 896.6,537.8 894.5,542.5C892.3,547.2 890.5,554.3 888.1,557.8C885.7,561.3 883.4,562.0 880.0,563.6C876.7,565.2 870.4,564.8 868.0,567.4C865.6,570.1 866.9,575.3 865.5,579.5C864.2,583.7 862.4,588.4 859.8,592.5C857.2,596.5 853.8,600.8 850.0,603.6C846.2,606.5 841.5,606.8 837.1,609.4C832.8,611.9 829.9,616.8 823.6,618.9C817.3,621.0 805.3,621.4 799.1,621.8C792.9,622.3 788.8,620.8 786.6,621.5C784.4,622.2 786.4,624.3 786.0,626.0C785.6,627.7 784.8,629.8 784.0,631.5C783.2,633.2 782.1,634.9 781.2,636.5C780.3,638.1 779.2,638.8 778.6,641.0C778.0,643.2 781.2,648.5 777.5,650.0C773.8,651.5 760.2,651.5 756.5,650.0C752.8,648.5 756.0,643.5 755.2,641.0C754.4,638.5 752.8,636.9 751.6,635.0C750.4,633.1 749.1,631.0 748.2,629.5C747.3,628.0 746.9,626.9 746.4,626.0C745.9,625.1 748.6,625.0 745.4,624.3C742.2,623.6 732.9,622.7 727.4,621.9C721.9,621.2 717.4,621.2 712.4,620.0C707.4,618.7 701.7,616.7 697.3,614.3C692.9,611.9 690.0,608.7 685.9,605.7C681.8,602.7 676.4,599.6 672.5,596.1C668.5,592.6 664.4,588.3 662.2,584.8C660.0,581.4 660.4,578.6 659.2,575.3C658.0,572.1 657.7,568.4 655.1,565.4C652.5,562.5 646.6,560.2 643.6,557.7C640.6,555.2 638.3,553.4 637.1,550.3C635.8,547.2 637.1,542.2 636.1,539.0C635.1,535.9 632.2,534.5 631.2,531.3C630.3,528.1 629.9,523.0 630.3,519.7C630.6,516.4 633.2,514.5 633.1,511.5C633.0,508.5 630.8,505.5 629.7,501.9C628.5,498.3 627.0,493.7 626.2,490.0C625.4,486.4 625.0,484.2 624.8,480.1C624.6,476.1 624.6,470.6 625.0,466.0C625.4,461.3 626.2,456.1 627.4,452.2C628.5,448.4 630.4,446.1 631.9,443.0C633.5,440.0 635.7,437.3 636.5,433.8C637.2,430.4 635.7,425.8 636.5,422.4C637.2,418.9 639.1,416.6 641.0,413.2C642.9,409.7 645.6,405.1 647.9,401.7C650.1,398.2 652.8,395.9 654.7,392.5C656.6,389.0 656.9,384.0 659.2,381.0C661.5,378.0 664.9,376.3 668.3,374.5C671.7,372.6 676.2,372.0 679.6,369.7C683.0,367.4 685.6,363.2 688.7,360.6C691.7,358.0 694.2,355.7 697.8,354.1C701.3,352.5 704.8,352.1 710.0,351.1C715.3,350.2 722.8,349.0 729.3,348.3C735.8,347.7 743.8,347.4 748.9,347.4C754.0,347.4 757.4,347.7 760.0,348.3C762.7,349.0 763.3,351.2 764.8,351.3Z" fill="none" stroke="#adadad" stroke-width="12.6"/>
</g>
<path d="M700.0,597.0C701.0,595.8 707.3,596.8 712.0,598.0C716.7,599.2 723.2,602.0 728.0,604.0C732.8,606.0 739.0,608.3 741.0,610.0C743.0,611.7 743.2,613.8 740.0,614.0C736.8,614.2 727.7,612.5 722.0,611.0C716.3,609.5 709.7,607.3 706.0,605.0C702.3,602.7 699.0,598.2 700.0,597.0Z" fill="#d8d8d8" />
<path d="M713.0,586.0C714.3,585.2 719.8,585.8 724.0,587.0C728.2,588.2 734.3,591.2 738.0,593.0C741.7,594.8 745.0,596.5 746.0,598.0C747.0,599.5 746.7,602.0 744.0,602.0C741.3,602.0 734.7,599.7 730.0,598.0C725.3,596.3 718.8,594.0 716.0,592.0C713.2,590.0 711.7,586.8 713.0,586.0Z" fill="#d8d8d8" />
<path d="M690.0,603.0C690.0,602.0 695.0,604.2 700.0,606.0C705.0,607.8 713.7,612.0 720.0,614.0C726.3,616.0 738.0,617.3 738.0,618.0C738.0,618.7 726.3,619.0 720.0,618.0C713.7,617.0 705.0,614.5 700.0,612.0C695.0,609.5 690.0,604.0 690.0,603.0Z" fill="#d2d2d2" />
<path d="M726.0,578.0C726.3,577.0 732.7,578.7 736.0,580.0C739.3,581.3 744.7,584.3 746.0,586.0C747.3,587.7 746.0,590.0 744.0,590.0C742.0,590.0 737.0,588.0 734.0,586.0C731.0,584.0 725.7,579.0 726.0,578.0Z" fill="#cbcbcb" />
<path d="M792.0,597.0C794.0,595.0 801.0,593.5 806.0,592.0C811.0,590.5 817.3,588.7 822.0,588.0C826.7,587.3 833.3,586.8 834.0,588.0C834.7,589.2 830.3,592.8 826.0,595.0C821.7,597.2 813.3,599.5 808.0,601.0C802.7,602.5 796.7,604.7 794.0,604.0C791.3,603.3 790.0,599.0 792.0,597.0Z" fill="#d8d8d8" />
<path d="M794.0,609.0C796.7,607.5 806.0,606.8 812.0,605.0C818.0,603.2 825.0,599.5 830.0,598.0C835.0,596.5 841.7,595.0 842.0,596.0C842.3,597.0 837.0,601.3 832.0,604.0C827.0,606.7 818.0,610.3 812.0,612.0C806.0,613.7 799.0,614.5 796.0,614.0C793.0,613.5 791.3,610.5 794.0,609.0Z" fill="#d8d8d8" />
<path d="M790.0,586.0C791.3,584.7 796.3,584.7 800.0,584.0C803.7,583.3 811.0,581.3 812.0,582.0C813.0,582.7 809.3,586.3 806.0,588.0C802.7,589.7 794.7,592.3 792.0,592.0C789.3,591.7 788.7,587.3 790.0,586.0Z" fill="#cbcbcb" />
<path d="M842.0,604.0C843.5,602.0 849.3,599.3 852.0,598.0C854.7,596.7 858.0,594.7 858.0,596.0C858.0,597.3 854.5,603.7 852.0,606.0C849.5,608.3 844.7,610.3 843.0,610.0C841.3,609.7 840.5,606.0 842.0,604.0Z" fill="#d8d8d8" />
<polyline points="666.7,542.4 678.0,543.5 690.0,545.3 693.5,550.0 696.0,553.0 702.0,555.5 707.7,558.0 710.5,564.0 713.5,569.7 716.4,574.6 709.6,582.4 700.0,585.0 690.0,586.3 684.5,583.5 680.4,580.4 672.6,570.7 677.5,562.0 670.6,555.0" fill="none" stroke="#363636" stroke-width="2.9" stroke-linecap="round" stroke-linejoin="round"/>
<polyline points="672.6,570.7 664.0,566.0" fill="none" stroke="#363636" stroke-width="2.8" stroke-linecap="round" stroke-linejoin="round"/>
<polyline points="801.4,557.0 814.0,556.0 825.8,543.4 840.4,542.4 847.3,545.3 858.0,533.6 871.0,530.0 885.3,525.8 881.4,531.7 881.4,541.4 871.0,549.0 861.9,557.0 859.0,551.2" fill="none" stroke="#363636" stroke-width="2.9" stroke-linecap="round" stroke-linejoin="round"/>
<polyline points="807.3,565.8 817.0,572.6 828.7,571.7 839.0,564.0 848.2,557.0 848.2,552.2" fill="none" stroke="#363636" stroke-width="2.9" stroke-linecap="round" stroke-linejoin="round"/>
<polyline points="817.0,572.6 814.0,580.4" fill="none" stroke="#363636" stroke-width="2.6" stroke-linecap="round" stroke-linejoin="round"/>
<polyline points="840.4,542.4 843.0,539.0" fill="none" stroke="#363636" stroke-width="2.8" stroke-linecap="round" stroke-linejoin="round"/>
<path d="M785.8,541.4C786.0,542.8 786.5,547.1 787.0,550.0C787.5,552.9 787.8,556.3 788.8,559.0C789.8,561.7 791.2,563.7 793.0,566.0C794.8,568.3 797.2,570.6 799.5,572.6C801.8,574.6 804.4,576.5 807.0,578.0C809.6,579.5 811.7,581.0 815.0,581.4C818.3,581.8 823.1,581.0 827.0,580.5C830.9,580.0 835.0,579.4 838.5,578.5C842.0,577.6 844.8,576.3 848.0,575.0C851.2,573.7 854.1,572.6 858.0,570.7C861.9,568.9 869.3,565.0 871.6,563.9" transform="translate(0.3,1.5)" fill="none" stroke-linecap="round" stroke-linejoin="round" stroke="#adadad" stroke-width="8.1" stroke-opacity="0.85"/>
<path d="M738.9,559.0C738.7,560.0 738.1,563.4 737.5,565.0C736.9,566.6 736.8,567.3 735.0,568.7C733.2,570.1 730.1,572.6 727.0,573.6C723.9,574.6 718.2,574.4 716.4,574.6" transform="translate(0.3,1.5)" fill="none" stroke-linecap="round" stroke-linejoin="round" stroke="#adadad" stroke-width="7.6" stroke-opacity="0.85"/>
<path d="M785.8,541.4C786.0,542.8 786.5,547.1 787.0,550.0C787.5,552.9 787.8,556.3 788.8,559.0C789.8,561.7 791.2,563.7 793.0,566.0C794.8,568.3 797.2,570.6 799.5,572.6C801.8,574.6 804.4,576.5 807.0,578.0C809.6,579.5 811.7,581.0 815.0,581.4C818.3,581.8 823.1,581.0 827.0,580.5C830.9,580.0 835.0,579.4 838.5,578.5C842.0,577.6 844.8,576.3 848.0,575.0C851.2,573.7 854.1,572.6 858.0,570.7C861.9,568.9 869.3,565.0 871.6,563.9" transform="translate(0.4,1.7)" fill="none" stroke-linecap="round" stroke-linejoin="round" stroke="#989898" stroke-width="4.9" stroke-opacity="0.8" pathLength="100" stroke-dasharray="88 100" stroke-dashoffset="-6"/>
<path d="M738.9,559.0C738.7,560.0 738.1,563.4 737.5,565.0C736.9,566.6 736.8,567.3 735.0,568.7C733.2,570.1 730.1,572.6 727.0,573.6C723.9,574.6 718.2,574.4 716.4,574.6" transform="translate(0.4,1.7)" fill="none" stroke-linecap="round" stroke-linejoin="round" stroke="#989898" stroke-width="4.6" stroke-opacity="0.8" pathLength="100" stroke-dasharray="88 100" stroke-dashoffset="-6"/>
<path d="M785.8,541.4C786.0,542.8 786.5,547.1 787.0,550.0C787.5,552.9 787.8,556.3 788.8,559.0C789.8,561.7 791.2,563.7 793.0,566.0C794.8,568.3 797.2,570.6 799.5,572.6C801.8,574.6 804.4,576.5 807.0,578.0C809.6,579.5 811.7,581.0 815.0,581.4C818.3,581.8 823.1,581.0 827.0,580.5C830.9,580.0 835.0,579.4 838.5,578.5C842.0,577.6 844.8,576.3 848.0,575.0C851.2,573.7 854.1,572.6 858.0,570.7C861.9,568.9 869.3,565.0 871.6,563.9" transform="translate(0.4,1.9)" fill="none" stroke-linecap="round" stroke-linejoin="round" stroke="#7d7d7d" stroke-width="3.0"/>
<path d="M738.9,559.0C738.7,560.0 738.1,563.4 737.5,565.0C736.9,566.6 736.8,567.3 735.0,568.7C733.2,570.1 730.1,572.6 727.0,573.6C723.9,574.6 718.2,574.4 716.4,574.6" transform="translate(0.4,1.9)" fill="none" stroke-linecap="round" stroke-linejoin="round" stroke="#7d7d7d" stroke-width="2.8"/>
<path d="M785.8,541.4C786.0,542.8 786.5,547.1 787.0,550.0C787.5,552.9 787.8,556.3 788.8,559.0C789.8,561.7 791.2,563.7 793.0,566.0C794.8,568.3 797.2,570.6 799.5,572.6C801.8,574.6 804.4,576.5 807.0,578.0C809.6,579.5 811.7,581.0 815.0,581.4C818.3,581.8 823.1,581.0 827.0,580.5C830.9,580.0 835.0,579.4 838.5,578.5C842.0,577.6 844.8,576.3 848.0,575.0C851.2,573.7 854.1,572.6 858.0,570.7C861.9,568.9 869.3,565.0 871.6,563.9" fill="none" stroke-linecap="round" stroke-linejoin="round" stroke="#363636" stroke-width="3.0"/>
<path d="M738.9,559.0C738.7,560.0 738.1,563.4 737.5,565.0C736.9,566.6 736.8,567.3 735.0,568.7C733.2,570.1 730.1,572.6 727.0,573.6C723.9,574.6 718.2,574.4 716.4,574.6" fill="none" stroke-linecap="round" stroke-linejoin="round" stroke="#363636" stroke-width="2.8"/>
<path d="M763.8,523.5C762.2,524.1 759.8,529.5 757.5,531.5C755.2,533.5 752.6,534.6 750.0,535.5C747.4,536.4 743.7,535.4 742.0,537.0C740.3,538.6 740.7,541.6 740.0,545.3C739.3,549.0 738.5,555.4 738.0,559.0C737.5,562.6 736.5,564.2 737.2,566.8C737.9,569.4 740.2,572.0 742.0,574.6C743.8,577.2 747.6,579.8 748.2,582.4C748.8,585.0 746.0,587.6 745.4,590.0C744.8,592.4 744.5,593.5 744.4,597.0C744.3,600.5 744.3,606.5 744.6,611.0C744.9,615.5 745.4,620.2 746.4,624.0C747.4,627.8 749.3,631.0 750.5,634.0C751.7,637.0 752.6,639.0 753.5,642.0C754.4,645.0 751.9,650.3 756.0,652.0C760.1,653.7 773.9,654.0 778.0,652.0C782.1,650.0 779.5,643.5 780.4,640.0C781.3,636.5 782.5,634.5 783.4,631.0C784.3,627.5 785.2,623.3 785.8,619.0C786.4,614.7 787.0,608.8 787.2,605.0C787.4,601.2 787.3,599.2 786.8,596.0C786.3,592.8 783.9,589.6 784.0,586.0C784.1,582.4 786.8,578.1 787.7,574.6C788.7,571.1 789.9,568.7 789.7,564.8C789.5,560.9 787.4,555.1 786.7,551.2C786.0,547.3 785.7,543.9 785.6,541.4C785.5,538.9 787.9,537.5 786.0,536.0C784.1,534.5 777.2,534.1 774.0,532.7C770.8,531.3 768.7,529.3 767.0,527.8C765.3,526.3 765.4,522.9 763.8,523.5Z" fill="#7a7a7a" />
<ellipse cx="751" cy="561.3" rx="10.6" ry="12.2" fill="#9b9b9b"/>
<ellipse cx="774.3" cy="561.7" rx="9.6" ry="12.4" fill="#9b9b9b"/>
<circle cx="750.6" cy="560.6" r="6.8" fill="#c8c8c8"/>
<circle cx="773.4" cy="560.8" r="6.5" fill="#c8c8c8"/>
<path d="M765.0,585.0C762.1,585.3 759.6,587.5 757.5,589.5C755.4,591.5 753.4,594.2 752.4,597.0C751.4,599.8 751.5,602.3 751.4,606.0C751.3,609.7 751.5,615.0 752.0,619.0C752.5,623.0 753.4,626.8 754.4,630.0C755.4,633.2 757.0,635.2 758.0,638.5C759.0,641.8 757.4,648.1 760.5,650.0C763.6,651.9 773.5,651.9 776.5,650.0C779.5,648.1 777.7,642.2 778.5,638.5C779.3,634.8 780.6,631.6 781.4,628.0C782.1,624.4 782.6,621.2 783.0,617.0C783.4,612.8 783.8,606.8 783.5,603.0C783.2,599.2 782.9,596.6 781.5,594.0C780.1,591.4 777.8,589.0 775.0,587.5C772.2,586.0 767.9,584.7 765.0,585.0Z" fill="#a0a0a0" />
<path d="M767.0,592.0C765.0,592.3 763.0,594.7 761.5,597.0C760.0,599.3 758.5,603.0 757.8,606.0C757.1,609.0 757.1,611.8 757.2,615.0C757.3,618.2 757.7,622.2 758.4,625.0C759.1,627.8 760.4,629.8 761.5,632.0C762.6,634.2 764.1,635.5 765.0,638.5C765.9,641.5 765.4,648.1 767.0,650.0C768.6,651.9 773.0,651.9 774.5,650.0C776.0,648.1 775.1,641.8 775.8,638.5C776.4,635.2 777.7,633.1 778.4,630.0C779.1,626.9 779.6,623.3 779.8,620.0C780.0,616.7 780.0,613.2 779.7,610.0C779.4,606.8 779.0,603.5 778.0,601.0C777.0,598.5 775.3,596.5 773.5,595.0C771.7,593.5 769.0,591.7 767.0,592.0Z" fill="#cbcbcb" />
<path d="M768.6,603.5C767.5,603.5 766.2,605.4 765.4,608.0C764.6,610.6 764.0,615.3 763.8,619.0C763.6,622.7 763.8,626.5 764.2,630.0C764.7,633.5 766.0,636.7 766.5,640.0C767.0,643.3 766.3,648.3 767.5,650.0C768.7,651.7 772.6,651.7 773.5,650.0C774.4,648.3 773.0,643.3 773.0,640.0C773.0,636.7 773.5,633.5 773.6,630.0C773.7,626.5 773.8,622.7 773.5,619.0C773.2,615.3 772.8,610.6 772.0,608.0C771.2,605.4 769.7,603.5 768.6,603.5Z" fill="#e2e2e2" />
</g>
<path d="M764.8,351.3C766.3,351.4 765.6,349.5 768.9,349.1C772.2,348.8 779.3,348.8 784.6,349.1C789.8,349.5 794.4,350.2 800.6,351.1C806.7,352.1 816.6,353.6 821.3,354.9C826.0,356.2 825.1,356.9 828.7,358.9C832.4,361.0 838.4,364.8 843.1,367.3C847.8,369.9 852.5,371.5 856.9,374.3C861.3,377.1 866.9,380.9 869.6,384.2C872.2,387.5 871.0,390.4 872.9,394.1C874.8,397.7 878.6,402.0 881.0,405.9C883.5,409.9 885.4,413.3 887.6,417.8C889.7,422.3 892.0,428.7 893.9,433.1C895.8,437.6 897.4,440.8 898.9,444.5C900.4,448.2 902.9,451.5 902.9,455.4C902.9,459.4 899.2,464.5 899.0,468.3C898.9,472.1 900.8,474.7 901.9,478.2C903.0,481.6 905.4,485.4 905.6,489.1C905.7,492.7 904.2,496.5 902.9,499.9C901.5,503.4 898.1,506.5 897.4,509.8C896.8,513.1 898.3,516.4 898.8,519.7C899.4,523.0 901.6,525.8 900.9,529.6C900.2,533.4 896.6,537.8 894.5,542.5C892.3,547.2 890.5,554.3 888.1,557.8C885.7,561.3 883.4,562.0 880.0,563.6C876.7,565.2 870.4,564.8 868.0,567.4C865.6,570.1 866.9,575.3 865.5,579.5C864.2,583.7 862.4,588.4 859.8,592.5C857.2,596.5 853.8,600.8 850.0,603.6C846.2,606.5 841.5,606.8 837.1,609.4C832.8,611.9 829.9,616.8 823.6,618.9C817.3,621.0 805.3,621.4 799.1,621.8C792.9,622.3 788.8,620.8 786.6,621.5C784.4,622.2 786.4,624.3 786.0,626.0C785.6,627.7 784.8,629.8 784.0,631.5C783.2,633.2 782.1,634.9 781.2,636.5C780.3,638.1 779.2,638.8 778.6,641.0C778.0,643.2 781.2,648.5 777.5,650.0C773.8,651.5 760.2,651.5 756.5,650.0C752.8,648.5 756.0,643.5 755.2,641.0C754.4,638.5 752.8,636.9 751.6,635.0C750.4,633.1 749.1,631.0 748.2,629.5C747.3,628.0 746.9,626.9 746.4,626.0C745.9,625.1 748.6,625.0 745.4,624.3C742.2,623.6 732.9,622.7 727.4,621.9C721.9,621.2 717.4,621.2 712.4,620.0C707.4,618.7 701.7,616.7 697.3,614.3C692.9,611.9 690.0,608.7 685.9,605.7C681.8,602.7 676.4,599.6 672.5,596.1C668.5,592.6 664.4,588.3 662.2,584.8C660.0,581.4 660.4,578.6 659.2,575.3C658.0,572.1 657.7,568.4 655.1,565.4C652.5,562.5 646.6,560.2 643.6,557.7C640.6,555.2 638.3,553.4 637.1,550.3C635.8,547.2 637.1,542.2 636.1,539.0C635.1,535.9 632.2,534.5 631.2,531.3C630.3,528.1 629.9,523.0 630.3,519.7C630.6,516.4 633.2,514.5 633.1,511.5C633.0,508.5 630.8,505.5 629.7,501.9C628.5,498.3 627.0,493.7 626.2,490.0C625.4,486.4 625.0,484.2 624.8,480.1C624.6,476.1 624.6,470.6 625.0,466.0C625.4,461.3 626.2,456.1 627.4,452.2C628.5,448.4 630.4,446.1 631.9,443.0C633.5,440.0 635.7,437.3 636.5,433.8C637.2,430.4 635.7,425.8 636.5,422.4C637.2,418.9 639.1,416.6 641.0,413.2C642.9,409.7 645.6,405.1 647.9,401.7C650.1,398.2 652.8,395.9 654.7,392.5C656.6,389.0 656.9,384.0 659.2,381.0C661.5,378.0 664.9,376.3 668.3,374.5C671.7,372.6 676.2,372.0 679.6,369.7C683.0,367.4 685.6,363.2 688.7,360.6C691.7,358.0 694.2,355.7 697.8,354.1C701.3,352.5 704.8,352.1 710.0,351.1C715.3,350.2 722.8,349.0 729.3,348.3C735.8,347.7 743.8,347.4 748.9,347.4C754.0,347.4 757.4,347.7 760.0,348.3C762.7,349.0 763.3,351.2 764.8,351.3Z" fill="none" stroke="#585858" stroke-width="4" stroke-linejoin="round"/>
</g>
<path d="M767.3,637.9 L774.2,637.9 L773.8,642 Q771,645.5 768.6,642.6 Z" fill="#f0f0f0" stroke="#5a5a5a" stroke-width="0.9" stroke-linejoin="round"/>
</g>
<clipPath id="bclip2"><path d="M764.8,350.1C766.3,350.2 765.7,348.3 769.0,347.9C772.3,347.5 779.4,347.6 784.7,347.9C790.1,348.2 794.7,348.9 800.9,349.9C807.1,350.9 817.1,352.4 821.8,353.7C826.6,355.0 825.6,355.7 829.3,357.8C833.0,359.9 839.0,363.7 843.8,366.3C848.5,368.8 853.3,370.4 857.7,373.2C862.2,376.1 867.8,379.9 870.5,383.2C873.2,386.5 871.9,389.5 873.9,393.2C875.8,396.9 879.6,401.2 882.0,405.2C884.5,409.2 886.5,412.6 888.6,417.2C890.8,421.7 893.1,428.1 895.0,432.6C896.9,437.1 898.6,440.4 900.1,444.1C901.6,447.8 904.1,451.1 904.1,455.1C904.1,459.1 900.4,464.2 900.2,468.1C900.0,471.9 902.0,474.5 903.1,478.0C904.2,481.5 906.6,485.4 906.8,489.0C906.9,492.7 905.4,496.5 904.1,500.0C902.7,503.5 899.3,506.6 898.6,510.0C897.9,513.3 899.4,516.6 900.0,519.9C900.6,523.3 902.8,526.1 902.1,529.9C901.4,533.8 897.8,538.2 895.6,542.9C893.4,547.6 891.6,554.8 889.1,558.4C886.7,561.9 884.4,562.5 881.0,564.2C877.7,565.8 871.3,565.4 868.9,568.1C866.4,570.7 867.8,576.0 866.4,580.2C865.0,584.4 863.2,589.2 860.6,593.3C858.0,597.4 854.5,601.7 850.7,604.6C846.9,607.4 842.2,607.8 837.8,610.4C833.3,612.9 830.5,617.9 824.1,619.9C817.7,622.0 805.6,622.7 799.4,622.9C793.1,623.2 788.8,621.0 786.6,621.5C784.4,622.0 786.4,624.3 786.0,626.0C785.6,627.7 784.8,629.8 784.0,631.5C783.2,633.2 782.1,634.9 781.2,636.5C780.3,638.1 779.2,638.8 778.6,641.0C778.0,643.2 781.2,648.5 777.5,650.0C773.8,651.5 760.2,651.5 756.5,650.0C752.8,648.5 756.0,643.5 755.2,641.0C754.4,638.5 752.8,636.9 751.6,635.0C750.4,633.1 749.1,631.0 748.2,629.5C747.3,628.0 746.9,626.9 746.4,626.0C745.9,625.1 748.6,624.8 745.4,624.3C742.2,623.8 732.7,623.6 727.1,623.0C721.5,622.5 717.0,622.3 712.0,621.0C706.9,619.8 701.2,617.8 696.7,615.4C692.2,613.0 689.4,609.7 685.2,606.7C681.1,603.6 675.7,600.5 671.7,597.0C667.7,593.5 663.5,589.1 661.3,585.6C659.1,582.1 659.5,579.3 658.3,576.0C657.1,572.8 656.8,569.0 654.1,566.1C651.5,563.1 645.6,560.8 642.6,558.3C639.5,555.7 637.2,553.9 636.0,550.8C634.7,547.6 636.0,542.6 635.0,539.4C634.0,536.2 631.1,534.9 630.1,531.6C629.1,528.4 628.8,523.3 629.1,519.9C629.4,516.6 632.1,514.7 632.0,511.7C631.9,508.7 629.7,505.6 628.5,502.0C627.3,498.4 625.8,493.7 625.0,490.0C624.2,486.3 623.8,484.1 623.6,480.0C623.4,476.0 623.4,470.4 623.8,465.8C624.3,461.1 625.0,455.7 626.2,451.9C627.4,448.0 629.3,445.7 630.8,442.6C632.3,439.5 634.6,436.8 635.4,433.3C636.2,429.8 634.6,425.2 635.4,421.7C636.2,418.3 638.1,415.9 640.0,412.5C641.9,409.0 644.6,404.4 646.9,400.9C649.1,397.4 651.8,395.1 653.7,391.6C655.6,388.1 656.0,383.1 658.3,380.0C660.6,377.0 664.1,375.3 667.5,373.4C670.9,371.5 675.4,371.0 678.9,368.6C682.3,366.3 685.0,362.1 688.0,359.5C691.1,356.8 693.6,354.5 697.2,352.9C700.8,351.3 704.3,350.9 709.6,349.9C714.9,348.9 722.5,347.7 729.0,347.1C735.5,346.5 743.6,346.1 748.7,346.1C753.9,346.1 757.3,346.4 760.0,347.1C762.7,347.8 763.3,350.0 764.8,350.1Z" stroke="#000" stroke-width="3"/></clipPath>
</defs>
<!-- gray halos (only visible against the black background) -->
<clipPath id="wcH"><rect x="0" y="0" width="520" height="439.2"/></clipPath><g clip-path="url(#wcH)">
<path d="M13.3,445.7C14.0,444.4 15.4,441.9 17.4,438.1C19.4,434.3 22.4,428.2 25.5,423.0C28.6,417.8 34.5,411.8 36.0,406.8C37.5,401.8 35.8,397.5 34.8,392.9C33.8,388.3 31.2,382.9 30.2,379.0C29.2,375.1 28.2,372.7 29.0,369.6C29.8,366.5 31.3,363.5 34.8,360.4C38.3,357.3 45.7,354.1 50.0,351.0C54.3,347.9 58.3,345.3 60.4,341.8C62.5,338.3 62.5,334.2 62.7,330.2C62.9,326.2 61.5,321.6 61.6,318.0C61.7,314.4 61.6,311.2 63.5,308.5C65.4,305.8 67.8,303.9 72.8,302.0C77.8,300.1 88.5,299.4 93.6,297.3C98.6,295.2 100.6,293.8 103.1,289.7C105.6,285.6 106.6,277.2 108.8,272.6C111.0,268.0 112.3,264.2 116.4,262.2C120.5,260.1 127.8,260.5 133.5,260.3C139.2,260.1 145.8,262.3 150.5,261.2C155.2,260.1 158.4,256.9 161.9,253.6C165.4,250.3 167.9,244.8 171.4,241.3C174.9,237.8 178.7,233.9 182.8,232.8C186.9,231.7 190.4,233.1 196.1,234.7C201.8,236.3 211.3,242.2 217.0,242.3C222.7,242.5 226.2,238.1 230.2,235.6C234.2,233.1 237.5,229.3 241.0,227.4C244.5,225.5 247.8,223.7 251.4,224.0C255.0,224.3 258.7,226.6 262.8,229.0C266.9,231.4 272.2,236.3 276.0,238.5C279.8,240.7 281.7,242.3 285.5,242.3C289.3,242.3 294.1,240.1 298.8,238.5C303.6,236.9 309.9,233.4 314.0,232.8C318.1,232.2 320.3,233.0 323.5,234.7C326.7,236.4 329.9,239.7 333.0,243.2C336.1,246.7 338.9,252.5 342.4,255.5C345.9,258.5 349.4,260.4 353.8,261.2C358.2,262.0 364.2,260.4 369.0,260.3C373.8,260.2 378.7,259.4 382.3,260.8C385.9,262.2 388.3,264.6 390.8,268.8C393.3,273.0 395.1,281.5 397.5,285.9C399.9,290.3 401.5,293.0 405.0,295.4C408.5,297.8 413.9,298.7 418.3,300.1C422.7,301.5 428.1,301.9 431.5,303.6C434.9,305.3 436.8,307.5 438.4,310.5C440.0,313.5 440.4,317.4 440.9,321.5C441.4,325.6 440.7,330.8 441.3,334.8C441.9,338.8 442.4,342.2 444.7,345.3C447.0,348.4 451.3,350.5 455.2,353.4C459.1,356.3 465.0,359.6 468.0,362.7C471.0,365.8 472.7,368.5 473.3,372.0C473.9,375.5 472.4,379.4 471.4,383.6C470.4,387.9 467.7,393.2 467.3,397.5C466.9,401.8 467.4,404.9 469.1,409.1C470.8,413.4 474.7,418.2 477.3,423.0C479.9,427.8 482.9,434.3 484.7,438.1C486.5,441.9 487.8,444.4 488.4,445.7" fill="none" stroke="#434343" stroke-width="6.8" stroke-linecap="butt"/>
<path d="M31.4,445.1C32.1,443.8 33.7,441.1 36.0,437.0C38.3,432.9 42.4,425.7 45.3,420.7C48.2,415.7 52.2,411.1 53.4,406.8C54.5,402.6 53.2,399.4 52.2,395.2C51.2,390.9 48.4,385.2 47.6,381.3C46.8,377.4 46.4,374.9 47.6,372.0C48.8,369.1 50.9,366.7 54.6,363.8C58.3,360.9 65.7,357.9 69.6,354.6C73.5,351.3 76.2,348.1 77.8,344.0C79.4,339.9 78.0,333.9 79.0,330.0C80.0,326.1 80.2,323.2 83.6,320.6C87.0,318.0 94.1,316.6 99.3,314.3C104.5,312.0 110.9,310.6 114.5,306.8C118.1,303.0 118.9,296.0 121.1,291.6C123.3,287.2 124.5,282.7 127.8,280.2C131.1,277.7 135.7,276.9 141.1,276.4C146.5,275.9 154.9,278.3 160.0,277.4C165.1,276.4 167.9,273.9 171.4,270.7C174.9,267.5 177.6,261.5 180.9,258.4C184.2,255.3 187.2,252.7 191.3,252.1C195.4,251.5 200.7,253.1 205.6,254.6C210.5,256.1 216.0,261.1 220.7,261.2C225.4,261.3 230.5,257.7 234.0,255.5C237.5,253.3 238.8,249.9 241.5,248.0C244.2,246.1 247.2,244.1 250.4,244.1C253.6,244.1 256.6,245.8 260.9,248.0C265.2,250.2 271.9,255.3 276.0,257.4C280.1,259.4 281.7,260.4 285.5,260.3C289.3,260.2 294.4,257.8 298.8,256.5C303.2,255.2 308.3,252.7 312.1,252.7C315.9,252.7 318.4,254.1 321.6,256.5C324.8,258.9 327.9,263.7 331.1,266.9C334.3,270.1 336.8,273.7 340.6,275.5C344.4,277.3 349.1,277.7 353.8,277.9C358.5,278.1 365.2,276.4 369.0,276.8C372.8,277.2 374.4,278.1 376.6,280.2C378.8,282.3 380.6,286.2 382.3,289.7C384.0,293.2 384.8,297.8 387.0,301.1C389.2,304.4 392.3,307.6 395.6,309.6C398.9,311.6 403.3,312.3 407.0,313.3C410.7,314.3 415.1,314.1 418.0,315.6C420.9,317.1 423.2,319.3 424.6,322.5C426.0,325.7 425.6,330.8 426.2,334.8C426.8,338.8 426.8,342.9 428.5,346.4C430.2,349.9 433.1,352.6 436.6,355.7C440.1,358.8 445.9,361.9 449.4,365.0C452.9,368.1 456.5,370.8 457.5,374.3C458.5,377.8 456.2,382.0 455.2,385.9C454.2,389.8 451.9,393.6 451.7,397.5C451.5,401.4 452.2,404.9 454.0,409.1C455.8,413.4 459.8,418.4 462.2,423.0C464.6,427.6 467.1,433.5 468.7,437.0C470.3,440.5 471.4,442.8 471.9,444.0" fill="none" stroke="#434343" stroke-width="6.8" stroke-linecap="butt"/>
<path d="M53.4,443.4C54.1,442.1 55.7,439.6 58.0,435.8C60.3,432.0 64.8,425.5 67.3,420.7C69.8,415.9 72.7,411.4 73.1,406.8C73.5,402.2 70.5,397.4 69.6,392.9C68.7,388.4 67.0,383.7 67.8,380.0C68.6,376.3 70.9,373.7 74.3,370.8C77.7,367.9 84.7,365.6 88.2,362.7C91.7,359.8 93.8,357.7 95.2,353.4C96.6,349.1 95.2,341.2 96.4,337.0C97.6,332.8 99.5,330.2 102.2,327.9C104.9,325.5 108.3,324.7 112.6,322.9C116.9,321.1 124.0,320.5 127.8,317.2C131.6,313.9 132.9,307.1 135.4,303.0C137.9,298.9 139.5,294.4 143.0,292.5C146.5,290.6 151.1,291.6 156.2,291.6C161.2,291.6 168.6,294.1 173.3,292.5C178.1,290.9 181.2,285.7 184.7,282.1C188.2,278.5 191.0,272.8 194.2,270.7C197.4,268.6 199.9,269.0 203.7,269.8C207.5,270.6 213.2,274.1 217.0,275.5C220.8,276.9 223.0,278.6 226.5,278.3C230.0,278.0 235.2,275.4 237.8,273.6C240.4,271.9 240.1,269.6 242.0,267.8C243.9,266.1 246.3,263.2 249.5,263.1C252.7,263.0 256.8,264.7 260.9,266.9C265.0,269.1 270.0,274.5 274.1,276.4C278.2,278.3 281.7,278.6 285.5,278.3C289.3,278.0 293.1,275.8 296.9,274.5C300.7,273.2 304.8,270.5 308.3,270.7C311.8,270.9 315.0,273.1 317.8,275.5C320.6,277.9 322.5,282.2 325.4,284.9C328.2,287.6 331.1,290.4 334.9,291.6C338.7,292.8 344.0,292.0 348.1,292.0C352.2,292.0 356.3,290.7 359.5,291.6C362.7,292.5 365.1,294.9 367.1,297.3C369.1,299.7 370.0,303.1 371.5,306.0C373.0,308.9 373.9,312.0 376.0,314.5C378.1,317.0 380.3,319.2 384.0,320.9C387.7,322.5 394.4,322.8 398.3,324.4C402.2,325.9 405.6,327.3 407.6,330.2C409.7,333.1 409.8,337.7 410.6,341.8C411.4,345.9 411.0,351.1 412.2,354.6C413.4,358.1 414.7,360.0 418.0,362.7C421.3,365.4 428.3,368.1 432.0,370.8C435.7,373.5 439.0,376.0 440.1,378.9C441.2,381.8 439.9,384.7 438.9,388.2C437.9,391.7 434.9,395.9 434.3,399.8C433.7,403.7 434.1,407.5 435.5,411.4C436.9,415.3 440.0,419.1 442.4,423.0C444.8,426.9 448.0,431.8 449.9,434.7C451.8,437.6 453.0,439.6 453.6,440.5" fill="none" stroke="#434343" stroke-width="6.8" stroke-linecap="butt"/>
</g>
<circle cx="212.9" cy="338.5" r="14.20" fill="none" stroke="#434343" stroke-width="5.0"/>
<circle cx="212.9" cy="338.5" r="19.55" fill="none" stroke="#434343" stroke-width="5.0"/>
<circle cx="212.9" cy="338.5" r="24.90" fill="none" stroke="#434343" stroke-width="5.0"/>
<circle cx="212.9" cy="338.5" r="30.25" fill="none" stroke="#434343" stroke-width="5.0"/>
<circle cx="212.9" cy="338.5" r="35.60" fill="none" stroke="#434343" stroke-width="5.0"/>
<circle cx="267.1" cy="340.4" r="14.20" fill="none" stroke="#434343" stroke-width="5.0"/>
<circle cx="267.1" cy="340.4" r="19.55" fill="none" stroke="#434343" stroke-width="5.0"/>
<circle cx="267.1" cy="340.4" r="24.90" fill="none" stroke="#434343" stroke-width="5.0"/>
<circle cx="267.1" cy="340.4" r="30.25" fill="none" stroke="#434343" stroke-width="5.0"/>
<circle cx="267.1" cy="340.4" r="35.60" fill="none" stroke="#434343" stroke-width="5.0"/>
<circle cx="166.4" cy="362.1" r="14.20" fill="none" stroke="#434343" stroke-width="5.0"/>
<circle cx="166.4" cy="362.1" r="19.55" fill="none" stroke="#434343" stroke-width="5.0"/>
<circle cx="166.4" cy="362.1" r="24.90" fill="none" stroke="#434343" stroke-width="5.0"/>
<circle cx="166.4" cy="362.1" r="30.25" fill="none" stroke="#434343" stroke-width="5.0"/>
<circle cx="166.4" cy="362.1" r="35.60" fill="none" stroke="#434343" stroke-width="5.0"/>
<circle cx="320.7" cy="358.2" r="14.20" fill="none" stroke="#434343" stroke-width="5.0"/>
<circle cx="320.7" cy="358.2" r="19.55" fill="none" stroke="#434343" stroke-width="5.0"/>
<circle cx="320.7" cy="358.2" r="24.90" fill="none" stroke="#434343" stroke-width="5.0"/>
<circle cx="320.7" cy="358.2" r="30.25" fill="none" stroke="#434343" stroke-width="5.0"/>
<circle cx="320.7" cy="358.2" r="35.60" fill="none" stroke="#434343" stroke-width="5.0"/>
<circle cx="133.2" cy="402.1" r="14.20" fill="none" stroke="#434343" stroke-width="5.0"/>
<circle cx="133.2" cy="402.1" r="19.55" fill="none" stroke="#434343" stroke-width="5.0"/>
<circle cx="133.2" cy="402.1" r="24.90" fill="none" stroke="#434343" stroke-width="5.0"/>
<circle cx="133.2" cy="402.1" r="30.25" fill="none" stroke="#434343" stroke-width="5.0"/>
<circle cx="133.2" cy="402.1" r="35.60" fill="none" stroke="#434343" stroke-width="5.0"/>
<circle cx="219.2" cy="400.4" r="14.20" fill="none" stroke="#434343" stroke-width="5.0"/>
<circle cx="219.2" cy="400.4" r="19.55" fill="none" stroke="#434343" stroke-width="5.0"/>
<circle cx="219.2" cy="400.4" r="24.90" fill="none" stroke="#434343" stroke-width="5.0"/>
<circle cx="219.2" cy="400.4" r="30.25" fill="none" stroke="#434343" stroke-width="5.0"/>
<circle cx="219.2" cy="400.4" r="35.60" fill="none" stroke="#434343" stroke-width="5.0"/>
<circle cx="290.6" cy="402.3" r="14.20" fill="none" stroke="#434343" stroke-width="5.0"/>
<circle cx="290.6" cy="402.3" r="19.55" fill="none" stroke="#434343" stroke-width="5.0"/>
<circle cx="290.6" cy="402.3" r="24.90" fill="none" stroke="#434343" stroke-width="5.0"/>
<circle cx="290.6" cy="402.3" r="30.25" fill="none" stroke="#434343" stroke-width="5.0"/>
<circle cx="290.6" cy="402.3" r="35.60" fill="none" stroke="#434343" stroke-width="5.0"/>
<circle cx="361.4" cy="394.6" r="14.20" fill="none" stroke="#434343" stroke-width="5.0"/>
<circle cx="361.4" cy="394.6" r="19.55" fill="none" stroke="#434343" stroke-width="5.0"/>
<circle cx="361.4" cy="394.6" r="24.90" fill="none" stroke="#434343" stroke-width="5.0"/>
<circle cx="361.4" cy="394.6" r="30.25" fill="none" stroke="#434343" stroke-width="5.0"/>
<circle cx="361.4" cy="394.6" r="35.60" fill="none" stroke="#434343" stroke-width="5.0"/>
<circle cx="176.3" cy="452.8" r="14.20" fill="none" stroke="#434343" stroke-width="5.0"/>
<circle cx="176.3" cy="452.8" r="19.55" fill="none" stroke="#434343" stroke-width="5.0"/>
<circle cx="176.3" cy="452.8" r="24.90" fill="none" stroke="#434343" stroke-width="5.0"/>
<circle cx="176.3" cy="452.8" r="30.25" fill="none" stroke="#434343" stroke-width="5.0"/>
<circle cx="176.3" cy="452.8" r="35.60" fill="none" stroke="#434343" stroke-width="5.0"/>
<circle cx="248.2" cy="459.8" r="14.20" fill="none" stroke="#434343" stroke-width="5.0"/>
<circle cx="248.2" cy="459.8" r="19.55" fill="none" stroke="#434343" stroke-width="5.0"/>
<circle cx="248.2" cy="459.8" r="24.90" fill="none" stroke="#434343" stroke-width="5.0"/>
<circle cx="248.2" cy="459.8" r="30.25" fill="none" stroke="#434343" stroke-width="5.0"/>
<circle cx="248.2" cy="459.8" r="35.60" fill="none" stroke="#434343" stroke-width="5.0"/>
<circle cx="324.6" cy="457.6" r="14.20" fill="none" stroke="#434343" stroke-width="5.0"/>
<circle cx="324.6" cy="457.6" r="19.55" fill="none" stroke="#434343" stroke-width="5.0"/>
<circle cx="324.6" cy="457.6" r="24.90" fill="none" stroke="#434343" stroke-width="5.0"/>
<circle cx="324.6" cy="457.6" r="30.25" fill="none" stroke="#434343" stroke-width="5.0"/>
<circle cx="324.6" cy="457.6" r="35.60" fill="none" stroke="#434343" stroke-width="5.0"/>
<polygon points="563.2,259.2 666.0,442.9 669.5,436.4 672.0,461.5 652.0,446.2 659.3,446.6 556.8,262.8" fill="#434343"/>
<polygon points="669.7,173.5 680.9,378.7 686.8,374.4 678.0,398.0 666.8,375.4 673.1,379.1 662.3,173.9" fill="#434343"/>
<polygon points="785.0,36.3 736.5,338.2 743.3,335.2 729.7,356.5 723.5,332.1 729.0,337.0 777.6,35.1" fill="#434343"/>
<polygon points="826.4,167.6 792.8,372.4 799.6,369.5 786.0,390.7 779.9,366.2 785.3,371.2 819.0,166.4" fill="#434343"/>
<polygon points="936.2,189.8 839.9,363.5 847.3,363.0 827.3,378.4 829.8,353.3 833.3,359.8 929.8,186.2" fill="#434343"/>
<polygon points="951.0,443.0 853.6,460.9 858.9,467.4 834.3,462.0 855.1,447.7 852.6,455.8 949.6,435.6" fill="#434343"/>
<!-- left brain -->
<clipPath id="lbclip"><rect x="0" y="0" width="540" height="637.4"/></clipPath>
<g clip-path="url(#lbclip)"><use href="#brain" transform="translate(-516.5,-1.0)"/></g>
<!-- right brain -->
<use href="#brain"/>
<!-- waves -->
<clipPath id="wcB"><rect x="0" y="0" width="520" height="437.7"/></clipPath><g clip-path="url(#wcB)">
<path d="M13.3,445.7C14.0,444.4 15.4,441.9 17.4,438.1C19.4,434.3 22.4,428.2 25.5,423.0C28.6,417.8 34.5,411.8 36.0,406.8C37.5,401.8 35.8,397.5 34.8,392.9C33.8,388.3 31.2,382.9 30.2,379.0C29.2,375.1 28.2,372.7 29.0,369.6C29.8,366.5 31.3,363.5 34.8,360.4C38.3,357.3 45.7,354.1 50.0,351.0C54.3,347.9 58.3,345.3 60.4,341.8C62.5,338.3 62.5,334.2 62.7,330.2C62.9,326.2 61.5,321.6 61.6,318.0C61.7,314.4 61.6,311.2 63.5,308.5C65.4,305.8 67.8,303.9 72.8,302.0C77.8,300.1 88.5,299.4 93.6,297.3C98.6,295.2 100.6,293.8 103.1,289.7C105.6,285.6 106.6,277.2 108.8,272.6C111.0,268.0 112.3,264.2 116.4,262.2C120.5,260.1 127.8,260.5 133.5,260.3C139.2,260.1 145.8,262.3 150.5,261.2C155.2,260.1 158.4,256.9 161.9,253.6C165.4,250.3 167.9,244.8 171.4,241.3C174.9,237.8 178.7,233.9 182.8,232.8C186.9,231.7 190.4,233.1 196.1,234.7C201.8,236.3 211.3,242.2 217.0,242.3C222.7,242.5 226.2,238.1 230.2,235.6C234.2,233.1 237.5,229.3 241.0,227.4C244.5,225.5 247.8,223.7 251.4,224.0C255.0,224.3 258.7,226.6 262.8,229.0C266.9,231.4 272.2,236.3 276.0,238.5C279.8,240.7 281.7,242.3 285.5,242.3C289.3,242.3 294.1,240.1 298.8,238.5C303.6,236.9 309.9,233.4 314.0,232.8C318.1,232.2 320.3,233.0 323.5,234.7C326.7,236.4 329.9,239.7 333.0,243.2C336.1,246.7 338.9,252.5 342.4,255.5C345.9,258.5 349.4,260.4 353.8,261.2C358.2,262.0 364.2,260.4 369.0,260.3C373.8,260.2 378.7,259.4 382.3,260.8C385.9,262.2 388.3,264.6 390.8,268.8C393.3,273.0 395.1,281.5 397.5,285.9C399.9,290.3 401.5,293.0 405.0,295.4C408.5,297.8 413.9,298.7 418.3,300.1C422.7,301.5 428.1,301.9 431.5,303.6C434.9,305.3 436.8,307.5 438.4,310.5C440.0,313.5 440.4,317.4 440.9,321.5C441.4,325.6 440.7,330.8 441.3,334.8C441.9,338.8 442.4,342.2 444.7,345.3C447.0,348.4 451.3,350.5 455.2,353.4C459.1,356.3 465.0,359.6 468.0,362.7C471.0,365.8 472.7,368.5 473.3,372.0C473.9,375.5 472.4,379.4 471.4,383.6C470.4,387.9 467.7,393.2 467.3,397.5C466.9,401.8 467.4,404.9 469.1,409.1C470.8,413.4 474.7,418.2 477.3,423.0C479.9,427.8 482.9,434.3 484.7,438.1C486.5,441.9 487.8,444.4 488.4,445.7" fill="none" stroke="#000" stroke-width="3.3" stroke-linecap="butt"/>
<path d="M31.4,445.1C32.1,443.8 33.7,441.1 36.0,437.0C38.3,432.9 42.4,425.7 45.3,420.7C48.2,415.7 52.2,411.1 53.4,406.8C54.5,402.6 53.2,399.4 52.2,395.2C51.2,390.9 48.4,385.2 47.6,381.3C46.8,377.4 46.4,374.9 47.6,372.0C48.8,369.1 50.9,366.7 54.6,363.8C58.3,360.9 65.7,357.9 69.6,354.6C73.5,351.3 76.2,348.1 77.8,344.0C79.4,339.9 78.0,333.9 79.0,330.0C80.0,326.1 80.2,323.2 83.6,320.6C87.0,318.0 94.1,316.6 99.3,314.3C104.5,312.0 110.9,310.6 114.5,306.8C118.1,303.0 118.9,296.0 121.1,291.6C123.3,287.2 124.5,282.7 127.8,280.2C131.1,277.7 135.7,276.9 141.1,276.4C146.5,275.9 154.9,278.3 160.0,277.4C165.1,276.4 167.9,273.9 171.4,270.7C174.9,267.5 177.6,261.5 180.9,258.4C184.2,255.3 187.2,252.7 191.3,252.1C195.4,251.5 200.7,253.1 205.6,254.6C210.5,256.1 216.0,261.1 220.7,261.2C225.4,261.3 230.5,257.7 234.0,255.5C237.5,253.3 238.8,249.9 241.5,248.0C244.2,246.1 247.2,244.1 250.4,244.1C253.6,244.1 256.6,245.8 260.9,248.0C265.2,250.2 271.9,255.3 276.0,257.4C280.1,259.4 281.7,260.4 285.5,260.3C289.3,260.2 294.4,257.8 298.8,256.5C303.2,255.2 308.3,252.7 312.1,252.7C315.9,252.7 318.4,254.1 321.6,256.5C324.8,258.9 327.9,263.7 331.1,266.9C334.3,270.1 336.8,273.7 340.6,275.5C344.4,277.3 349.1,277.7 353.8,277.9C358.5,278.1 365.2,276.4 369.0,276.8C372.8,277.2 374.4,278.1 376.6,280.2C378.8,282.3 380.6,286.2 382.3,289.7C384.0,293.2 384.8,297.8 387.0,301.1C389.2,304.4 392.3,307.6 395.6,309.6C398.9,311.6 403.3,312.3 407.0,313.3C410.7,314.3 415.1,314.1 418.0,315.6C420.9,317.1 423.2,319.3 424.6,322.5C426.0,325.7 425.6,330.8 426.2,334.8C426.8,338.8 426.8,342.9 428.5,346.4C430.2,349.9 433.1,352.6 436.6,355.7C440.1,358.8 445.9,361.9 449.4,365.0C452.9,368.1 456.5,370.8 457.5,374.3C458.5,377.8 456.2,382.0 455.2,385.9C454.2,389.8 451.9,393.6 451.7,397.5C451.5,401.4 452.2,404.9 454.0,409.1C455.8,413.4 459.8,418.4 462.2,423.0C464.6,427.6 467.1,433.5 468.7,437.0C470.3,440.5 471.4,442.8 471.9,444.0" fill="none" stroke="#000" stroke-width="3.3" stroke-linecap="butt"/>
<path d="M53.4,443.4C54.1,442.1 55.7,439.6 58.0,435.8C60.3,432.0 64.8,425.5 67.3,420.7C69.8,415.9 72.7,411.4 73.1,406.8C73.5,402.2 70.5,397.4 69.6,392.9C68.7,388.4 67.0,383.7 67.8,380.0C68.6,376.3 70.9,373.7 74.3,370.8C77.7,367.9 84.7,365.6 88.2,362.7C91.7,359.8 93.8,357.7 95.2,353.4C96.6,349.1 95.2,341.2 96.4,337.0C97.6,332.8 99.5,330.2 102.2,327.9C104.9,325.5 108.3,324.7 112.6,322.9C116.9,321.1 124.0,320.5 127.8,317.2C131.6,313.9 132.9,307.1 135.4,303.0C137.9,298.9 139.5,294.4 143.0,292.5C146.5,290.6 151.1,291.6 156.2,291.6C161.2,291.6 168.6,294.1 173.3,292.5C178.1,290.9 181.2,285.7 184.7,282.1C188.2,278.5 191.0,272.8 194.2,270.7C197.4,268.6 199.9,269.0 203.7,269.8C207.5,270.6 213.2,274.1 217.0,275.5C220.8,276.9 223.0,278.6 226.5,278.3C230.0,278.0 235.2,275.4 237.8,273.6C240.4,271.9 240.1,269.6 242.0,267.8C243.9,266.1 246.3,263.2 249.5,263.1C252.7,263.0 256.8,264.7 260.9,266.9C265.0,269.1 270.0,274.5 274.1,276.4C278.2,278.3 281.7,278.6 285.5,278.3C289.3,278.0 293.1,275.8 296.9,274.5C300.7,273.2 304.8,270.5 308.3,270.7C311.8,270.9 315.0,273.1 317.8,275.5C320.6,277.9 322.5,282.2 325.4,284.9C328.2,287.6 331.1,290.4 334.9,291.6C338.7,292.8 344.0,292.0 348.1,292.0C352.2,292.0 356.3,290.7 359.5,291.6C362.7,292.5 365.1,294.9 367.1,297.3C369.1,299.7 370.0,303.1 371.5,306.0C373.0,308.9 373.9,312.0 376.0,314.5C378.1,317.0 380.3,319.2 384.0,320.9C387.7,322.5 394.4,322.8 398.3,324.4C402.2,325.9 405.6,327.3 407.6,330.2C409.7,333.1 409.8,337.7 410.6,341.8C411.4,345.9 411.0,351.1 412.2,354.6C413.4,358.1 414.7,360.0 418.0,362.7C421.3,365.4 428.3,368.1 432.0,370.8C435.7,373.5 439.0,376.0 440.1,378.9C441.2,381.8 439.9,384.7 438.9,388.2C437.9,391.7 434.9,395.9 434.3,399.8C433.7,403.7 434.1,407.5 435.5,411.4C436.9,415.3 440.0,419.1 442.4,423.0C444.8,426.9 448.0,431.8 449.9,434.7C451.8,437.6 453.0,439.6 453.6,440.5" fill="none" stroke="#000" stroke-width="3.3" stroke-linecap="butt"/>
</g>
<!-- concentric circles -->
<circle cx="212.9" cy="338.5" r="14.20" fill="none" stroke="#000" stroke-width="2.5"/>
<circle cx="212.9" cy="338.5" r="19.55" fill="none" stroke="#000" stroke-width="2.5"/>
<circle cx="212.9" cy="338.5" r="24.90" fill="none" stroke="#000" stroke-width="2.5"/>
<circle cx="212.9" cy="338.5" r="30.25" fill="none" stroke="#000" stroke-width="2.5"/>
<circle cx="212.9" cy="338.5" r="35.60" fill="none" stroke="#000" stroke-width="2.5"/>
<circle cx="267.1" cy="340.4" r="14.20" fill="none" stroke="#000" stroke-width="2.5"/>
<circle cx="267.1" cy="340.4" r="19.55" fill="none" stroke="#000" stroke-width="2.5"/>
<circle cx="267.1" cy="340.4" r="24.90" fill="none" stroke="#000" stroke-width="2.5"/>
<circle cx="267.1" cy="340.4" r="30.25" fill="none" stroke="#000" stroke-width="2.5"/>
<circle cx="267.1" cy="340.4" r="35.60" fill="none" stroke="#000" stroke-width="2.5"/>
<circle cx="166.4" cy="362.1" r="14.20" fill="none" stroke="#000" stroke-width="2.5"/>
<circle cx="166.4" cy="362.1" r="19.55" fill="none" stroke="#000" stroke-width="2.5"/>
<circle cx="166.4" cy="362.1" r="24.90" fill="none" stroke="#000" stroke-width="2.5"/>
<circle cx="166.4" cy="362.1" r="30.25" fill="none" stroke="#000" stroke-width="2.5"/>
<circle cx="166.4" cy="362.1" r="35.60" fill="none" stroke="#000" stroke-width="2.5"/>
<circle cx="320.7" cy="358.2" r="14.20" fill="none" stroke="#000" stroke-width="2.5"/>
<circle cx="320.7" cy="358.2" r="19.55" fill="none" stroke="#000" stroke-width="2.5"/>
<circle cx="320.7" cy="358.2" r="24.90" fill="none" stroke="#000" stroke-width="2.5"/>
<circle cx="320.7" cy="358.2" r="30.25" fill="none" stroke="#000" stroke-width="2.5"/>
<circle cx="320.7" cy="358.2" r="35.60" fill="none" stroke="#000" stroke-width="2.5"/>
<circle cx="133.2" cy="402.1" r="14.20" fill="none" stroke="#000" stroke-width="2.5"/>
<circle cx="133.2" cy="402.1" r="19.55" fill="none" stroke="#000" stroke-width="2.5"/>
<circle cx="133.2" cy="402.1" r="24.90" fill="none" stroke="#000" stroke-width="2.5"/>
<circle cx="133.2" cy="402.1" r="30.25" fill="none" stroke="#000" stroke-width="2.5"/>
<circle cx="133.2" cy="402.1" r="35.60" fill="none" stroke="#000" stroke-width="2.5"/>
<circle cx="219.2" cy="400.4" r="14.20" fill="none" stroke="#000" stroke-width="2.5"/>
<circle cx="219.2" cy="400.4" r="19.55" fill="none" stroke="#000" stroke-width="2.5"/>
<circle cx="219.2" cy="400.4" r="24.90" fill="none" stroke="#000" stroke-width="2.5"/>
<circle cx="219.2" cy="400.4" r="30.25" fill="none" stroke="#000" stroke-width="2.5"/>
<circle cx="219.2" cy="400.4" r="35.60" fill="none" stroke="#000" stroke-width="2.5"/>
<circle cx="290.6" cy="402.3" r="14.20" fill="none" stroke="#000" stroke-width="2.5"/>
<circle cx="290.6" cy="402.3" r="19.55" fill="none" stroke="#000" stroke-width="2.5"/>
<circle cx="290.6" cy="402.3" r="24.90" fill="none" stroke="#000" stroke-width="2.5"/>
<circle cx="290.6" cy="402.3" r="30.25" fill="none" stroke="#000" stroke-width="2.5"/>
<circle cx="290.6" cy="402.3" r="35.60" fill="none" stroke="#000" stroke-width="2.5"/>
<circle cx="361.4" cy="394.6" r="14.20" fill="none" stroke="#000" stroke-width="2.5"/>
<circle cx="361.4" cy="394.6" r="19.55" fill="none" stroke="#000" stroke-width="2.5"/>
<circle cx="361.4" cy="394.6" r="24.90" fill="none" stroke="#000" stroke-width="2.5"/>
<circle cx="361.4" cy="394.6" r="30.25" fill="none" stroke="#000" stroke-width="2.5"/>
<circle cx="361.4" cy="394.6" r="35.60" fill="none" stroke="#000" stroke-width="2.5"/>
<circle cx="176.3" cy="452.8" r="14.20" fill="none" stroke="#000" stroke-width="2.5"/>
<circle cx="176.3" cy="452.8" r="19.55" fill="none" stroke="#000" stroke-width="2.5"/>
<circle cx="176.3" cy="452.8" r="24.90" fill="none" stroke="#000" stroke-width="2.5"/>
<circle cx="176.3" cy="452.8" r="30.25" fill="none" stroke="#000" stroke-width="2.5"/>
<circle cx="176.3" cy="452.8" r="35.60" fill="none" stroke="#000" stroke-width="2.5"/>
<circle cx="248.2" cy="459.8" r="14.20" fill="none" stroke="#000" stroke-width="2.5"/>
<circle cx="248.2" cy="459.8" r="19.55" fill="none" stroke="#000" stroke-width="2.5"/>
<circle cx="248.2" cy="459.8" r="24.90" fill="none" stroke="#000" stroke-width="2.5"/>
<circle cx="248.2" cy="459.8" r="30.25" fill="none" stroke="#000" stroke-width="2.5"/>
<circle cx="248.2" cy="459.8" r="35.60" fill="none" stroke="#000" stroke-width="2.5"/>
<circle cx="324.6" cy="457.6" r="14.20" fill="none" stroke="#000" stroke-width="2.5"/>
<circle cx="324.6" cy="457.6" r="19.55" fill="none" stroke="#000" stroke-width="2.5"/>
<circle cx="324.6" cy="457.6" r="24.90" fill="none" stroke="#000" stroke-width="2.5"/>
<circle cx="324.6" cy="457.6" r="30.25" fill="none" stroke="#000" stroke-width="2.5"/>
<circle cx="324.6" cy="457.6" r="35.60" fill="none" stroke="#000" stroke-width="2.5"/>
<!-- dark spots -->
<circle cx="729.6" cy="381.4" r="18.6" fill="#1c1c1c" fill-opacity="0.73"/>
<circle cx="684.3" cy="420.5" r="18.3" fill="#1c1c1c" fill-opacity="0.73"/>
<circle cx="685.6" cy="482.6" r="19.0" fill="#1c1c1c" fill-opacity="0.73"/>
<circle cx="778.6" cy="428.0" r="18.8" fill="#1c1c1c" fill-opacity="0.73"/>
<circle cx="822.6" cy="398.5" r="18.8" fill="#1c1c1c" fill-opacity="0.73"/>
<circle cx="811.0" cy="468.0" r="18.6" fill="#1c1c1c" fill-opacity="0.73"/>
<!-- arrows -->
<polygon points="562.1,259.9 666.4,446.4 669.1,440.3 672.0,461.5 655.4,448.0 662.1,448.8 557.9,262.1" fill="#000"/>
<polygon points="668.3,173.6 679.7,382.0 684.8,377.7 678.0,398.0 669.1,378.5 674.6,382.3 663.7,173.8" fill="#000"/>
<polygon points="783.6,36.1 734.6,341.2 740.6,338.1 729.7,356.5 725.1,335.6 729.8,340.4 779.0,35.3" fill="#000"/>
<polygon points="825.0,167.4 791.0,375.4 797.0,372.3 786.0,390.7 781.5,369.8 786.2,374.6 820.4,166.6" fill="#000"/>
<polygon points="935.1,189.1 837.2,365.7 843.8,364.8 827.3,378.4 830.1,357.2 832.9,363.3 930.9,186.9" fill="#000"/>
<polygon points="950.8,441.7 850.1,460.2 855.3,465.9 834.3,462.0 852.3,450.5 849.7,457.7 949.8,436.9" fill="#000"/>
<g clip-path="url(#bclip2)">
<polygon points="563.0,259.3 666.1,443.7 669.4,437.3 672.0,461.5 652.7,446.6 660.0,447.1 557.0,262.7" fill="#000"/>
<polygon points="669.4,173.5 680.6,379.4 686.3,375.1 678.0,398.0 667.3,376.1 673.4,379.8 662.6,173.9" fill="#000"/>
<polygon points="784.7,36.2 736.1,338.9 742.7,335.9 729.7,356.5 723.9,332.9 729.2,337.8 777.9,35.2" fill="#000"/>
<polygon points="826.1,167.6 792.4,373.1 799.0,370.1 786.0,390.7 780.2,367.0 785.5,372.0 819.3,166.4" fill="#000"/>
<polygon points="936.0,189.7 839.3,364.0 846.5,363.4 827.3,378.4 829.8,354.2 833.2,360.6 930.0,186.3" fill="#000"/>
<polygon points="951.0,442.7 852.8,460.7 858.1,467.0 834.3,462.0 854.5,448.3 851.9,456.2 949.6,435.9" fill="#000"/>
</g>
<!-- labels -->
<g font-family="'Liberation Sans', sans-serif" font-size="27.5" text-anchor="middle" fill="#000" stroke="#4e4e4e" stroke-width="2.6" stroke-linejoin="round" paint-order="stroke" text-rendering="geometricPrecision">
<text x="246.5" y="56.5" textLength="300" lengthAdjust="spacingAndGlyphs">Я ощущаю целостность.</text>
<text x="246.5" y="90.0" textLength="265" lengthAdjust="spacingAndGlyphs">Я люблю свою жизнь.</text>
<text x="246.0" y="123.4" textLength="494" lengthAdjust="spacingAndGlyphs">Я не испытываю никакого принуждения.</text>
<text x="246.5" y="156.9" textLength="468" lengthAdjust="spacingAndGlyphs">Я чувствую легкость и безмятежность.</text>
<text x="246.5" y="190.4" textLength="275" lengthAdjust="spacingAndGlyphs">Я доверяю вселенной.</text>
<text x="839.5" y="21.8" textLength="122" lengthAdjust="spacingAndGlyphs">Я не сплю</text>
<text x="840.0" y="55.3" textLength="99" lengthAdjust="spacingAndGlyphs">ночами.</text>
<text x="627.5" y="130.8" textLength="143" lengthAdjust="spacingAndGlyphs">Меня никто</text>
<text x="627.5" y="163.0" textLength="119" lengthAdjust="spacingAndGlyphs">не любит.</text>
<text x="568.0" y="223.8" textLength="162" lengthAdjust="spacingAndGlyphs">У меня болит</text>
<text x="567.0" y="256.4" textLength="78" lengthAdjust="spacingAndGlyphs">спина.</text>
<text x="867.0" y="124.3" textLength="158" lengthAdjust="spacingAndGlyphs">Я плохо себя</text>
<text x="868.0" y="157.0" textLength="119" lengthAdjust="spacingAndGlyphs">чувствую.</text>
<text x="992.0" y="161.8" textLength="91" lengthAdjust="spacingAndGlyphs">Мне не</text>
<text x="991.0" y="195.5" textLength="97" lengthAdjust="spacingAndGlyphs">хватает</text>
<text x="992.0" y="229.0" textLength="113" lengthAdjust="spacingAndGlyphs">времени.</text>
<text x="1031.0" y="411.0" textLength="82" lengthAdjust="spacingAndGlyphs">У меня</text>
<text x="1032.3" y="446.0" textLength="147" lengthAdjust="spacingAndGlyphs">проблемы с</text>
<text x="1030.8" y="479.0" textLength="120" lengthAdjust="spacingAndGlyphs">деньгами.</text>
</g>
</svg>
</body>
</html>
